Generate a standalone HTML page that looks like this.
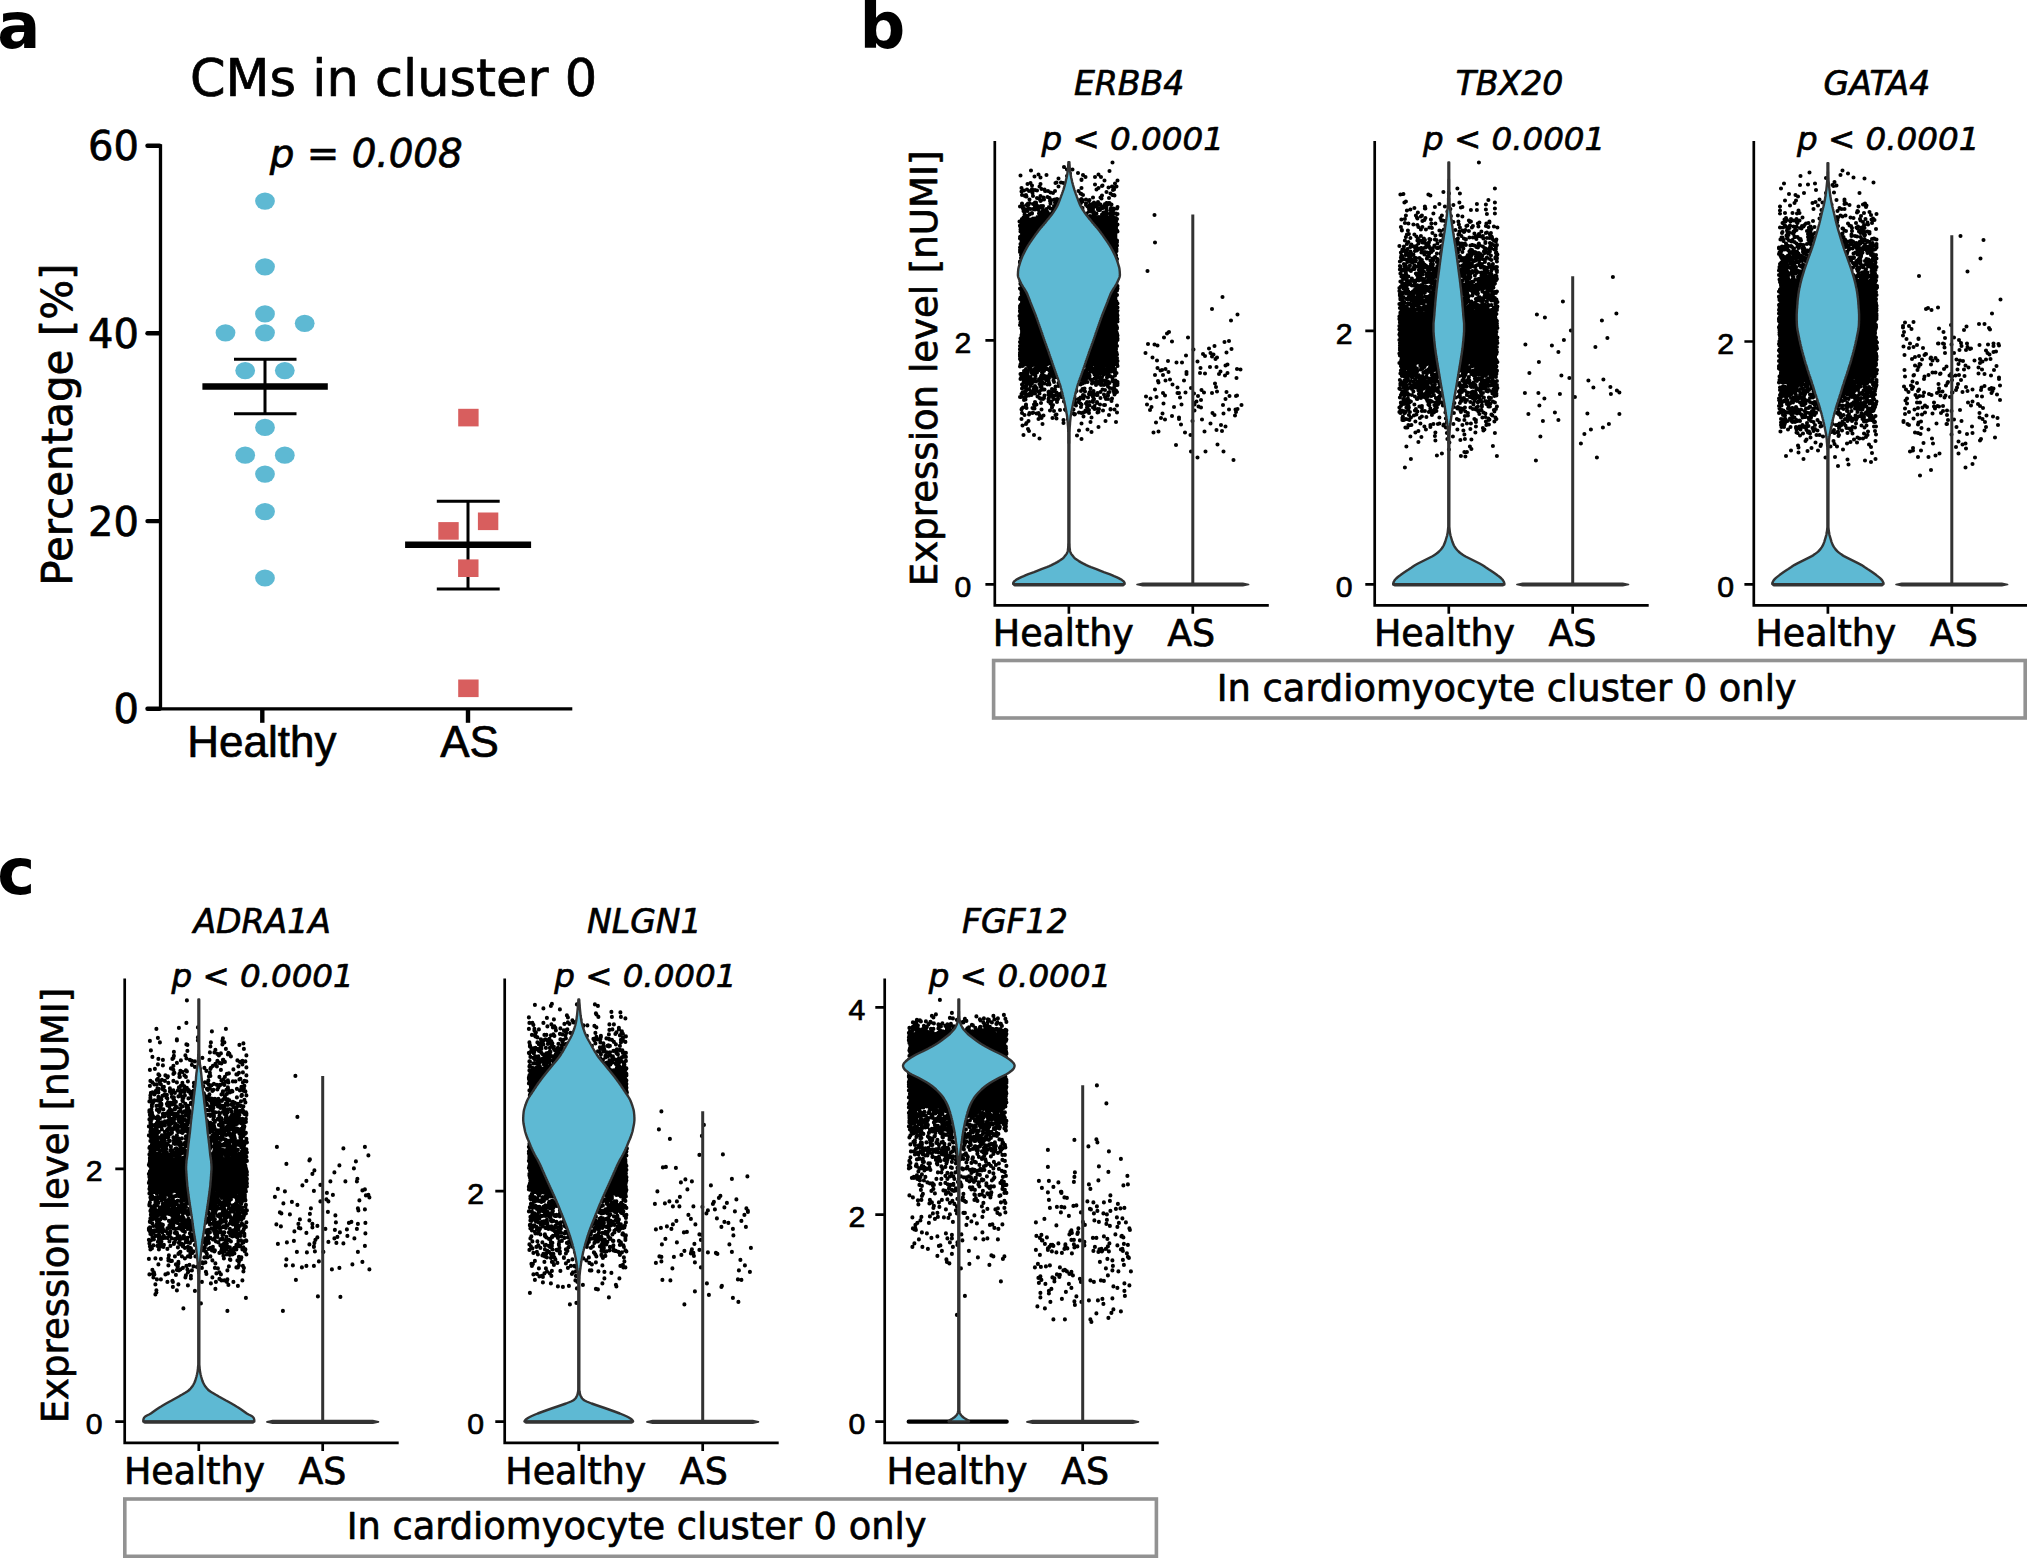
<!DOCTYPE html>
<html lang="en"><head><meta charset="utf-8"><title>Figure</title>
<style>html,body{margin:0;padding:0;background:#fff}svg{display:block}text{stroke:#000;stroke-width:.7px;stroke-linejoin:round}text.nb{stroke:none}</style></head>
<body><svg width="2027" height="1558" viewBox="0 0 2027 1558">
<rect width="2027" height="1558" fill="#fff"/>
<text x="-2.8" y="48.3" font-size="64" text-anchor="start" font-family="'DejaVu Sans', 'Liberation Sans', sans-serif" font-weight="bold" class="nb">a</text>
<text x="859.6" y="48" font-size="64" text-anchor="start" font-family="'DejaVu Sans', 'Liberation Sans', sans-serif" font-weight="bold" class="nb">b</text>
<text x="-2.8" y="894.1" font-size="64" text-anchor="start" font-family="'DejaVu Sans', 'Liberation Sans', sans-serif" font-weight="bold" class="nb">c</text>
<g stroke="#000" fill="none" stroke-linecap="butt">
<path d="M160.5 144.3 V708.8 H572.3" stroke-width="3.3" stroke-linejoin="miter"/>
</g>
<g stroke="#000" stroke-width="4.4" stroke-linecap="round">
<path d="M147.5 145.8 H159.5"/>
<path d="M147.5 333.2 H159.5"/>
<path d="M147.5 521.1 H159.5"/>
<path d="M147.5 708.8 H159.5"/>
</g>
<g stroke="#000" stroke-width="4.4" stroke-linecap="butt">
<path d="M262.3 708.8 V722.8"/>
<path d="M468 708.8 V722.8"/>
</g>
<text x="139" y="160.4" font-size="40" text-anchor="end" font-family="'DejaVu Sans', 'Liberation Sans', sans-serif">60</text>
<text x="139" y="347.8" font-size="40" text-anchor="end" font-family="'DejaVu Sans', 'Liberation Sans', sans-serif">40</text>
<text x="139" y="535.7" font-size="40" text-anchor="end" font-family="'DejaVu Sans', 'Liberation Sans', sans-serif">20</text>
<text x="139" y="723.4" font-size="40" text-anchor="end" font-family="'DejaVu Sans', 'Liberation Sans', sans-serif">0</text>
<text x="261.9" y="757.4" font-size="44" text-anchor="middle" font-family="'Liberation Sans', 'Liberation Sans', sans-serif">Healthy</text>
<text x="469.6" y="757.4" font-size="44" text-anchor="middle" font-family="'Liberation Sans', 'Liberation Sans', sans-serif">AS</text>
<text x="393.5" y="95.5" font-size="51" text-anchor="middle" font-family="'DejaVu Sans', 'Liberation Sans', sans-serif">CMs in cluster 0</text>
<text x="366.3" y="166.6" font-size="38.8" text-anchor="middle" font-family="'DejaVu Sans', 'Liberation Sans', sans-serif" font-style="oblique">p = 0.008</text>
<text transform="translate(72.2 424.7) rotate(-90)" font-size="42.0" text-anchor="middle" font-family="'DejaVu Sans', 'Liberation Sans', sans-serif">Percentage [%]</text>
<g fill="#5EB9D3">
<ellipse cx="265" cy="201.1" rx="9.9" ry="8.6"/>
<ellipse cx="265" cy="266.8" rx="9.9" ry="8.6"/>
<ellipse cx="265" cy="313.9" rx="9.9" ry="8.6"/>
<ellipse cx="304.7" cy="323.3" rx="9.9" ry="8.6"/>
<ellipse cx="225.5" cy="332.8" rx="9.9" ry="8.6"/>
<ellipse cx="265" cy="332.8" rx="9.9" ry="8.6"/>
<ellipse cx="245.2" cy="370.6" rx="9.9" ry="8.6"/>
<ellipse cx="284.8" cy="370.6" rx="9.9" ry="8.6"/>
<ellipse cx="265" cy="427.4" rx="9.9" ry="8.6"/>
<ellipse cx="245.2" cy="455.2" rx="9.9" ry="8.6"/>
<ellipse cx="284.8" cy="455.2" rx="9.9" ry="8.6"/>
<ellipse cx="265" cy="474.1" rx="9.9" ry="8.6"/>
<ellipse cx="265" cy="511.7" rx="9.9" ry="8.6"/>
<ellipse cx="265" cy="578" rx="9.9" ry="8.6"/>
</g>
<g stroke="#000" stroke-width="3" fill="none">
<path d="M265 359.3 V413.8 M234 359.3 H296.5 M234 413.8 H296.5"/>
<path d="M468 501.2 V589 M436.8 501.2 H499.7 M436.8 589 H499.7"/>
</g>
<g stroke="#000" stroke-width="6.4" fill="none">
<path d="M202.4 386.5 H327.8 M405.1 544.8 H531.1"/>
</g>
<g fill="#D85E5E">
<rect x="458.2" y="408.8" width="20.4" height="17.6"/>
<rect x="477.9" y="512.5" width="20.4" height="17.6"/>
<rect x="438.3" y="522.1" width="20.4" height="17.6"/>
<rect x="458.1" y="559.4" width="20.4" height="17.6"/>
<rect x="458.2" y="679.5" width="20.4" height="17.6"/>
</g>
<g transform="translate(0 0)">
<path d="M994.8 141 V605.4 H1268.8" stroke="#000" stroke-width="2.7" fill="none"/>
<path d="M985.4 340.3 H994.8M985.4 584.3 H994.8M1068.9 605.4 V613.7M1192.8 605.4 V613.7" stroke="#000" stroke-width="2.7" fill="none"/>
<text x="971.4" y="353" font-size="30.2" text-anchor="end" font-family="'Liberation Sans', 'Liberation Sans', sans-serif">2</text>
<text x="971.4" y="597" font-size="30.2" text-anchor="end" font-family="'Liberation Sans', 'Liberation Sans', sans-serif">0</text>
<text x="1063.3" y="646.2" font-size="36.4" text-anchor="middle" font-family="'DejaVu Sans', 'Liberation Sans', sans-serif">Healthy</text>
<text x="1191.2" y="646.2" font-size="36.4" text-anchor="middle" font-family="'DejaVu Sans', 'Liberation Sans', sans-serif">AS</text>
<text x="1129.1" y="95.3" font-size="33.1" text-anchor="middle" font-family="'DejaVu Sans', 'Liberation Sans', sans-serif" font-style="oblique">ERBB4</text>
<text x="1132.7" y="149.9" font-size="32.5" text-anchor="middle" font-family="'DejaVu Sans', 'Liberation Sans', sans-serif" font-style="oblique">p &lt; 0.0001</text>
<rect x="1020.1" y="218.6" width="97.2" height="144.5" fill="#000"/>
<path d="M1112.5 162.5h0m-48.5 4.5h0m3 2.5h0m5.5 0h0m-41.5 1h0m78.5 0.5h0m-31.5 2h0m-39.5 1.5h0m31.5 -1h0m28.5 1h0m-78 1h0m26 -0.5h0m36.5 0h0m-48.5 1.5h0m32.5 -0.5h0m-26.5 1.5h0m45 -0.5h0m9.5 0h0m6 0h0m-42.5 1.5h0m23 1.5h0m0 -0.5h0m23 1h0m13 0h0m-87 2.5h0m25 0h0m1 -0.5h0m4.5 0h0m2.5 0.5h0m-36 1h0m13 0h0m74.5 -0.5h0m-83 2h0m63 -1h0m7 1.5h0m0.5 -0.5h0m-63 1h0m19 0h0m53.5 0h0m3 0.5h0m1.5 -0.5h0m-95 1.5h0m60 0h0m17 0h0m10 -0.5h0m-76.5 1.5h0m9.5 0h0m31 0.5h0m41.5 0h0m-90 1h0m3 -1h0m8 0.5h0m9.5 -0.5h0m52 0h0m16.5 0.5h0m-91.5 1.5h0m7.5 -0.5h0m2.5 0h0m5.5 -0.5h0m8 0.5h0m0.5 0h0m2.5 0h0m7 0h0m23.5 0h0m-28 1.5h0m56 -0.5h0m-74 1h0m20.5 0h0m27.5 0.5h0m30 0h0m-29 0.5h0m-59.5 1h0m4 0h0m57 0h0m29.5 0h0m1.5 0h0m-89 1h0m0 -0.5h0m1 1h0m0.5 0h0m6.5 -0.5h0m7.5 0h0m61.5 -0.5h0m12.5 0h0m-67 1.5h0m45.5 0.5h0m7.5 0h0m-63.5 0.5h0m6.5 -0.5h0m6 0.5h0m52 0.5h0m7.5 -0.5h0m-79.5 1.5h0m10 -0.5h0m15 0.5h0m2.5 -0.5h0m24.5 0h0m4.5 0.5h0m-45 1h0m3 -1h0m7.5 0.5h0m6 -0.5h0m1.5 0.5h0m21 0h0m2.5 0h0m7 0h0m-49 1h0m9.5 0h0m10.5 0h0m22 0.5h0m6.5 -0.5h0m-54 1.5h0m59 0h0m4 -0.5h0m-68.5 1h0m6.5 -0.5h0m0 1h0m14.5 -1h0m4.5 0h0m1.5 0.5h0m24.5 0h0m16.5 0.5h0m1 -0.5h0m8 0h0m0.5 0h0m1.5 0h0m0 0h0m1 0h0m-87.5 0.5h0m6 0h0m5 0.5h0m17.5 -0.5h0m28 0.5h0m7.5 -0.5h0m4 1h0m3 -1h0m12 0.5h0m3 0.5h0m-81.5 0.5h0m0 0h0m0.5 0h0m1.5 0h0m8.5 0.5h0m49 -0.5h0m4 -0.5h0m10.5 0h0m11 0h0m-88.5 1.5h0m18 0h0m2 0h0m11 0h0m1 0h0m1 -0.5h0m1.5 0.5h0m30 0.5h0m3.5 -0.5h0m3 0.5h0m1 -0.5h0m2 -0.5h0m6.5 1h0m1 -0.5h0m-84.5 0.5h0m15 0h0m4.5 0h0m0 1h0m1 -0.5h0m2 0.5h0m6.5 -0.5h0m32.5 0.5h0m15.5 -0.5h0m20.5 0h0m-94.5 1.5h0m1 0h0m58.5 -0.5h0m7 -0.5h0m9.5 0.5h0m1 0h0m1.5 0h0m1.5 0h0m3.5 0h0m4.5 0h0m-88 0.5h0m5 0h0m2.5 0.5h0m2.5 0h0m2 0.5h0m3 -0.5h0m8.5 0h0m4 -0.5h0m2 0.5h0m0.5 0h0m0.5 -0.5h0m35.5 0.5h0m1 -0.5h0m3 0.5h0m5 0h0m0 0.5h0m0.5 0h0m2 -0.5h0m13 -0.5h0m3.5 0h0m-90.5 1.5h0m12 0h0m4.5 0h0m2.5 0h0m8 0.5h0m29 -0.5h0m16 0h0m1.5 0h0m6.5 0.5h0m4 -0.5h0m3 0h0m-90 1h0m4 0h0m25.5 0.5h0m38.5 -0.5h0m15 0.5h0m4.5 -1h0m2 0.5h0m-68.5 1.5h0m3 -0.5h0m41.5 -0.5h0m2 0h0m1.5 0.5h0m1.5 0h0m9.5 0.5h0m-79 0h0m6.5 1h0m1 -0.5h0m0 0.5h0m8.5 0h0m0.5 -1h0m1.5 1h0m1 -1h0m8.5 0.5h0m32 0.5h0m2.5 0h0m27 0h0m-74.5 0h0m11.5 0.5h0m46 -0.5h0m10 0.5h0m3.5 -0.5h0m3 1h0m3 -1h0m0.5 0.5h0m0 0h0m1 0h0m-93 1h0m1.5 0.5h0m3.5 -1h0m11 1h0m7 -1h0m3.5 0.5h0m0.5 0.5h0m42 -0.5h0m0.5 0.5h0m8 -1h0m9 1h0m2 -1h0m41.5 0.5h0m-129.5 1h0m0.5 -0.5h0m15 0h0m2 0.5h0m0 0.5h0m2 -1h0m0 0.5h0m2 0h0m1.5 -0.5h0m1.5 0.5h0m36.5 0h0m0.5 0h0m3.5 0h0m5 0h0m9.5 -0.5h0m7.5 1h0m-84.5 0h0m10 0.5h0m0.5 0.5h0m1 -0.5h0m1 -0.5h0m2 1h0m0 0h0m1 -0.5h0m0.5 -0.5h0m7 0h0m38 0.5h0m3 0h0m7 0h0m2 0h0m0.5 0h0m0 0h0m2 -0.5h0m0.5 0h0m3.5 0.5h0m2.5 0h0m3.5 0h0m0.5 0.5h0m-90 0h0m19 0.5h0m3 0h0m1.5 0h0m0 0.5h0m2.5 -0.5h0m37.5 -0.5h0m5 0.5h0m1 -0.5h0m2 0.5h0m2 0h0m2 0.5h0m0.5 -1h0m4 0h0m3 0h0m2 0.5h0m2 0.5h0m1 0h0m2 -0.5h0m2.5 0h0m-94 1h0m1.5 0.5h0m0 -0.5h0m2.5 -0.5h0m0 0.5h0m4 0.5h0m3 -1h0m1 0.5h0m0.5 -0.5h0m5.5 0h0m54 0h0m1 1h0m2.5 -0.5h0m0 -0.5h0m6 1h0m2 -0.5h0m1 -0.5h0m1 0.5h0m3 0.5h0m6 -0.5h0m0.5 0h0m-94.5 1h0m4.5 0h0m1 -0.5h0m0.5 1h0m0 -0.5h0m1.5 0.5h0m3 -1h0m1.5 0.5h0m3 -0.5h0m2 0.5h0m3.5 -0.5h0m49 0h0m1.5 0.5h0m3.5 0h0m0 -0.5h0m4 1h0m2.5 -0.5h0m1 0.5h0m6.5 -1h0m1 0.5h0m3.5 -0.5h0m-96 2h0m0.5 0h0m1.5 -1h0m1 0h0m11 0h0m2 0h0m10.5 0.5h0m3 0h0m0 -0.5h0m39.5 0h0m4.5 0h0m9 0h0m3.5 0h0m-85.5 1.5h0m96 -0.5h0m-94.5 2.5h0m96 0.5h0m-97.5 1h0m0 0.5h0m1 0h0m95.5 -0.5h0m-96 1.5h0m1.5 0h0m94 0h0m0 -0.5h0m-0.5 1.5h0m-94.5 1h0m94.5 0.5h0m0.5 -1h0m-95.5 1h0m95.5 0.5h0m1 0.5h0m0 1h0m-96.5 0h0m96.5 0h0m0.5 0h0m-97 5h0m-0.5 0.5h0m0 1.5h0m0.5 0h0m1 0h0m94 2h0m-94 0.5h0m95.5 0h0m0 -0.5h0m-95.5 2h0m95.5 -0.5h0m-1 1h0m39 -0.5h0m-134.5 1.5h0m1.5 0h0m94.5 0h0m0 1h0m0.5 0.5h0m-95.5 1.5h0m94.5 0h0m-96 0.5h0m96 0.5h0m0.5 1h0m-96.5 1h0m0.5 -0.5h0m95 1h0m1 0.5h0m-96.5 1h0m0.5 -0.5h0m0.5 1h0m1 1.5h0m-1 1h0m0.5 -0.5h0m94.5 1h0m-94.5 2h0m0.5 -0.5h0m93.5 0.5h0m0.5 0h0m-95 0.5h0m94.5 -0.5h0m-93.5 1h0m95 0.5h0m-0.5 2h0m-96.5 0.5h0m1 1h0m-1 0h0m0.5 0.5h0m0 0.5h0m96 -0.5h0m0.5 1.5h0m-96 0.5h0m96.5 2.5h0m-97.5 0.5h0m97.5 0h0m0 1h0m0 0h0m0 1h0m30 1h0m-30 1.5h0m-97.5 0.5h0m0 2h0m0.5 3.5h0m96.5 0h0m0.5 0h0m-96.5 0.5h0m96 0h0m-0.5 1h0m-1 1.5h0m1 -0.5h0m-96 0.5h0m95.5 0h0m-95.5 2h0m1.5 0h0m93.5 -0.5h0m-95 1h0m95 -0.5h0m0.5 0.5h0m0.5 0.5h0m1 1.5h0m-2 1h0m-95.5 1.5h0m97.5 0h0m-96.5 1h0m94.5 0h0m0.5 1h0m0.5 0h0m0.5 0h0m-95.5 1.5h0m0.5 0h0m-0.5 1.5h0m95.5 1.5h0m0 0h0m-96.5 2.5h0m1 0h0m201 -0.5h0m-201.5 1h0m-1 1h0m0 0h0m0.5 0h0m96 2.5h0m-0.5 2h0m1.5 0h0m-1.5 0.5h0m-95 0.5h0m1 1h0m-2 0.5h0m1.5 -0.5h0m0 0h0m94.5 1.5h0m0 0h0m0.5 -0.5h0m1 1h0m-97.5 0.5h0m1.5 -0.5h0m94.5 1h0m1 -0.5h0m-96 1.5h0m94.5 -1h0m96.5 0.5h0m-192 1.5h0m95.5 -0.5h0m0 0h0m2 0.5h0m-97.5 1h0m0.5 1h0m0 0.5h0m96 0h0m0.5 0h0m-96 1h0m216.5 0.5h0m-216 1h0m-2 0.5h0m2.5 0.5h0m94 -0.5h0m1.5 -0.5h0m-2 1.5h0m1.5 0h0m-96 1h0m1 -0.5h0m-2 1.5h0m0.5 0h0m95 0.5h0m2 -0.5h0m113.5 1.5h0m-115 0h0m-94 1.5h0m95.5 -0.5h0m-97 1h0m0.5 1h0m1 0h0m-2 1.5h0m95.5 1.5h0m0 0h0m1 -0.5h0m0.5 2.5h0m0 -1h0m-95.5 1h0m95 3.5h0m52.5 0h0m-52 1.5h0m50 0h0m-145.5 1.5h0m95 0h0m-95 1.5h0m96 -1h0m-96 1.5h0m94.5 0h0m0 0h0m1 0h0m47 0.5h0m24 0h0m-70.5 1h0m-97 0h0m97 0.5h0m-95.5 1.5h0m94 -0.5h0m1.5 0h0m-96 0.5h0m207.5 0.5h0m-209 1h0m152 -0.5h0m52.5 0.5h0m-204 0.5h0m1 0.5h0m0 0h0m94 0h0m0.5 -0.5h0m0 0.5h0m32 1h0m6.5 0.5h0m3 1h0m-137.5 0.5h0m0.5 0h0m96.5 0h0m97.5 0h0m-193.5 2h0m-1 1h0m1.5 -0.5h0m0.5 0.5h0m93.5 0h0m0.5 0h0m77.5 0.5h0m15.5 -1h0m22.5 0.5h0m-211.5 0.5h0m1 0.5h0m1 0.5h0m0 -1h0m-1 2h0m0.5 0.5h0m94.5 0h0m0 0h0m0.5 0.5h0m-96.5 0h0m1 1h0m95 -0.5h0m29.5 0h0m65 0h0m16 -0.5h0m-206.5 1.5h0m1 0h0m95 0h0m0.5 -0.5h0m86.5 0.5h0m10.5 0.5h0m-193.5 0h0m0 1h0m97 -1h0m69 1h0m-70.5 0.5h0m89.5 0h0m7 0.5h0m-192 0h0m0.5 0.5h0m0 0h0m0 1.5h0m1.5 -0.5h0m94.5 0h0m0 0h0m0.5 0h0m35.5 -0.5h0m64.5 0h0m-197 1.5h0m96 0h0m99.5 0h0m-194.5 1h0m1 0h0m94.5 0.5h0m40.5 0h0m-136 0.5h0m3.5 0h0m0.5 0h0m12 0h0m5.5 0h0m44 0.5h0m1 0h0m2 0h0m5 0h0m1 -0.5h0m3 0.5h0m5 0h0m1.5 -0.5h0m1.5 0h0m1.5 0.5h0m9 -0.5h0m0.5 0h0m50.5 0h0m-143.5 0.5h0m4.5 0.5h0m1.5 -0.5h0m1 1h0m2.5 -1h0m0.5 1h0m2.5 -0.5h0m8.5 -0.5h0m3 0.5h0m1 0h0m1.5 0h0m0 -0.5h0m1 0.5h0m1.5 0.5h0m32 -0.5h0m6 0.5h0m5 -0.5h0m1.5 0.5h0m0 -1h0m8 0.5h0m1.5 0h0m1 0.5h0m68 0h0m21 -1h0m-176.5 2h0m2.5 -0.5h0m3.5 -0.5h0m3.5 0.5h0m1 0h0m2.5 0h0m8 0h0m0.5 0h0m2.5 0h0m0.5 0h0m3 0.5h0m0 0h0m0.5 -0.5h0m1.5 0h0m1 0h0m0.5 -0.5h0m32.5 0.5h0m0.5 0h0m4.5 -0.5h0m2 0h0m0.5 0h0m0 1h0m4.5 -0.5h0m2.5 -0.5h0m0.5 0h0m3.5 1h0m0.5 -0.5h0m7 0.5h0m1.5 -0.5h0m3 0h0m67 -0.5h0m-161.5 2h0m2 0h0m6 -0.5h0m11 0.5h0m1.5 0h0m5.5 -1h0m0.5 1h0m44 -0.5h0m2 0.5h0m15 0h0m2.5 -1h0m1.5 0h0m3.5 0.5h0m1.5 0h0m-94 1h0m0.5 0h0m1.5 -0.5h0m2.5 0.5h0m5.5 0h0m3 0h0m2.5 -0.5h0m1 0.5h0m1 -0.5h0m1 1h0m3 0h0m2 -1h0m5.5 0h0m0.5 0h0m32 0.5h0m2 0.5h0m1 -0.5h0m0.5 0h0m1 -0.5h0m0.5 0h0m0.5 0.5h0m0 -0.5h0m1.5 0h0m2 0h0m2.5 0.5h0m1.5 -0.5h0m3 0.5h0m5.5 0h0m119.5 0.5h0m2 -1h0m-207 1.5h0m2 0h0m6 0h0m1 -0.5h0m9 0.5h0m4 -0.5h0m44.5 0.5h0m0.5 0.5h0m1 -0.5h0m2 0.5h0m6 -1h0m3.5 0.5h0m1 -0.5h0m1.5 0.5h0m0 0h0m4 0h0m0.5 0h0m2.5 0h0m1.5 0h0m2 0.5h0m4.5 -0.5h0m-97.5 0.5h0m10.5 1h0m7.5 -0.5h0m13 0h0m2.5 0h0m2 0h0m0.5 0.5h0m25 -0.5h0m1 0.5h0m5 -0.5h0m4 0h0m5 -0.5h0m1 0h0m6 0.5h0m8 0h0m0.5 -0.5h0m98.5 0.5h0m6.5 0h0m-186.5 1h0m9 -0.5h0m1.5 0h0m0 0h0m6 1h0m7 -0.5h0m28 0h0m13 0.5h0m0 0h0m2 -0.5h0m6 0.5h0m1 0h0m4 -0.5h0m6 0h0m44 0h0m43 0h0m-174.5 1h0m8.5 0h0m1 -0.5h0m4.5 0.5h0m4 -0.5h0m2.5 0.5h0m1.5 0h0m4.5 0h0m34.5 0h0m1 0h0m3.5 -0.5h0m3 0h0m3.5 0.5h0m0.5 0h0m3 0.5h0m11 -0.5h0m0.5 0.5h0m2 -0.5h0m50.5 0h0m71.5 0h0m3.5 0.5h0m-212 0.5h0m4.5 0h0m9 0h0m8 0h0m3.5 0h0m41 0.5h0m4 0h0m4 0h0m0 -1h0m4 0.5h0m0.5 -0.5h0m1 1h0m2.5 -1h0m1.5 0h0m50 0.5h0m-138 1h0m1 -0.5h0m6.5 0.5h0m0 0.5h0m1.5 0h0m0.5 0h0m0.5 -0.5h0m2 0.5h0m2.5 -1h0m5.5 0.5h0m5.5 0h0m7 0h0m23.5 -0.5h0m1.5 0.5h0m3 0h0m1.5 0h0m4.5 0.5h0m0.5 -0.5h0m3.5 -0.5h0m11 0h0m6 1h0m3.5 -0.5h0m45.5 -0.5h0m-133 2h0m14.5 0h0m10 -0.5h0m0.5 0h0m4.5 0h0m23 0h0m4 0h0m8.5 -0.5h0m0.5 0.5h0m3.5 -0.5h0m0.5 0.5h0m1.5 0h0m6.5 -0.5h0m5.5 0h0m4.5 0.5h0m0.5 0h0m53 0h0m18 0h0m34 -0.5h0m-197.5 2h0m2.5 -0.5h0m6 0h0m3 -0.5h0m2 0h0m0.5 0h0m5.5 0h0m10.5 0h0m1 0.5h0m29 0h0m6 0h0m5 0h0m1 0h0m1 0.5h0m4.5 -1h0m0.5 0.5h0m0.5 0h0m15 0h0m83.5 0h0m27.5 0h0m-207 1h0m0.5 0h0m3.5 -0.5h0m8.5 0.5h0m16.5 0.5h0m3 0h0m2 -0.5h0m24.5 0h0m8 0h0m2 0.5h0m5.5 0h0m1 -0.5h0m1.5 0h0m2.5 0h0m4.5 0.5h0m2.5 -0.5h0m2 0h0m6.5 -0.5h0m71.5 0.5h0m18.5 -0.5h0m14 0.5h0m-197.5 1.5h0m6 -0.5h0m7.5 0h0m6.5 0.5h0m8 -0.5h0m2.5 0.5h0m2.5 -0.5h0m3.5 0.5h0m22.5 -1h0m3 0.5h0m0.5 0h0m2 0h0m0 -0.5h0m1 0.5h0m0.5 0h0m1.5 0h0m8.5 0.5h0m17.5 0h0m40 -0.5h0m8 0h0m62 0.5h0m-201 0.5h0m1.5 0h0m0.5 0.5h0m9.5 -0.5h0m8.5 -0.5h0m0 0.5h0m14 0h0m22.5 0.5h0m6.5 -1h0m2.5 0h0m6.5 1h0m13 -0.5h0m1 0h0m0.5 0.5h0m0 0h0m-85.5 0.5h0m2.5 0h0m3 0h0m10.5 -0.5h0m2.5 1h0m3 -1h0m6.5 0.5h0m1.5 0.5h0m1 -0.5h0m0 0h0m1 0h0m26 -0.5h0m4 0h0m2 1h0m1 -1h0m6.5 1h0m3.5 0h0m2.5 -0.5h0m10 0h0m-91 1h0m10 0.5h0m4 0h0m8 0h0m3 -0.5h0m3 0h0m9.5 0h0m0 0h0m1.5 0.5h0m18 -1h0m5.5 0.5h0m4 0h0m8 -0.5h0m0 0.5h0m1 0h0m10.5 -0.5h0m5.5 0.5h0m124 0h0m-216 1h0m2 0h0m3 0.5h0m1 -1h0m4.5 0h0m8 0.5h0m1.5 -0.5h0m5 0.5h0m1 0h0m12.5 -0.5h0m18 1h0m3.5 -0.5h0m0 -0.5h0m1 0.5h0m4.5 0h0m5 0.5h0m3.5 -1h0m6 0.5h0m69.5 0.5h0m-145 0h0m1.5 0h0m3.5 0.5h0m0.5 -0.5h0m0 1h0m3.5 -0.5h0m12 0h0m7.5 0.5h0m29.5 0h0m9 -0.5h0m8.5 0h0m3 0.5h0m0.5 0h0m8.5 0h0m3 0h0m50 0h0m18.5 0h0m-148.5 0.5h0m0.5 0.5h0m3 -1h0m0.5 0h0m2.5 1h0m6.5 -0.5h0m30 0h0m7.5 0h0m6 0h0m5.5 0.5h0m8.5 -0.5h0m0.5 0.5h0m6 -0.5h0m45.5 0h0m-132.5 1.5h0m3 0h0m5.5 -1h0m14.5 0.5h0m5.5 0h0m31 0h0m2.5 0h0m5.5 0.5h0m3 -0.5h0m2.5 -0.5h0m9 0.5h0m0.5 -0.5h0m9.5 0.5h0m41 0.5h0m-135 0h0m4 0h0m3.5 1h0m1 -0.5h0m8 0.5h0m9 -0.5h0m9.5 0h0m23 0h0m3.5 -0.5h0m12 1h0m2 -1h0m2.5 0h0m4 1h0m2 -0.5h0m2 0h0m-80 0.5h0m2 0h0m8 0.5h0m1.5 -0.5h0m3.5 0h0m5 1h0m10 -0.5h0m23 -0.5h0m9.5 0h0m4.5 0h0m2 0h0m7 0.5h0m0 -0.5h0m1 0.5h0m8 0h0m3 -0.5h0m55 1h0m42.5 -1h0m-193 1h0m0.5 0.5h0m4 0h0m14 0.5h0m7 -1h0m33 0h0m15.5 0.5h0m5 0h0m3 0h0m11 0h0m0.5 -0.5h0m1 0h0m0.5 0h0m0 0.5h0m0.5 0h0m-94 1h0m2.5 0.5h0m4.5 -0.5h0m4.5 0h0m5.5 0.5h0m1 -0.5h0m17 0h0m49.5 0.5h0m6.5 -0.5h0m-80.5 1h0m21.5 -0.5h0m20.5 0.5h0m101.5 0.5h0m38.5 -0.5h0m-193.5 1h0m1.5 -0.5h0m1.5 0h0m9.5 0.5h0m1.5 0.5h0m0 -0.5h0m39.5 0.5h0m8.5 0h0m6 0h0m19 -0.5h0m81.5 0h0m-169 0.5h0m4 0.5h0m3 0h0m4.5 0.5h0m9 -0.5h0m0.5 0.5h0m9 -0.5h0m3 0.5h0m27.5 -0.5h0m29.5 -0.5h0m2.5 0.5h0m0 0.5h0m-87.5 0.5h0m14 0h0m3.5 -0.5h0m39.5 0h0m18.5 0h0m2.5 0.5h0m8.5 0.5h0m41.5 -1h0m46.5 0.5h0m-170.5 1.5h0m4 -0.5h0m3.5 0.5h0m10.5 0h0m27.5 -0.5h0m4.5 0h0m12.5 0h0m22.5 -0.5h0m101 1h0m-194.5 1h0m1.5 -0.5h0m24.5 0h0m4.5 -0.5h0m3.5 1h0m5.5 0h0m12.5 -1h0m0.5 1h0m10 -1h0m4.5 1h0m0.5 -0.5h0m10.5 0h0m8 0.5h0m1 -0.5h0m7.5 0h0m87 0.5h0m22.5 -0.5h0m-203.5 1h0m1 0h0m9 0.5h0m0.5 -0.5h0m1.5 0.5h0m15 -0.5h0m47.5 0h0m16.5 -0.5h0m49 0.5h0m14.5 0h0m1.5 0h0m6.5 -0.5h0m26.5 0.5h0m-190.5 1h0m4 -0.5h0m3.5 0.5h0m10.5 -0.5h0m9 1h0m11 -0.5h0m29.5 0h0m1.5 0.5h0m2.5 -0.5h0m1 0h0m14 0h0m7 -0.5h0m79 0h0m-168 1.5h0m5.5 0h0m13 0.5h0m7 -0.5h0m9 0h0m22.5 0h0m13.5 0h0m1 0h0m6.5 -0.5h0m4 1h0m6.5 -1h0m-88.5 2h0m3 -1h0m25.5 0h0m3.5 0.5h0m26.5 0h0m61.5 0.5h0m19 -1h0m33 0.5h0m31.5 0h0m6.5 0h0m1 -0.5h0m-217 1.5h0m1 0h0m0 0h0m2 0h0m14.5 -0.5h0m11.5 1h0m12.5 -0.5h0m11 -0.5h0m2 0.5h0m18.5 0h0m12 0h0m51.5 0h0m23.5 0.5h0m-140.5 0.5h0m4.5 0h0m9 -0.5h0m11 0h0m16.5 0h0m2 0.5h0m5.5 -0.5h0m12.5 0.5h0m0 0h0m50 0.5h0m-125 1h0m15.5 -0.5h0m1 -0.5h0m1 0.5h0m5.5 0h0m5.5 0h0m3.5 0h0m0.5 0h0m6.5 0h0m10.5 0.5h0m3.5 -0.5h0m5 -0.5h0m10.5 0.5h0m12 0h0m2 0h0m4 -0.5h0m113.5 0.5h0m-201.5 1h0m1 -0.5h0m54.5 0h0m121.5 0.5h0m-149.5 1.5h0m5.5 -1h0m36 0h0m18.5 0.5h0m-76.5 1h0m13.5 -0.5h0m8.5 0.5h0m7 -0.5h0m7 1h0m7.5 -0.5h0m8.5 0h0m2.5 0h0m3.5 0h0m4 0h0m99.5 -0.5h0m-155.5 1.5h0m9.5 0.5h0m21 -0.5h0m4 0h0m5 0.5h0m16.5 -0.5h0m66.5 0.5h0m30.5 -0.5h0m-121 1h0m1 0h0m7.5 0.5h0m4.5 -1h0m61 1h0m34.5 0h0m-155.5 1h0m0 -1h0m8 0h0m1.5 0.5h0m1 -0.5h0m16.5 0.5h0m14 0h0m9 0.5h0m11 -0.5h0m13 -0.5h0m4 0.5h0m1 0h0m12 0.5h0m77.5 -1h0m28.5 0.5h0m18.5 0h0m-189.5 1h0m37.5 -0.5h0m5 0.5h0m-13.5 1h0m6 0.5h0m6 0h0m58.5 -0.5h0m22.5 0h0m24.5 -0.5h0m2.5 1h0m-179 1h0m1 -1h0m3.5 0.5h0m6 0h0m19.5 -0.5h0m18 0.5h0m-35.5 0.5h0m7 1h0m23.5 0h0m8.5 0h0m21 -0.5h0m3 0h0m1.5 0h0m11.5 0.5h0m0 -0.5h0m4 0.5h0m123 -0.5h0m-216 0.5h0m38.5 0.5h0m6 0.5h0m19.5 0h0m3.5 -0.5h0m61 0h0m44.5 0.5h0m34.5 -1h0m6.5 0h0m-185.5 1h0m4 0.5h0m34.5 0.5h0m14.5 -1h0m-70 2h0m46 0h0m4 0h0m0.5 0h0m1 -0.5h0m1.5 -0.5h0m11.5 1h0m1 -0.5h0m18.5 0.5h0m119 -0.5h0m-214 1h0m7.5 0h0m3 0h0m4 0.5h0m2 -0.5h0m35 0.5h0m8 -0.5h0m7.5 0h0m123.5 0h0m-137.5 1h0m87.5 -0.5h0m61 0h0m-199 1.5h0m4.5 -0.5h0m10.5 0.5h0m16 0h0m1 -0.5h0m18 0h0m34.5 0.5h0m105.5 0h0m20.5 0.5h0m-191.5 0h0m128.5 0.5h0m-132 0.5h0m29 0.5h0m14.5 -0.5h0m-42 1.5h0m11 0h0m4 0.5h0m35 -1h0m69.5 0.5h0m18 -0.5h0m-157.5 1.5h0m17 0h0m29.5 0h0m97 0.5h0m14 -0.5h0m23 0.5h0m-138.5 0.5h0m-35 1h0m77 0h0m87 0h0m-102 1h0m25.5 0h0m-89.5 1h0m37 0h0m18 0.5h0m74.5 -1h0m-130 1.5h0m16.5 0h0m26.5 0.5h0m141.5 -1h0m-188 2h0m46.5 -0.5h0m112 -0.5h0m40 0.5h0m4.5 1.5h0m-127 0.5h0m-70.5 2h0m59.5 0.5h0m129 0.5h0m-187.5 1h0m50 -0.5h0m125.5 1h0m17.5 -0.5h0m-130.5 1h0m62 0.5h0m5 -1h0m26.5 1h0m-161.5 2.5h0m10.5 0h0m156.5 0h0m-113.5 0.5h0m-37.5 3h0m42 0.5h0m136 5.5h0m-41.5 0.5h0m29.5 6.5h0m-14.5 0h0m32.5 0h0m-26 6h0m36 2.5h0" stroke="#000" stroke-width="4.1" stroke-linecap="round" fill="none"/>
<path d="M1068.4 162.1 1068.4 163.1 1068.3 164.1 1068.2 165.1 1068.2 166.1 1068.1 167.1 1068 168.1 1067.9 169.1 1067.8 170.1 1067.7 171.1 1067.6 172.1 1067.4 173.1 1067.3 174.1 1067.1 175.1 1066.9 176.1 1066.7 177.1 1066.5 178.1 1066.2 179.1 1066 180.1 1065.8 181.1 1065.6 182.1 1065.3 183.1 1065 184.1 1064.8 185.1 1064.5 186.1 1064.2 187.1 1063.9 188.1 1063.6 189.1 1063.3 190.1 1062.9 191.1 1062.6 192.1 1062.2 193.1 1061.9 194.1 1061.5 195.1 1061.1 196.1 1060.8 197.1 1060.4 198.1 1060 199.1 1059.7 200.1 1059.3 201.1 1058.9 202.1 1058.5 203.1 1058.1 204.1 1057.6 205.1 1057.1 206.1 1056.6 207.1 1056 208.1 1055.4 209.1 1054.8 210.1 1054.1 211.1 1053.5 212.1 1052.8 213.1 1052.1 214.1 1051.4 215.1 1050.6 216.1 1049.8 217.1 1049 218.1 1048.1 219.1 1047.3 220.1 1046.5 221.1 1045.7 222.1 1044.8 223.1 1044 224.1 1043.1 225.1 1042.3 226.1 1041.4 227.1 1040.6 228.1 1039.8 229.1 1039 230.1 1038.2 231.1 1037.5 232.1 1036.7 233.1 1036 234.1 1035.2 235.1 1034.5 236.1 1033.8 237.1 1033.1 238.1 1032.4 239.1 1031.7 240.1 1031 241.1 1030.3 242.1 1029.6 243.1 1029 244.1 1028.3 245.1 1027.7 246.1 1027.1 247.1 1026.5 248.1 1026 249.1 1025.4 250.1 1024.9 251.1 1024.4 252.1 1023.9 253.1 1023.4 254.1 1022.9 255.1 1022.5 256.1 1022.1 257.1 1021.7 258.1 1021.3 259.1 1020.9 260.1 1020.6 261.1 1020.2 262.1 1019.9 263.1 1019.6 264.1 1019.3 265.1 1019 266.1 1018.7 267.1 1018.5 268.1 1018.3 269.1 1018.2 270.1 1018.1 271.1 1018 272.1 1018 273.1 1017.9 274.1 1017.9 275.1 1018 276.1 1018.2 277.1 1018.6 278.1 1019 279.1 1019.5 280.1 1019.9 281.1 1020.4 282.1 1020.9 283.1 1021.4 284.1 1022 285.1 1022.6 286.1 1023.2 287.1 1023.9 288.1 1024.5 289.1 1025.1 290.1 1025.7 291.1 1026.3 292.1 1026.8 293.1 1027.3 294.1 1027.7 295.1 1028.1 296.1 1028.5 297.1 1028.9 298.1 1029.3 299.1 1029.7 300.1 1030.1 301.1 1030.4 302.1 1030.8 303.1 1031.2 304.1 1031.6 305.1 1032 306.1 1032.4 307.1 1032.8 308.1 1033.2 309.1 1033.6 310.1 1034 311.1 1034.4 312.1 1034.8 313.1 1035.2 314.1 1035.6 315.1 1036 316.1 1036.3 317.1 1036.7 318.1 1037.1 319.1 1037.4 320.1 1037.8 321.1 1038.1 322.1 1038.5 323.1 1038.8 324.1 1039.2 325.1 1039.5 326.1 1039.9 327.1 1040.2 328.1 1040.6 329.1 1040.9 330.1 1041.3 331.1 1041.6 332.1 1042 333.1 1042.3 334.1 1042.6 335.1 1043 336.1 1043.3 337.1 1043.7 338.1 1044 339.1 1044.4 340.1 1044.7 341.1 1045.1 342.1 1045.4 343.1 1045.8 344.1 1046.2 345.1 1046.5 346.1 1046.9 347.1 1047.2 348.1 1047.6 349.1 1048 350.1 1048.3 351.1 1048.7 352.1 1049 353.1 1049.3 354.1 1049.7 355.1 1050 356.1 1050.4 357.1 1050.7 358.1 1051.1 359.1 1051.4 360.1 1051.8 361.1 1052.1 362.1 1052.4 363.1 1052.8 364.1 1053.1 365.1 1053.5 366.1 1053.8 367.1 1054.2 368.1 1054.5 369.1 1054.9 370.1 1055.2 371.1 1055.6 372.1 1055.9 373.1 1056.3 374.1 1056.6 375.1 1057 376.1 1057.3 377.1 1057.7 378.1 1058.1 379.1 1058.4 380.1 1058.8 381.1 1059.1 382.1 1059.4 383.1 1059.8 384.1 1060.1 385.1 1060.4 386.1 1060.7 387.1 1060.9 388.1 1061.2 389.1 1061.5 390.1 1061.7 391.1 1062 392.1 1062.3 393.1 1062.5 394.1 1062.7 395.1 1063 396.1 1063.2 397.1 1063.5 398.1 1063.7 399.1 1063.9 400.1 1064.2 401.1 1064.4 402.1 1064.6 403.1 1064.8 404.1 1065 405.1 1065.2 406.1 1065.4 407.1 1065.6 408.1 1065.8 409.1 1066 410.1 1066.2 411.1 1066.3 412.1 1066.5 413.1 1066.7 414.1 1066.9 415.1 1067 416.1 1067.2 417.1 1067.3 418.1 1067.4 419.1 1067.5 420.1 1067.6 421.1 1067.7 422.1 1067.8 423.1 1067.8 424.1 1067.9 425.1 1068 426.1 1068.1 427.1 1068.1 428.1 1068.2 429.1 1068.2 430.1 1068.2 431.1 1068.3 432.1 1068.3 433.1 1068.3 434.1 1068.3 435.1 1068.3 436.1 1068.3 437.1 1068.3 438.1 1068.3 439.1 1068.3 440.1 1068.3 441.1 1068.3 442.1 1068.3 443.1 1068.4 444.1 1068.4 445.1 1068.4 446.1 1068.4 447.1 1068.4 448.1 1068.4 449.1 1068.4 450.1 1068.4 451.1 1068.4 452.1 1068.4 453.1 1068.4 454.1 1068.4 455.1 1068.4 456.1 1068.4 457.1 1068.4 458.1 1068.4 459.1 1068.4 460.1 1068.4 461.1 1068.4 462.1 1068.4 463.1 1068.4 464.1 1068.4 465.1 1068.4 466.1 1068.4 467.1 1068.4 468.1 1068.4 469.1 1068.4 470.1 1068.4 471.1 1068.4 472.1 1068.4 473.1 1068.4 474.1 1068.4 475.1 1068.4 476.1 1068.4 477.1 1068.4 478.1 1068.4 479.1 1068.4 480.1 1068.4 481.1 1068.4 482.1 1068.4 483.1 1068.4 484.1 1068.4 485.1 1068.4 486.1 1068.4 487.1 1068.4 488.1 1068.4 489.1 1068.4 490.1 1068.4 491.1 1068.4 492.1 1068.4 493.1 1068.4 494.1 1068.4 495.1 1068.4 496.1 1068.4 497.1 1068.4 498.1 1068.4 499.1 1068.4 500.1 1068.4 501.1 1068.4 502.1 1068.4 503.1 1068.4 504.1 1068.4 505.1 1068.4 506.1 1068.4 507.1 1068.4 508.1 1068.4 509.1 1068.4 510.1 1068.4 511.1 1068.4 512.1 1068.4 513.1 1068.4 514.1 1068.4 515.1 1068.4 516.1 1068.4 517.1 1068.4 518.1 1068.4 519.1 1068.4 520.1 1068.4 521.1 1068.4 522.1 1068.4 523.1 1068.4 524.1 1068.4 525.1 1068.4 526.1 1068.4 527.1 1068.4 528.1 1068.4 529.1 1068.4 530.1 1068.4 531.1 1068.4 532.1 1068.4 533.1 1068.4 534.1 1068.4 535.1 1068.4 536.1 1068.4 537.1 1068.4 538.1 1068.4 539.1 1068.4 540.1 1068.4 541.1 1068.4 542.1 1068.4 543.1 1068.3 544.1 1068.3 545.1 1068.3 546.1 1068.2 547.1 1068.2 548.1 1068 549.1 1067.9 550.1 1067.7 551.1 1067.4 552.1 1067 553.1 1066.4 554.1 1065.7 555.1 1064.9 556.1 1064.1 557.1 1063.1 558.1 1062 559.1 1060.5 560.1 1058.9 561.1 1057.2 562.1 1055.4 563.1 1053.4 564.1 1051.5 565.1 1049.3 566.1 1046.8 567.1 1044.1 568.1 1041.4 569.1 1039 570.1 1036.5 571.1 1034 572.1 1031.2 573.1 1028.3 574.1 1025.9 575.1 1023.7 576.1 1021.3 577.1 1019.2 578.1 1017.4 579.1 1015.8 580.1 1014.5 581.1 1013.7 582.1 1013.2 583.1 1013.2 584.1 L1124.6 584.1 1124.6 583.1 1124.1 582.1 1123.3 581.1 1122 580.1 1120.4 579.1 1118.6 578.1 1116.5 577.1 1114.1 576.1 1111.9 575.1 1109.5 574.1 1106.6 573.1 1103.8 572.1 1101.3 571.1 1098.8 570.1 1096.4 569.1 1093.7 568.1 1091 567.1 1088.5 566.1 1086.3 565.1 1084.4 564.1 1082.4 563.1 1080.6 562.1 1078.9 561.1 1077.3 560.1 1075.8 559.1 1074.7 558.1 1073.7 557.1 1072.9 556.1 1072.1 555.1 1071.4 554.1 1070.8 553.1 1070.4 552.1 1070.1 551.1 1069.9 550.1 1069.8 549.1 1069.6 548.1 1069.6 547.1 1069.5 546.1 1069.5 545.1 1069.5 544.1 1069.4 543.1 1069.4 542.1 1069.4 541.1 1069.4 540.1 1069.4 539.1 1069.4 538.1 1069.4 537.1 1069.4 536.1 1069.4 535.1 1069.4 534.1 1069.4 533.1 1069.4 532.1 1069.4 531.1 1069.4 530.1 1069.4 529.1 1069.4 528.1 1069.4 527.1 1069.4 526.1 1069.4 525.1 1069.4 524.1 1069.4 523.1 1069.4 522.1 1069.4 521.1 1069.4 520.1 1069.4 519.1 1069.4 518.1 1069.4 517.1 1069.4 516.1 1069.4 515.1 1069.4 514.1 1069.4 513.1 1069.4 512.1 1069.4 511.1 1069.4 510.1 1069.4 509.1 1069.4 508.1 1069.4 507.1 1069.4 506.1 1069.4 505.1 1069.4 504.1 1069.4 503.1 1069.4 502.1 1069.4 501.1 1069.4 500.1 1069.4 499.1 1069.4 498.1 1069.4 497.1 1069.4 496.1 1069.4 495.1 1069.4 494.1 1069.4 493.1 1069.4 492.1 1069.4 491.1 1069.4 490.1 1069.4 489.1 1069.4 488.1 1069.4 487.1 1069.4 486.1 1069.4 485.1 1069.4 484.1 1069.4 483.1 1069.4 482.1 1069.4 481.1 1069.4 480.1 1069.4 479.1 1069.4 478.1 1069.4 477.1 1069.4 476.1 1069.4 475.1 1069.4 474.1 1069.4 473.1 1069.4 472.1 1069.4 471.1 1069.4 470.1 1069.4 469.1 1069.4 468.1 1069.4 467.1 1069.4 466.1 1069.4 465.1 1069.4 464.1 1069.4 463.1 1069.4 462.1 1069.4 461.1 1069.4 460.1 1069.4 459.1 1069.4 458.1 1069.4 457.1 1069.4 456.1 1069.4 455.1 1069.4 454.1 1069.4 453.1 1069.4 452.1 1069.4 451.1 1069.4 450.1 1069.4 449.1 1069.4 448.1 1069.4 447.1 1069.4 446.1 1069.4 445.1 1069.4 444.1 1069.5 443.1 1069.5 442.1 1069.5 441.1 1069.5 440.1 1069.5 439.1 1069.5 438.1 1069.5 437.1 1069.5 436.1 1069.5 435.1 1069.5 434.1 1069.5 433.1 1069.5 432.1 1069.6 431.1 1069.6 430.1 1069.6 429.1 1069.7 428.1 1069.7 427.1 1069.8 426.1 1069.9 425.1 1070 424.1 1070 423.1 1070.1 422.1 1070.2 421.1 1070.3 420.1 1070.4 419.1 1070.5 418.1 1070.6 417.1 1070.8 416.1 1070.9 415.1 1071.1 414.1 1071.3 413.1 1071.5 412.1 1071.6 411.1 1071.8 410.1 1072 409.1 1072.2 408.1 1072.4 407.1 1072.6 406.1 1072.8 405.1 1073 404.1 1073.2 403.1 1073.4 402.1 1073.6 401.1 1073.9 400.1 1074.1 399.1 1074.3 398.1 1074.6 397.1 1074.8 396.1 1075.1 395.1 1075.3 394.1 1075.5 393.1 1075.8 392.1 1076.1 391.1 1076.3 390.1 1076.6 389.1 1076.9 388.1 1077.1 387.1 1077.4 386.1 1077.7 385.1 1078 384.1 1078.4 383.1 1078.7 382.1 1079 381.1 1079.4 380.1 1079.7 379.1 1080.1 378.1 1080.5 377.1 1080.8 376.1 1081.2 375.1 1081.5 374.1 1081.9 373.1 1082.2 372.1 1082.6 371.1 1082.9 370.1 1083.3 369.1 1083.6 368.1 1084 367.1 1084.3 366.1 1084.7 365.1 1085 364.1 1085.4 363.1 1085.7 362.1 1086 361.1 1086.4 360.1 1086.7 359.1 1087.1 358.1 1087.4 357.1 1087.8 356.1 1088.1 355.1 1088.5 354.1 1088.8 353.1 1089.1 352.1 1089.5 351.1 1089.8 350.1 1090.2 349.1 1090.6 348.1 1090.9 347.1 1091.3 346.1 1091.6 345.1 1092 344.1 1092.4 343.1 1092.7 342.1 1093.1 341.1 1093.4 340.1 1093.8 339.1 1094.1 338.1 1094.5 337.1 1094.8 336.1 1095.2 335.1 1095.5 334.1 1095.8 333.1 1096.2 332.1 1096.5 331.1 1096.9 330.1 1097.2 329.1 1097.6 328.1 1097.9 327.1 1098.3 326.1 1098.6 325.1 1099 324.1 1099.3 323.1 1099.7 322.1 1100 321.1 1100.4 320.1 1100.7 319.1 1101.1 318.1 1101.5 317.1 1101.8 316.1 1102.2 315.1 1102.6 314.1 1103 313.1 1103.4 312.1 1103.8 311.1 1104.2 310.1 1104.6 309.1 1105 308.1 1105.4 307.1 1105.8 306.1 1106.2 305.1 1106.6 304.1 1107 303.1 1107.4 302.1 1107.7 301.1 1108.1 300.1 1108.5 299.1 1108.9 298.1 1109.3 297.1 1109.7 296.1 1110.1 295.1 1110.5 294.1 1111 293.1 1111.5 292.1 1112.1 291.1 1112.7 290.1 1113.3 289.1 1113.9 288.1 1114.6 287.1 1115.2 286.1 1115.8 285.1 1116.4 284.1 1116.9 283.1 1117.4 282.1 1117.9 281.1 1118.3 280.1 1118.8 279.1 1119.2 278.1 1119.6 277.1 1119.8 276.1 1119.9 275.1 1119.9 274.1 1119.8 273.1 1119.8 272.1 1119.7 271.1 1119.6 270.1 1119.5 269.1 1119.3 268.1 1119.1 267.1 1118.8 266.1 1118.5 265.1 1118.2 264.1 1117.9 263.1 1117.6 262.1 1117.2 261.1 1116.9 260.1 1116.5 259.1 1116.1 258.1 1115.7 257.1 1115.3 256.1 1114.9 255.1 1114.4 254.1 1113.9 253.1 1113.4 252.1 1112.9 251.1 1112.4 250.1 1111.8 249.1 1111.3 248.1 1110.7 247.1 1110.1 246.1 1109.5 245.1 1108.8 244.1 1108.2 243.1 1107.5 242.1 1106.8 241.1 1106.1 240.1 1105.4 239.1 1104.7 238.1 1104 237.1 1103.3 236.1 1102.6 235.1 1101.8 234.1 1101.1 233.1 1100.3 232.1 1099.6 231.1 1098.8 230.1 1098 229.1 1097.2 228.1 1096.4 227.1 1095.5 226.1 1094.7 225.1 1093.8 224.1 1093 223.1 1092.1 222.1 1091.3 221.1 1090.5 220.1 1089.7 219.1 1088.8 218.1 1088 217.1 1087.2 216.1 1086.4 215.1 1085.7 214.1 1085 213.1 1084.3 212.1 1083.7 211.1 1083 210.1 1082.4 209.1 1081.8 208.1 1081.2 207.1 1080.7 206.1 1080.2 205.1 1079.7 204.1 1079.3 203.1 1078.9 202.1 1078.5 201.1 1078.1 200.1 1077.8 199.1 1077.4 198.1 1077 197.1 1076.7 196.1 1076.3 195.1 1075.9 194.1 1075.6 193.1 1075.2 192.1 1074.9 191.1 1074.5 190.1 1074.2 189.1 1073.9 188.1 1073.6 187.1 1073.3 186.1 1073 185.1 1072.8 184.1 1072.5 183.1 1072.2 182.1 1072 181.1 1071.8 180.1 1071.6 179.1 1071.3 178.1 1071.1 177.1 1070.9 176.1 1070.7 175.1 1070.5 174.1 1070.4 173.1 1070.2 172.1 1070.1 171.1 1070 170.1 1069.9 169.1 1069.8 168.1 1069.7 167.1 1069.6 166.1 1069.6 165.1 1069.5 164.1 1069.4 163.1 1069.4 162.1 Z" fill="#5EB9D3" stroke="#333333" stroke-width="2.4" stroke-linejoin="round"/>
<path d="M1014.7 584.7 H1123.1" stroke="#333333" stroke-width="3.4" stroke-linecap="round" fill="none"/>
<path d="M1192.8 214.5 V584.3" stroke="#333333" stroke-width="3.0" fill="none"/>
<path d="M1137 584.5 L1142.8 583.2 L1242.8 583.2 L1248.6 584.5 L1242.8 585.8 L1142.8 585.8 Z" fill="#333333" stroke="#333333" stroke-width="1.6" stroke-linejoin="round"/>
</g>
<g transform="translate(379.9 0)">
<path d="M994.8 141 V605.4 H1268.8" stroke="#000" stroke-width="2.7" fill="none"/>
<path d="M985.4 330.8 H994.8M985.4 584.3 H994.8M1068.9 605.4 V613.7M1192.8 605.4 V613.7" stroke="#000" stroke-width="2.7" fill="none"/>
<text x="972.7" y="343.5" font-size="30.2" text-anchor="end" font-family="'Liberation Sans', 'Liberation Sans', sans-serif">2</text>
<text x="972.7" y="597" font-size="30.2" text-anchor="end" font-family="'Liberation Sans', 'Liberation Sans', sans-serif">0</text>
<text x="1064.6" y="646.2" font-size="36.4" text-anchor="middle" font-family="'DejaVu Sans', 'Liberation Sans', sans-serif">Healthy</text>
<text x="1192.5" y="646.2" font-size="36.4" text-anchor="middle" font-family="'DejaVu Sans', 'Liberation Sans', sans-serif">AS</text>
<text x="1129.6" y="95.3" font-size="33.1" text-anchor="middle" font-family="'DejaVu Sans', 'Liberation Sans', sans-serif" font-style="oblique">TBX20</text>
<text x="1134.2" y="149.9" font-size="32.5" text-anchor="middle" font-family="'DejaVu Sans', 'Liberation Sans', sans-serif" font-style="oblique">p &lt; 0.0001</text>
<rect x="1019.9" y="311.5" width="97.2" height="53" fill="#000"/>
<path d="M1099 162.5h0m-21.5 26h0m37.5 0h0m-51.5 3.5h0m5.5 1.5h0m-48.5 1h0m3 -0.5h0m56.5 -0.5h0m-31.5 1h0m2 1h0m58 4.5h0m-82.5 1.5h0m-1.5 1h0m90.5 0h0m-35.5 0h0m-20 1.5h0m37.5 0h0m-23.5 1h0m32.5 -0.5h0m-41 2h0m-20 0h0m10 0.5h0m27.5 0h0m-48 1h0m11 0.5h0m35.5 -1h0m34 1h0m-84.5 1h0m14.5 -1h0m25.5 0.5h0m35.5 0.5h0m-15 0.5h0m6 0h0m-70 0.5h0m11 2h0m29.5 -1h0m-14 2h0m53.5 0.5h0m8 -0.5h0m-89 2h0m16 0h0m20 0h0m16 0h0m-42 0h0m35 0.5h0m-34 1.5h0m4 -1h0m41.5 0h0m-37 1.5h0m15 0h0m-35.5 1h0m12.5 -0.5h0m-16 1h0m23 0.5h0m6.5 -0.5h0m10.5 1h0m1.5 0h0m7.5 -0.5h0m18.5 0.5h0m-46.5 0.5h0m22.5 0h0m13.5 0.5h0m-5 0.5h0m16.5 0h0m1 -0.5h0m18.5 0h0m0 1h0m-84.5 0.5h0m26.5 0.5h0m4 0h0m44 -1h0m-71 1h0m5 1h0m45.5 0h0m19 -1h0m8.5 0h0m-69 1.5h0m50 0.5h0m-22 0h0m21 0.5h0m6.5 0h0m13 0h0m-85 1h0m17.5 0h0m4 0h0m56 -0.5h0m10 0.5h0m5.5 -0.5h0m3.5 1h0m-68 0h0m2 0h0m0.5 0.5h0m28 -0.5h0m12 0h0m-46 2h0m18 0h0m-42 0.5h0m0 0.5h0m19 -1h0m18.5 1h0m6.5 -1h0m9.5 0.5h0m7 0.5h0m3 -0.5h0m-57.5 0.5h0m33 0.5h0m18.5 0.5h0m5 0h0m4.5 -0.5h0m-5 1h0m17.5 -0.5h0m-49 1.5h0m27 0h0m15 0.5h0m11.5 -0.5h0m1 -0.5h0m4 0.5h0m-82 1h0m5.5 0.5h0m38 -0.5h0m6 0.5h0m20.5 -0.5h0m11 0.5h0m-83 0h0m33.5 0.5h0m1 0h0m-25 1.5h0m4.5 -0.5h0m14.5 -0.5h0m9 0h0m17 0.5h0m14.5 0h0m2 0h0m1 0h0m2 0.5h0m2 -0.5h0m-77 1h0m63.5 0.5h0m22 -1h0m0.5 0.5h0m-81.5 1h0m0 0h0m47.5 0.5h0m15 -1h0m14 0.5h0m2.5 0h0m2 -0.5h0m-73.5 1h0m6 0h0m5.5 0.5h0m1 0.5h0m4.5 0h0m8.5 -1h0m20.5 0h0m1.5 0.5h0m0.5 0.5h0m10.5 -0.5h0m7 -0.5h0m9 0.5h0m-75 1.5h0m0.5 -1h0m7 0.5h0m5 0h0m6.5 0h0m16 -0.5h0m3 0.5h0m2 -0.5h0m36.5 1h0m2.5 -1h0m-91.5 1h0m15.5 0h0m2.5 0h0m17.5 0.5h0m11.5 0h0m1 0h0m2 0.5h0m2.5 -0.5h0m38.5 0.5h0m-87.5 0.5h0m14 0.5h0m1.5 0h0m61.5 -0.5h0m-67 1.5h0m6.5 -0.5h0m1.5 0.5h0m2.5 -1h0m8.5 1h0m20.5 -1h0m4 1h0m3 0h0m14 0h0m6.5 -0.5h0m4.5 0h0m-83 1h0m4.5 0.5h0m32.5 0h0m9.5 -0.5h0m4 0h0m2.5 -0.5h0m18.5 1h0m13.5 -0.5h0m0 0h0m-81 1.5h0m23.5 0h0m18.5 0h0m9 0h0m4 -0.5h0m4.5 0.5h0m1.5 -0.5h0m0.5 0h0m21 0h0m3.5 0h0m-97.5 1h0m4.5 0.5h0m8.5 -0.5h0m4 0h0m10 -0.5h0m2.5 0.5h0m12.5 0h0m0.5 0.5h0m32.5 -1h0m5.5 0h0m3 1h0m7.5 -0.5h0m-80 1h0m4 -0.5h0m0 0.5h0m11.5 0h0m14 0h0m3 0h0m11 -0.5h0m0.5 1h0m0.5 -0.5h0m5.5 -0.5h0m2 0h0m14 0.5h0m13.5 0.5h0m6 -0.5h0m-80.5 1h0m1.5 0h0m4 0h0m0.5 0h0m2.5 0h0m1.5 -0.5h0m0.5 0h0m4 0.5h0m3 0h0m4 0h0m0.5 0h0m1 0h0m1.5 -0.5h0m4 0.5h0m9.5 -0.5h0m2.5 0h0m22 0h0m6.5 0.5h0m7 0.5h0m-89 1h0m5 -0.5h0m11.5 0h0m11.5 -0.5h0m12 1h0m15.5 -0.5h0m1.5 0.5h0m4 -1h0m22.5 0h0m3.5 1h0m6.5 -0.5h0m-92 1h0m13 0.5h0m16 0h0m11 0h0m11.5 -0.5h0m1.5 0.5h0m13.5 -0.5h0m1 0.5h0m0 -0.5h0m0.5 0h0m13.5 0h0m0 0h0m9 -0.5h0m-90 1.5h0m1.5 0h0m0.5 0h0m8.5 0h0m1.5 -0.5h0m5.5 0.5h0m9 0.5h0m10.5 0h0m28 0h0m1.5 -0.5h0m1.5 0h0m11.5 0.5h0m5.5 -1h0m0.5 1h0m-88 0h0m8.5 0h0m13 0.5h0m1.5 0h0m6.5 0h0m23.5 0h0m3 0.5h0m4.5 -0.5h0m9.5 0.5h0m3 -0.5h0m1 0.5h0m8.5 -0.5h0m5 0h0m0 0h0m7 0.5h0m-95.5 0h0m8 1h0m2 -1h0m10.5 0h0m6 0h0m9.5 1h0m4 -0.5h0m30 0h0m8 0h0m6 0h0m2.5 -0.5h0m1 1h0m7.5 -0.5h0m-90 1h0m1.5 0h0m2.5 0.5h0m1 -1h0m2.5 1h0m11 0h0m5 -1h0m0 0h0m11.5 0.5h0m2 0h0m28 0.5h0m1.5 -0.5h0m3.5 0h0m0.5 0.5h0m4 -0.5h0m-79 1.5h0m4 -0.5h0m0.5 0h0m5.5 0h0m30.5 0h0m14 0h0m12 0h0m3.5 0h0m5.5 0h0m5.5 0.5h0m15 -1h0m-87 1.5h0m17 0.5h0m14 -0.5h0m18.5 0h0m7.5 0h0m1.5 0h0m7 0.5h0m1 -1h0m14 0h0m5.5 0.5h0m-95.5 1.5h0m1.5 -0.5h0m6.5 -0.5h0m2 0h0m4 1h0m14 -1h0m6 0.5h0m23.5 0.5h0m12.5 -1h0m9.5 0.5h0m1 0.5h0m0 -1h0m14 1h0m0.5 -0.5h0m-86 1h0m6 0h0m3.5 0h0m13 0.5h0m3 -1h0m24.5 0h0m2 0.5h0m1 0h0m3 -0.5h0m11.5 1h0m9.5 -1h0m10 0.5h0m-92.5 1h0m7 0.5h0m9 -0.5h0m0.5 0.5h0m6 -1h0m10.5 0.5h0m26 0h0m3.5 0h0m0 0h0m1.5 0h0m2.5 0h0m5 0h0m2.5 0h0m1 -0.5h0m3 0.5h0m3.5 0h0m4 0h0m5.5 -0.5h0m1.5 0h0m-94.5 1h0m3.5 0h0m1.5 0.5h0m1 -0.5h0m6 0.5h0m6 0.5h0m1.5 -0.5h0m8.5 0.5h0m2.5 0h0m0.5 -0.5h0m8 0h0m23.5 0.5h0m9 0h0m1.5 0h0m4 -0.5h0m5 -0.5h0m7 0.5h0m-91.5 1.5h0m1 -1h0m9.5 1h0m1 -0.5h0m4.5 -0.5h0m4.5 0.5h0m19.5 0h0m16.5 0h0m5 -0.5h0m7.5 1h0m4 -1h0m1.5 0.5h0m1.5 -0.5h0m21 1h0m-89.5 0.5h0m8 -0.5h0m4.5 1h0m3 0h0m14 -0.5h0m4 0h0m17 0h0m10 -0.5h0m0.5 1h0m16.5 -0.5h0m-72.5 0.5h0m26.5 1h0m25.5 -0.5h0m3 0h0m0.5 0h0m4 0.5h0m7.5 -0.5h0m-75.5 1h0m15 -0.5h0m2 0.5h0m3.5 0.5h0m6.5 -0.5h0m2 0h0m22.5 0h0m16.5 0h0m10 0h0m7 0h0m4 0h0m-87.5 1.5h0m0 -0.5h0m17 0h0m9 -0.5h0m1.5 0h0m34 1h0m1.5 0h0m9 -0.5h0m2.5 0.5h0m0 -1h0m-80 1.5h0m0.5 0.5h0m4 -1h0m1.5 0.5h0m4 -0.5h0m4.5 0h0m2.5 1h0m9 -1h0m11.5 0.5h0m21.5 0h0m3.5 -0.5h0m0.5 0.5h0m3.5 0h0m9 0h0m0 0.5h0m5.5 -1h0m11.5 0.5h0m-78.5 1.5h0m5.5 -0.5h0m2.5 0h0m2 0h0m5 0h0m3.5 0.5h0m32.5 -0.5h0m3 0h0m2.5 -0.5h0m1 0h0m3.5 0.5h0m9.5 0h0m3.5 0.5h0m2.5 -0.5h0m5.5 0h0m1 0h0m-92.5 1.5h0m0.5 -0.5h0m4 0h0m4.5 0h0m8.5 0.5h0m2 -1h0m2 0h0m1.5 0.5h0m1.5 0.5h0m2 -1h0m0.5 0.5h0m2.5 0.5h0m1 0h0m34 -0.5h0m1 -0.5h0m11 0h0m4.5 0h0m-85.5 2h0m3 0h0m6 -0.5h0m4 0h0m1.5 0h0m5.5 0.5h0m11.5 -0.5h0m5.5 0h0m19 0.5h0m6 -0.5h0m5 -0.5h0m17.5 1h0m9 -1h0m2.5 0.5h0m-94.5 1.5h0m5.5 -0.5h0m12 0h0m9 0h0m6 0.5h0m4.5 -0.5h0m17.5 0h0m3 0h0m3 0.5h0m1.5 -0.5h0m3.5 0h0m1 -0.5h0m8 0.5h0m10 -0.5h0m5.5 1h0m5 0h0m-95 0.5h0m3.5 0h0m0 0h0m0 -0.5h0m5.5 0h0m0.5 0.5h0m9 0.5h0m0.5 0h0m3.5 0h0m43 -0.5h0m5.5 0h0m12.5 0h0m2.5 0h0m9.5 -0.5h0m-75.5 1h0m7.5 0h0m6 0.5h0m0 0h0m2.5 0.5h0m2 -0.5h0m19 -0.5h0m2 0h0m0.5 1h0m6.5 -0.5h0m1.5 -0.5h0m3.5 0h0m1 0h0m3 1h0m1.5 -0.5h0m9 -0.5h0m0.5 0.5h0m9.5 0h0m-91 1h0m10 0.5h0m6 -1h0m0.5 1h0m4.5 0h0m2.5 -0.5h0m3 0h0m28 0.5h0m2 -1h0m3.5 0.5h0m6.5 -0.5h0m4 0.5h0m5 0.5h0m0 -1h0m3 0.5h0m2 0h0m-86 0.5h0m5.5 0h0m12 0h0m2 0.5h0m0 0h0m1.5 -0.5h0m1 0h0m0 0.5h0m0 0h0m0.5 0.5h0m7 0h0m4.5 -1h0m1 0h0m34 0.5h0m1 0h0m13.5 0h0m6 -0.5h0m1.5 0.5h0m-85 1h0m10.5 0h0m2 -0.5h0m3.5 0h0m4.5 0.5h0m11 0.5h0m0.5 -0.5h0m0.5 0h0m0 0.5h0m18.5 0h0m0.5 0h0m6.5 -0.5h0m4.5 0h0m6 0.5h0m9 -0.5h0m1.5 0h0m5.5 0h0m-89.5 1.5h0m1.5 -1h0m2 1h0m3.5 0h0m9.5 -0.5h0m10.5 0.5h0m4 0h0m3.5 0h0m25 -0.5h0m8 0.5h0m12.5 -0.5h0m1 0.5h0m7.5 0h0m2 -0.5h0m0 0.5h0m0.5 0h0m3 -1h0m1 0.5h0m-89.5 1.5h0m1 -1h0m12.5 0.5h0m6.5 0h0m0.5 0h0m0.5 0h0m2 0h0m2.5 -0.5h0m3.5 0.5h0m28 0h0m2 0h0m3.5 0h0m1 0h0m14.5 0h0m1 -0.5h0m1.5 0h0m5 0.5h0m4 0.5h0m116.5 -0.5h0m-210 1h0m15 0h0m14.5 0h0m1 -0.5h0m5.5 0h0m18 0.5h0m2 0h0m6 0h0m4 0.5h0m11.5 0h0m7.5 -0.5h0m2.5 -0.5h0m3 0.5h0m-90 1h0m0.5 -0.5h0m8 0h0m11 0.5h0m1 0h0m6.5 0h0m2.5 -0.5h0m36.5 0h0m6 1h0m3 -0.5h0m0.5 0.5h0m4.5 -0.5h0m7 0h0m6.5 0h0m-90.5 1h0m5.5 0.5h0m0.5 0h0m5 -0.5h0m1.5 0.5h0m3 -0.5h0m6 0h0m3.5 0.5h0m36 0h0m9 -1h0m4 0.5h0m4 0h0m1.5 0.5h0m3 0h0m5 0h0m-93.5 1h0m1.5 -0.5h0m7 0h0m6.5 0.5h0m0 -1h0m11.5 0.5h0m6 0.5h0m2.5 -0.5h0m23 0.5h0m3.5 -1h0m0.5 0h0m4 0.5h0m0 0.5h0m7 0h0m5.5 -0.5h0m0 0.5h0m5 -1h0m3.5 1h0m8.5 -1h0m-94 2h0m12 -1h0m9.5 0.5h0m1.5 0.5h0m1.5 -1h0m1 0.5h0m2.5 0h0m0.5 0h0m2 0h0m3.5 -0.5h0m2.5 1h0m19 -0.5h0m10 -0.5h0m0.5 0.5h0m2 0.5h0m1.5 -0.5h0m7.5 0h0m3 0.5h0m1.5 0h0m6 -1h0m0.5 0.5h0m-84 1.5h0m4 -0.5h0m13.5 0h0m2 -0.5h0m6.5 0.5h0m0.5 0h0m3.5 0.5h0m22.5 -0.5h0m3 0h0m0 0.5h0m10.5 -1h0m10 1h0m1 0h0m2.5 0h0m5 0h0m2 -1h0m2.5 1h0m-89.5 0h0m2.5 0h0m6.5 1h0m17.5 -1h0m2 0.5h0m1.5 0h0m28 0.5h0m3.5 -0.5h0m1 0h0m1.5 0h0m17.5 0h0m7 0h0m0.5 0h0m-87.5 1.5h0m3.5 -1h0m1.5 1h0m5 -0.5h0m1.5 0.5h0m3 -0.5h0m1 0h0m36.5 0.5h0m1.5 -0.5h0m10 0h0m2.5 0.5h0m3.5 -1h0m6 0.5h0m1 0h0m0.5 0h0m2 0h0m2.5 0h0m4 -0.5h0m-90.5 1h0m1 0.5h0m0.5 -0.5h0m3 1h0m8.5 -0.5h0m15.5 0.5h0m6.5 0h0m21 -0.5h0m3.5 0h0m1.5 -0.5h0m1 1h0m3 -0.5h0m8.5 0h0m3 0h0m1 0h0m0 0h0m1 -0.5h0m6 0.5h0m2 0h0m4 0h0m-91.5 0.5h0m19 0h0m4 1h0m0.5 -0.5h0m1.5 -0.5h0m1 0.5h0m7 0h0m27 0h0m4 0.5h0m1 0h0m1 -0.5h0m1 0.5h0m0 -0.5h0m0.5 -0.5h0m0 0.5h0m3 0.5h0m5 0h0m1 -0.5h0m1 0.5h0m0.5 -0.5h0m0.5 0h0m4.5 0h0m1.5 0.5h0m0.5 -0.5h0m3 0h0m4 0h0m0.5 0.5h0m-94 0.5h0m4 0.5h0m2.5 -0.5h0m12 0h0m3 0h0m7 0h0m1.5 0h0m34.5 0h0m6 -0.5h0m5 0h0m6 0.5h0m2 0.5h0m0.5 -0.5h0m1 0h0m0 0h0m0 0h0m3.5 0h0m1 0.5h0m1 -0.5h0m1 0h0m2 0h0m-85.5 1h0m9 0h0m2 0.5h0m1 -0.5h0m2 0.5h0m1.5 -0.5h0m3 0h0m3 0.5h0m4 -0.5h0m1.5 0h0m1 -0.5h0m1 1h0m24.5 -0.5h0m0.5 0.5h0m1 -0.5h0m11 -0.5h0m1 0.5h0m4.5 -0.5h0m0.5 0.5h0m3 -0.5h0m-68 1.5h0m5 0.5h0m7 0h0m0.5 -1h0m1 0.5h0m31 0h0m6.5 0h0m1 0.5h0m1.5 -0.5h0m8.5 0h0m11.5 0.5h0m0.5 -0.5h0m-89 1h0m6 -0.5h0m3 1h0m0 0h0m4.5 0h0m1 0h0m1.5 0h0m2 -0.5h0m1 0.5h0m3 -0.5h0m7.5 0h0m4 0.5h0m4 -1h0m2 0h0m22 1h0m10 -1h0m6 1h0m0.5 0h0m5 0h0m5 -1h0m0 1h0m4 -0.5h0m5.5 0.5h0m-95.5 1h0m4 -1h0m2 1h0m7.5 -1h0m3 0.5h0m0 0h0m0.5 0h0m2 0h0m2 0h0m10.5 0.5h0m4.5 -0.5h0m25.5 -0.5h0m1 0.5h0m2 -0.5h0m1 0h0m7.5 0h0m13.5 0.5h0m6 0h0m1 0h0m-93.5 1.5h0m2.5 -1h0m1.5 0h0m0.5 1h0m0.5 0h0m5.5 -1h0m2.5 0h0m5.5 0h0m1.5 1h0m0 -1h0m2.5 0.5h0m1 -0.5h0m6 0h0m2 1h0m2 -0.5h0m24.5 -0.5h0m1 0.5h0m1.5 0.5h0m11 -0.5h0m2.5 0h0m9 -0.5h0m2 0h0m6 0.5h0m3.5 0h0m-96 1h0m2.5 -0.5h0m6.5 0.5h0m1 -0.5h0m0.5 0.5h0m0.5 0h0m2 0h0m0.5 0h0m5.5 0.5h0m1 0h0m11 0h0m2.5 -1h0m28 0h0m0.5 0.5h0m5.5 -0.5h0m9.5 0.5h0m1 -0.5h0m9 0h0m5.5 1h0m0 0h0m-92.5 1h0m17.5 -1h0m1.5 0.5h0m1.5 0.5h0m16.5 -0.5h0m28 0.5h0m2 -1h0m0.5 0.5h0m5 0.5h0m12.5 -0.5h0m2 0.5h0m0.5 0h0m2 0h0m1 -0.5h0m1.5 0.5h0m1 -0.5h0m-93 0.5h0m9 1h0m4.5 -1h0m16 0.5h0m3 0h0m34 0.5h0m2.5 -0.5h0m16.5 -0.5h0m1.5 0h0m1.5 1h0m4 -0.5h0m0 0.5h0m-89 0.5h0m6 0h0m2 0h0m6.5 -0.5h0m2 0.5h0m0 0h0m2 -0.5h0m0 0.5h0m0.5 0h0m3 -0.5h0m2 0.5h0m4 0h0m3.5 0h0m31 0.5h0m2.5 -0.5h0m10.5 0.5h0m0.5 -0.5h0m5 -0.5h0m3.5 0.5h0m4 -0.5h0m1 1h0m-92.5 1h0m0 -0.5h0m2.5 0h0m4.5 0.5h0m5.5 -0.5h0m1.5 -0.5h0m0.5 1h0m3 0h0m3.5 -0.5h0m5 0h0m2.5 0h0m6.5 0h0m1 -0.5h0m24.5 0.5h0m6 -0.5h0m14 0.5h0m4 -0.5h0m10 0.5h0m-94.5 1.5h0m6 -0.5h0m0.5 -0.5h0m1 1h0m1 -1h0m0.5 0h0m3.5 0.5h0m1 0h0m7 0.5h0m8.5 -0.5h0m2.5 0.5h0m1 -0.5h0m28 -0.5h0m2.5 0h0m1 0.5h0m1 0h0m10.5 0h0m1 -0.5h0m11 0h0m2 0.5h0m6.5 0.5h0m-85.5 0h0m1 0.5h0m7 0h0m1.5 0.5h0m2 -0.5h0m1 0.5h0m4.5 -0.5h0m8.5 0.5h0m25.5 -1h0m6.5 1h0m9.5 -0.5h0m0.5 0h0m1 0.5h0m0.5 -1h0m3.5 0.5h0m7.5 0h0m1 0h0m3.5 0h0m1 0h0m-94 1.5h0m0.5 -0.5h0m8.5 -0.5h0m1.5 0.5h0m2 0h0m12 -0.5h0m1 1h0m0 -1h0m3.5 0.5h0m3 0h0m0.5 0.5h0m0.5 -0.5h0m1.5 0.5h0m0.5 -0.5h0m0 0.5h0m23.5 0h0m10.5 0h0m10.5 0h0m9.5 -1h0m3 0h0m1 0h0m-91 2h0m10.5 0h0m3.5 -1h0m3 1h0m6 -0.5h0m1 -0.5h0m5.5 0.5h0m1 0h0m0.5 0.5h0m24 -0.5h0m3.5 -0.5h0m6.5 0h0m2.5 1h0m3.5 0h0m7 -0.5h0m4.5 -0.5h0m10.5 0.5h0m65.5 -0.5h0m-161.5 2h0m1.5 -1h0m1 0h0m4 1h0m2 0h0m10.5 0h0m0 -0.5h0m0.5 0h0m3 -0.5h0m6 0.5h0m2.5 -0.5h0m3.5 1h0m25 -0.5h0m0 0h0m3 0h0m2 0.5h0m0.5 -1h0m9.5 1h0m7 0h0m12.5 0h0m-96 0.5h0m9.5 0.5h0m5 -1h0m4.5 0h0m4 0h0m8 1h0m4.5 -0.5h0m2.5 0h0m22.5 0.5h0m1.5 0h0m13.5 -1h0m1 0.5h0m-75 1.5h0m3 -1h0m8 0.5h0m1.5 0h0m0.5 0.5h0m2.5 -0.5h0m14 -0.5h0m1 0.5h0m5 0h0m0.5 -0.5h0m24.5 0.5h0m0.5 -0.5h0m8 0.5h0m8 0h0m3.5 0h0m0.5 0h0m2.5 -0.5h0m0.5 0.5h0m3 -0.5h0m3.5 0.5h0m4.5 0.5h0m-94.5 0.5h0m0.5 0.5h0m12 -0.5h0m4.5 -0.5h0m6 0.5h0m4 -0.5h0m1 1h0m0.5 -0.5h0m2.5 0h0m2 0h0m0.5 -0.5h0m27 0.5h0m0.5 0.5h0m2.5 -0.5h0m4 0h0m3.5 0h0m1.5 -0.5h0m3.5 1h0m2 -0.5h0m1.5 0h0m0 0h0m1.5 -0.5h0m0.5 0.5h0m6 -0.5h0m7 0.5h0m0 0h0m0.5 0h0m1 0.5h0m-94.5 1h0m3.5 -1h0m5.5 0.5h0m14.5 -0.5h0m5 1h0m2.5 -1h0m27 0.5h0m0 0h0m0.5 0.5h0m1 0h0m2.5 -1h0m3.5 1h0m5.5 -0.5h0m12 0.5h0m1.5 0h0m6.5 0h0m-94 0.5h0m1 -0.5h0m4 1h0m0.5 -1h0m0 0h0m0 1h0m1.5 -0.5h0m5.5 0h0m5.5 0.5h0m2.5 -0.5h0m1.5 0h0m3 0.5h0m3.5 -0.5h0m3 0h0m1 0h0m2 0.5h0m0 -0.5h0m25.5 -0.5h0m1 1h0m6 0h0m3 0h0m6.5 -0.5h0m1 0.5h0m4 -0.5h0m12.5 -0.5h0m3 1h0m-94.5 0h0m0.5 0.5h0m5.5 0h0m4 0h0m8.5 0h0m6 -0.5h0m35 0h0m1.5 0.5h0m7 0h0m2 0.5h0m7 -1h0m2 0.5h0m1 0.5h0m0 -1h0m1.5 0.5h0m1.5 0.5h0m2.5 0h0m5.5 -0.5h0m2.5 0.5h0m-94.5 0.5h0m2.5 0.5h0m0.5 -1h0m6 0.5h0m1.5 0.5h0m3 -1h0m1 0h0m6 0.5h0m3 0h0m1 0.5h0m5.5 -1h0m29.5 1h0m3.5 -0.5h0m1.5 0.5h0m4.5 -0.5h0m0.5 0h0m8 -0.5h0m0.5 1h0m1 0h0m0 -1h0m4 1h0m0.5 0h0m6.5 -0.5h0m1.5 0h0m1 0.5h0m2 -0.5h0m1 0h0m-94 1h0m5 0h0m1 0.5h0m2 -1h0m0.5 0.5h0m0 0.5h0m3 -0.5h0m5 -0.5h0m0.5 0h0m0.5 1h0m1 -1h0m9.5 0.5h0m0.5 0h0m1.5 0h0m2.5 0h0m25 0h0m0.5 0.5h0m3 -0.5h0m0 -0.5h0m2.5 0.5h0m8.5 0h0m3.5 -0.5h0m2.5 1h0m2.5 -0.5h0m1 0h0m11 -0.5h0m-89.5 1h0m0.5 0.5h0m3 0.5h0m3 -0.5h0m15 0h0m1 0.5h0m1.5 -1h0m4.5 1h0m0.5 -0.5h0m1.5 0h0m25.5 0.5h0m5.5 0h0m2.5 -1h0m3.5 0h0m4.5 0.5h0m1.5 0h0m4 -0.5h0m0 1h0m1.5 0h0m0.5 -0.5h0m0.5 0.5h0m1.5 -0.5h0m3.5 0h0m0 -0.5h0m4.5 1h0m-95 0h0m0.5 0h0m2 0.5h0m2.5 0h0m2 -0.5h0m1 1h0m0.5 -0.5h0m0.5 0h0m2 0.5h0m1 -0.5h0m3 0.5h0m0.5 0h0m2 0h0m0.5 -0.5h0m1.5 0h0m0 0h0m0 -0.5h0m7.5 1h0m5.5 -0.5h0m2.5 0h0m0 0h0m27 0h0m2 0.5h0m1 -0.5h0m1 -0.5h0m2 0h0m0.5 1h0m3.5 -1h0m5 0h0m2 0.5h0m6.5 0h0m1.5 0h0m0 0h0m7 0h0m-94 1h0m6.5 -0.5h0m0.5 0h0m0 0h0m0.5 0h0m3.5 0h0m53 0h0m13 0h0m1.5 0h0m16 0h0m1.5 0.5h0m0 0h0m120 -0.5h0m-79.5 1h0m-137.5 2h0m0.5 0h0m1 -1h0m-0.5 1.5h0m94.5 0.5h0m0.5 0.5h0m0 0h0m49.5 -0.5h0m-145.5 1.5h0m2 0h0m94.5 1h0m106 0.5h0m-202 0h0m95.5 1h0m1 -1h0m0.5 0.5h0m-97 1.5h0m96.5 -0.5h0m0.5 1.5h0m-95.5 1.5h0m94 0.5h0m1 -1h0m-97 1.5h0m1 0h0m1.5 0.5h0m95 -1h0m-96.5 1h0m96 0.5h0m0 1.5h0m1 -0.5h0m-98 1.5h0m0 0h0m0.5 -1h0m0.5 0h0m96.5 0.5h0m-0.5 0.5h0m74.5 1h0m-74.5 1.5h0m-96.5 1h0m96 1.5h0m0 0h0m-96.5 0h0m96.5 1h0m-96 0h0m1 1h0m0.5 -1h0m94 0h0m-94 1.5h0m94.5 -0.5h0m0 0h0m1.5 1h0m-97 0.5h0m1 0h0m94 -0.5h0m1 0h0m111 0.5h0m-208 2h0m1.5 0h0m94.5 0h0m1.5 0.5h0m67 -0.5h0m-163 1h0m0.5 1.5h0m0.5 -0.5h0m-2 1h0m2 0h0m95 0h0m0.5 0h0m-96.5 1h0m1 0.5h0m123.5 0h0m-125.5 1h0m2 0.5h0m150 -0.5h0m-151 1.5h0m95 0h0m1 0h0m98.5 0h0m-195.5 1h0m1.5 0h0m94 0h0m-94.5 1h0m95 0.5h0m0.5 0h0m-96.5 0.5h0m1 1.5h0m0.5 -0.5h0m95 0h0m-96 0.5h0m0.5 0h0m95 0.5h0m0.5 0.5h0m0.5 -0.5h0m61.5 0h0m-157.5 1h0m95 0.5h0m0 0h0m0.5 -0.5h0m-97 0.5h0m96 0.5h0m1 0h0m-96.5 0.5h0m1 0.5h0m-1 0.5h0m1.5 4.5h0m94.5 0h0m0.5 0h0m-0.5 0.5h0m-95.5 1.5h0m0 0.5h0m6 0h0m2.5 0h0m2.5 0h0m2 0h0m1 0h0m19.5 0h0m30.5 0h0m16 0h0m2.5 0h0m7 0h0m3.5 0h0m0.5 0h0m3.5 -0.5h0m41.5 0h0m-139.5 1h0m1 0.5h0m1 -0.5h0m3 0h0m3 0h0m1 -0.5h0m4.5 0.5h0m1 0h0m1 0.5h0m5.5 -0.5h0m2.5 -0.5h0m0.5 0.5h0m4 0h0m1.5 0h0m2.5 0h0m1 0h0m6.5 0h0m20.5 -0.5h0m0.5 0.5h0m0.5 0.5h0m13 -0.5h0m3 0h0m4.5 0h0m7 -0.5h0m1 0.5h0m4.5 -0.5h0m3.5 0h0m-93.5 1h0m1.5 0h0m0.5 0.5h0m1 0h0m2 0h0m1 0h0m0 0h0m14.5 -0.5h0m2 0h0m1.5 0.5h0m3.5 0h0m0.5 0h0m0.5 0h0m4 -0.5h0m1.5 1h0m23 -1h0m2.5 1h0m1.5 -0.5h0m2.5 0h0m5 0h0m14 0h0m5 0.5h0m0.5 -0.5h0m1 0.5h0m-90 0.5h0m1.5 -0.5h0m5 0.5h0m0.5 -0.5h0m3.5 0.5h0m1.5 0h0m0.5 -0.5h0m7.5 1h0m3 -0.5h0m5 -0.5h0m2.5 0h0m1 0.5h0m1 0h0m0 -0.5h0m1.5 0.5h0m0 0h0m3 0h0m23 0h0m9.5 0h0m2.5 0h0m4.5 -0.5h0m0.5 0.5h0m1.5 -0.5h0m0.5 0.5h0m0.5 -0.5h0m7 1h0m1 -1h0m1 0.5h0m4.5 -0.5h0m-94.5 1.5h0m1.5 0h0m2.5 0.5h0m1 -0.5h0m1.5 0h0m0.5 0.5h0m0.5 -1h0m4 0.5h0m8 -0.5h0m0 0.5h0m0 0h0m2.5 0h0m0.5 0h0m42 0h0m6 0.5h0m1.5 -0.5h0m1.5 -0.5h0m1 0.5h0m3.5 0.5h0m6 -1h0m5.5 1h0m2.5 -1h0m-91.5 1h0m6.5 1h0m6.5 -0.5h0m0.5 0h0m8 -0.5h0m1.5 0.5h0m5.5 0.5h0m1 0h0m3 0h0m0 -0.5h0m1 0.5h0m24.5 -1h0m4 0.5h0m5 0.5h0m1.5 -0.5h0m6.5 0h0m0.5 -0.5h0m6 0h0m5.5 0.5h0m2.5 0.5h0m4 -1h0m1.5 0h0m-93 2h0m0.5 -0.5h0m1 0.5h0m0.5 -0.5h0m5.5 -0.5h0m3.5 0h0m1 0.5h0m0.5 0.5h0m1 0h0m13 0h0m4 -0.5h0m1 0h0m1.5 -0.5h0m1.5 1h0m0 -1h0m0.5 0.5h0m0 0.5h0m22.5 -1h0m1.5 0h0m1.5 0h0m3.5 0.5h0m11 -0.5h0m8.5 0.5h0m4.5 0.5h0m2 0h0m2 -0.5h0m-93.5 0.5h0m6.5 1h0m4 -0.5h0m0.5 -0.5h0m2.5 0h0m1 0.5h0m0.5 0.5h0m0 -1h0m5.5 0h0m8 0.5h0m4.5 0.5h0m2 -1h0m3 0.5h0m18.5 0.5h0m0.5 -1h0m4.5 1h0m3.5 -1h0m9 0.5h0m2.5 -0.5h0m0 0h0m2.5 0.5h0m1 0.5h0m2 -0.5h0m-83 1.5h0m1.5 -1h0m8 0.5h0m6.5 0h0m4 -0.5h0m6 1h0m1.5 -1h0m6 0.5h0m22.5 0h0m0.5 0.5h0m1.5 -1h0m3 1h0m1 -0.5h0m4.5 -0.5h0m1 0h0m5 1h0m13 -1h0m0 1h0m3.5 -0.5h0m1.5 0.5h0m0 -0.5h0m1.5 0.5h0m2.5 0h0m1.5 0h0m-95 0.5h0m7 0h0m6 0.5h0m2.5 -0.5h0m8 0.5h0m0.5 -0.5h0m0.5 0.5h0m4.5 -0.5h0m7 0h0m21 0h0m1 -0.5h0m0.5 0h0m5.5 0.5h0m2.5 0h0m0 0h0m1.5 -0.5h0m0.5 1h0m8 -0.5h0m2 0.5h0m5.5 -1h0m2.5 0h0m3 0h0m0.5 0.5h0m3.5 0h0m1 -0.5h0m0.5 0.5h0m-92.5 0.5h0m3 0.5h0m1 -0.5h0m5.5 1h0m0 -1h0m3 0h0m6.5 1h0m3 -0.5h0m3.5 0h0m10.5 0h0m16.5 0.5h0m15.5 -0.5h0m5 -0.5h0m1.5 0h0m4.5 1h0m2.5 -0.5h0m0 0h0m2.5 -0.5h0m8 0h0m-96 2h0m0.5 -0.5h0m2.5 -0.5h0m1.5 0h0m0.5 1h0m0.5 -0.5h0m4.5 0h0m5.5 0h0m10 0h0m1 0.5h0m5 -1h0m0 0.5h0m5.5 0h0m19 -0.5h0m6.5 1h0m3 -0.5h0m6.5 0h0m3 -0.5h0m1 0.5h0m0.5 0h0m7.5 0h0m4 0.5h0m0.5 -1h0m0 1h0m0.5 -0.5h0m3.5 0h0m1 0.5h0m35.5 -0.5h0m-123.5 1h0m0 0h0m7.5 0h0m19.5 0h0m1.5 0.5h0m3.5 -0.5h0m0 0h0m1.5 0h0m26 -0.5h0m6 0.5h0m6.5 0h0m1.5 0h0m13 -0.5h0m1.5 0.5h0m2.5 0h0m-88 1h0m0.5 0.5h0m3.5 -0.5h0m0.5 0h0m1.5 0h0m1.5 0h0m2 0h0m0.5 0h0m0 0h0m0.5 0.5h0m13 -0.5h0m2.5 0h0m6 0h0m18 0.5h0m5.5 -0.5h0m1.5 0h0m9 0h0m0.5 0.5h0m0.5 -1h0m1 0h0m5.5 0.5h0m3 0h0m7.5 0h0m1 -0.5h0m68 1h0m-159.5 0.5h0m0.5 -0.5h0m2 1h0m3 -1h0m0.5 0h0m2.5 0h0m7.5 1h0m1 0h0m3.5 -0.5h0m4 0.5h0m6 0h0m2.5 0h0m1 -0.5h0m1 -0.5h0m0.5 0h0m0.5 0.5h0m18.5 0h0m1.5 -0.5h0m1.5 0.5h0m3 -0.5h0m2 0.5h0m9.5 -0.5h0m12 0.5h0m4.5 0.5h0m1 -0.5h0m1.5 0h0m0.5 0h0m-87.5 1.5h0m1.5 -0.5h0m5 0h0m4.5 -0.5h0m3 0.5h0m1.5 0h0m5 0h0m7 -0.5h0m6 0h0m24.5 1h0m5 -0.5h0m13.5 0h0m8 0.5h0m1.5 -0.5h0m4 0h0m-88 1.5h0m4 -1h0m12 0.5h0m5 0.5h0m1.5 0h0m3 -0.5h0m0 -0.5h0m3.5 0.5h0m20 0h0m0 0.5h0m11.5 0h0m7 -1h0m3.5 0.5h0m1 0.5h0m89.5 -0.5h0m-162 0.5h0m8 0.5h0m4 0h0m3.5 0h0m1.5 0h0m0.5 0.5h0m8.5 -1h0m2.5 0.5h0m27.5 0h0m11.5 -0.5h0m0 0h0m2.5 1h0m1.5 -0.5h0m1.5 0h0m8 0h0m4 0h0m111 0.5h0m-203.5 0.5h0m4.5 0.5h0m2 -0.5h0m1 0h0m0.5 0h0m21.5 0.5h0m0 0h0m13 0h0m26 -0.5h0m0.5 0h0m0 0h0m13.5 0.5h0m1.5 0h0m2.5 -0.5h0m-80 1h0m0 0.5h0m1.5 -1h0m2.5 0.5h0m9.5 0h0m1 0h0m1.5 0.5h0m6 -0.5h0m2.5 0.5h0m3.5 -1h0m0 1h0m28 -1h0m1.5 1h0m2.5 -0.5h0m0 0h0m3 -0.5h0m6 0h0m1.5 0.5h0m8 0h0m0.5 0h0m7 -0.5h0m1 0.5h0m3.5 0h0m91.5 -0.5h0m-187 2h0m0.5 0h0m0.5 0h0m11 -1h0m4 0.5h0m2.5 0.5h0m1.5 -1h0m3 0.5h0m1.5 0h0m0.5 0.5h0m0 -0.5h0m2 0h0m0.5 0.5h0m5.5 -0.5h0m3.5 -0.5h0m4 0.5h0m23.5 0h0m8 0.5h0m13.5 0h0m2.5 -1h0m2 0.5h0m-88 1h0m2 0h0m0.5 0h0m8 -0.5h0m0.5 1h0m8 -0.5h0m3.5 -0.5h0m1 1h0m4 -0.5h0m10.5 0h0m18 0h0m5.5 0h0m0.5 0.5h0m2.5 -1h0m2 1h0m11.5 -1h0m0.5 0.5h0m2.5 0h0m0 0h0m9.5 0.5h0m1 0h0m-94.5 0h0m9.5 0.5h0m5 0h0m3.5 -0.5h0m0 0.5h0m1 0h0m8 0h0m7.5 0.5h0m4.5 -0.5h0m48 -0.5h0m-87 1.5h0m3 0h0m2 0.5h0m6 0h0m2.5 -0.5h0m2 0.5h0m2.5 -1h0m3 0h0m4 0.5h0m1 0h0m6 0.5h0m23.5 -0.5h0m3 0h0m5.5 0h0m0.5 0h0m6.5 0h0m1 0h0m3 0h0m5 -0.5h0m0.5 1h0m1 0h0m11 0h0m0.5 -0.5h0m3.5 0h0m-90.5 0.5h0m14.5 1h0m2.5 -1h0m9.5 0.5h0m1 -0.5h0m28 0h0m8.5 0.5h0m10 0h0m6 -0.5h0m2 0.5h0m2 -0.5h0m5.5 0h0m0.5 0.5h0m-90 0.5h0m4 1h0m1 0h0m0.5 0h0m4 0h0m2.5 0h0m2.5 0h0m3 -0.5h0m0 -0.5h0m1.5 1h0m3 -0.5h0m11.5 -0.5h0m13.5 0.5h0m7 -0.5h0m6 0h0m5 0.5h0m2 0h0m1.5 -0.5h0m1 0.5h0m8.5 -0.5h0m11 0.5h0m1.5 0h0m96.5 0.5h0m17 -0.5h0m-207 0.5h0m4.5 0.5h0m3 0h0m2 -0.5h0m1 0h0m12.5 0.5h0m1.5 0h0m3 0h0m4.5 0h0m2.5 0h0m25 -0.5h0m18 1h0m1 -0.5h0m15.5 0h0m-98 0.5h0m0.5 0.5h0m0 0h0m6 0h0m1.5 0h0m4.5 0h0m6.5 -0.5h0m0 0.5h0m2 0h0m2 0h0m1 -0.5h0m0.5 0h0m9 0.5h0m4.5 0h0m16 0h0m0.5 -0.5h0m8.5 0.5h0m14.5 -0.5h0m2 0.5h0m4.5 -0.5h0m2.5 0.5h0m7.5 0.5h0m-88 0.5h0m32.5 0h0m23 -0.5h0m4 1h0m11.5 -1h0m4.5 0h0m8 0.5h0m7.5 0.5h0m120.5 0h0m-214 1h0m10.5 0h0m5 -1h0m3 0h0m8.5 0h0m2 0.5h0m1 0.5h0m1 -1h0m3 0.5h0m22.5 0h0m2.5 -0.5h0m11 1h0m7 -1h0m6.5 0.5h0m5.5 0.5h0m-89.5 0h0m2.5 1h0m22 -1h0m6 1h0m5.5 -0.5h0m20.5 -0.5h0m0.5 0.5h0m1 0h0m1.5 0h0m5 0.5h0m0.5 0h0m5.5 -0.5h0m2.5 0h0m5.5 0.5h0m7 -1h0m-86 1.5h0m5.5 0h0m14 -0.5h0m4.5 0.5h0m2 0h0m0.5 -0.5h0m0 1h0m11.5 -0.5h0m2 -0.5h0m12.5 0.5h0m16.5 -0.5h0m5 1h0m7 -0.5h0m11 -0.5h0m2 0.5h0m0.5 0.5h0m28.5 -0.5h0m13.5 0h0m81 -0.5h0m-217.5 1h0m1 0.5h0m4 0h0m12 0h0m1.5 0h0m0.5 -0.5h0m4 0.5h0m4.5 -0.5h0m12 0h0m2 0h0m31 0h0m18 0h0m67.5 0.5h0m51 0h0m-210 1h0m5 -0.5h0m2.5 0.5h0m0.5 -0.5h0m3 0.5h0m11.5 0h0m5 0.5h0m5 -0.5h0m0.5 0h0m10.5 0h0m15.5 0h0m7 0h0m4 0.5h0m10.5 0h0m15 -0.5h0m-92 1h0m10.5 0.5h0m7.5 -0.5h0m5 0.5h0m3.5 -0.5h0m0.5 0h0m9 0h0m18.5 0.5h0m10.5 -0.5h0m2 -0.5h0m7 0.5h0m16 0h0m2 -0.5h0m-96.5 2h0m19 -0.5h0m5 0h0m2 -0.5h0m1.5 0.5h0m12 -0.5h0m12.5 0.5h0m2.5 -0.5h0m15.5 0.5h0m5 -0.5h0m2 0.5h0m7 0.5h0m5 0h0m86 -0.5h0m-171 1.5h0m17 -0.5h0m5 0h0m10 0h0m1.5 0h0m1.5 0h0m5.5 -0.5h0m11.5 0h0m5 0.5h0m2 0.5h0m1 -0.5h0m8.5 0h0m3 0.5h0m2.5 -1h0m1.5 0.5h0m11.5 0h0m-87.5 1.5h0m4.5 -1h0m9 0.5h0m0.5 0h0m19.5 0h0m2 -0.5h0m0.5 0.5h0m0 -0.5h0m13.5 1h0m0 -0.5h0m36.5 0.5h0m55 -1h0m-139 2h0m21.5 -1h0m3 1h0m8 0h0m7 -1h0m19.5 0h0m2.5 0.5h0m14 0h0m-76.5 1h0m4.5 -0.5h0m18.5 0.5h0m3.5 0h0m1 0.5h0m7 -0.5h0m22 0h0m0.5 0h0m13 0h0m4 0.5h0m1.5 -0.5h0m5.5 0h0m3 0.5h0m-87.5 1h0m5.5 -0.5h0m3 0.5h0m1.5 -1h0m24.5 1h0m6 0h0m24 -0.5h0m5 0h0m11.5 0h0m4 -0.5h0m7 0h0m0 0h0m2 1h0m-94 0.5h0m1.5 0.5h0m27 -0.5h0m12.5 -0.5h0m4 1h0m5 -0.5h0m3.5 0h0m5.5 0h0m13.5 0.5h0m4.5 -1h0m10 0.5h0m-84 1h0m2 0h0m22.5 0.5h0m0.5 -0.5h0m9.5 0h0m48 0h0m4 -0.5h0m-82 2h0m6 -1h0m20 0.5h0m11.5 0h0m27.5 -0.5h0m8.5 0.5h0m-81 1h0m21 0h0m7.5 -0.5h0m5.5 0h0m0.5 0.5h0m7.5 -0.5h0m35 1h0m19 0h0m42.5 -1h0m-133 2h0m2 -0.5h0m0.5 0.5h0m10.5 -1h0m17.5 1h0m13.5 -1h0m3.5 0.5h0m4 0h0m7 0.5h0m5.5 0h0m11.5 -1h0m6.5 0h0m1.5 0h0m-90.5 1h0m22.5 0.5h0m37.5 0h0m2 0.5h0m15 -1h0m-68 1.5h0m7.5 0h0m14.5 -0.5h0m4.5 0.5h0m22.5 -0.5h0m3 1h0m2.5 0h0m10 -0.5h0m23 0h0m-95.5 1.5h0m1.5 0h0m13 0h0m45.5 0h0m15.5 -1h0m1.5 0.5h0m3 0h0m1 0h0m12.5 0h0m-90.5 1h0m18.5 0h0m3 0h0m4.5 0.5h0m1 0h0m2 -0.5h0m4 0h0m9.5 0h0m19.5 0.5h0m29 0h0m-95 0.5h0m2 -0.5h0m4.5 0h0m4 0.5h0m7.5 -0.5h0m11.5 0.5h0m4.5 0h0m0.5 0.5h0m27 -0.5h0m17.5 -0.5h0m5 1h0m-83 0.5h0m4 0h0m0.5 0h0m27.5 0h0m13 -0.5h0m8.5 0.5h0m14 0h0m87 -0.5h0m32.5 1h0m-171 1h0m63 -0.5h0m6 -0.5h0m43 0.5h0m91 0h0m-210.5 1h0m5 0.5h0m18 -0.5h0m59.5 -0.5h0m1 1h0m-70.5 1h0m25 -1h0m3 0h0m15 0.5h0m3 -0.5h0m-65 1h0m23.5 0.5h0m13 0.5h0m46 -0.5h0m10 0.5h0m-93 0.5h0m8.5 -0.5h0m9 0.5h0m26.5 0h0m36 -0.5h0m-79 1.5h0m2.5 0h0m40 -0.5h0m11 0.5h0m17.5 0h0m14 -0.5h0m8 0.5h0m-94 1h0m1.5 0h0m4.5 -0.5h0m1 0.5h0m49.5 0h0m5.5 0h0m11.5 0h0m13 0h0m0.5 -0.5h0m69 0.5h0m-143 1.5h0m70.5 0h0m57 -0.5h0m-96 1h0m0.5 -0.5h0m28.5 0.5h0m18.5 -0.5h0m-27.5 2h0m4 0h0m-50.5 0h0m13 0.5h0m4.5 0h0m1.5 -0.5h0m4.5 1h0m9.5 -0.5h0m33.5 0h0m2 0.5h0m120 -0.5h0m-200.5 1h0m3 0h0m19 0h0m32 0h0m24 0h0m-62 1.5h0m19 -1h0m-38 2h0m25 -0.5h0m45.5 -0.5h0m-68.5 1h0m38.5 0h0m37 0.5h0m120 -0.5h0m-132.5 1.5h0m-44.5 0.5h0m31.5 0h0m27 0h0m106.5 0h0m-172.5 1.5h0m45 -0.5h0m20 0h0m-68 2h0m60 0h0m-40 0h0m11.5 0.5h0m48 0h0m-30.5 1.5h0m120 -0.5h0m-174 2.5h0m24.5 -0.5h0m105.5 0.5h0m-119 0.5h0m31.5 -0.5h0m-5.5 2.5h0m17.5 0h0m6.5 0.5h0m-36 1h0m25 -0.5h0m-42 2h0m31 0.5h0m131.5 1h0m-174.5 3h0m63.5 0h0m23 -0.5h0m-21.5 3h0m-22.5 0.5h0m15.5 2.5h0m2.5 0h0m-25 1.5h0m-5 2h0m24 0.5h0m4.5 0.5h0m31.5 -0.5h0m100 1.5h0m-186 1.5h0m125 1.5h0m-131 7h0" stroke="#000" stroke-width="4.1" stroke-linecap="round" fill="none"/>
<path d="M1068.5 162.5 1068.5 163.5 1068.5 164.5 1068.5 165.5 1068.5 166.5 1068.5 167.5 1068.5 168.5 1068.5 169.5 1068.5 170.5 1068.5 171.5 1068.5 172.5 1068.5 173.5 1068.5 174.5 1068.5 175.5 1068.5 176.5 1068.5 177.5 1068.5 178.5 1068.4 179.5 1068.4 180.5 1068.4 181.5 1068.4 182.5 1068.4 183.5 1068.4 184.5 1068.4 185.5 1068.4 186.5 1068.4 187.5 1068.4 188.5 1068.4 189.5 1068.4 190.5 1068.3 191.5 1068.3 192.5 1068.3 193.5 1068.3 194.5 1068.3 195.5 1068.3 196.5 1068.3 197.5 1068.2 198.5 1068.2 199.5 1068.2 200.5 1068.2 201.5 1068.2 202.5 1068.1 203.5 1068 204.5 1068 205.5 1067.9 206.5 1067.8 207.5 1067.7 208.5 1067.6 209.5 1067.4 210.5 1067.3 211.5 1067.2 212.5 1067.1 213.5 1067 214.5 1066.9 215.5 1066.8 216.5 1066.6 217.5 1066.5 218.5 1066.4 219.5 1066.2 220.5 1066.1 221.5 1065.9 222.5 1065.8 223.5 1065.7 224.5 1065.5 225.5 1065.4 226.5 1065.2 227.5 1065.1 228.5 1065 229.5 1064.8 230.5 1064.7 231.5 1064.5 232.5 1064.3 233.5 1064.2 234.5 1064 235.5 1063.9 236.5 1063.7 237.5 1063.6 238.5 1063.4 239.5 1063.3 240.5 1063.1 241.5 1063 242.5 1062.8 243.5 1062.6 244.5 1062.5 245.5 1062.3 246.5 1062.2 247.5 1062 248.5 1061.9 249.5 1061.8 250.5 1061.6 251.5 1061.5 252.5 1061.3 253.5 1061.2 254.5 1061.1 255.5 1060.9 256.5 1060.8 257.5 1060.7 258.5 1060.5 259.5 1060.4 260.5 1060.3 261.5 1060.1 262.5 1060 263.5 1059.9 264.5 1059.7 265.5 1059.6 266.5 1059.5 267.5 1059.4 268.5 1059.2 269.5 1059.1 270.5 1059 271.5 1058.8 272.5 1058.7 273.5 1058.6 274.5 1058.4 275.5 1058.3 276.5 1058.2 277.5 1058 278.5 1057.9 279.5 1057.8 280.5 1057.7 281.5 1057.5 282.5 1057.4 283.5 1057.3 284.5 1057.2 285.5 1057.1 286.5 1057 287.5 1056.8 288.5 1056.7 289.5 1056.6 290.5 1056.5 291.5 1056.4 292.5 1056.3 293.5 1056.2 294.5 1056.1 295.5 1056 296.5 1055.9 297.5 1055.8 298.5 1055.7 299.5 1055.6 300.5 1055.5 301.5 1055.4 302.5 1055.3 303.5 1055.3 304.5 1055.2 305.5 1055.1 306.5 1055 307.5 1054.9 308.5 1054.8 309.5 1054.8 310.5 1054.7 311.5 1054.6 312.5 1054.5 313.5 1054.5 314.5 1054.4 315.5 1054.3 316.5 1054.2 317.5 1054.1 318.5 1054 319.5 1053.9 320.5 1053.8 321.5 1053.7 322.5 1053.6 323.5 1053.6 324.5 1053.6 325.5 1053.6 326.5 1053.6 327.5 1053.6 328.5 1053.6 329.5 1053.6 330.5 1053.6 331.5 1053.7 332.5 1053.8 333.5 1053.8 334.5 1053.9 335.5 1054 336.5 1054.1 337.5 1054.2 338.5 1054.3 339.5 1054.3 340.5 1054.4 341.5 1054.6 342.5 1054.7 343.5 1054.8 344.5 1054.9 345.5 1055 346.5 1055.1 347.5 1055.2 348.5 1055.4 349.5 1055.5 350.5 1055.7 351.5 1055.8 352.5 1055.9 353.5 1056.1 354.5 1056.3 355.5 1056.4 356.5 1056.6 357.5 1056.7 358.5 1056.9 359.5 1057 360.5 1057.2 361.5 1057.4 362.5 1057.5 363.5 1057.7 364.5 1057.9 365.5 1058 366.5 1058.2 367.5 1058.4 368.5 1058.5 369.5 1058.7 370.5 1058.8 371.5 1059 372.5 1059.2 373.5 1059.3 374.5 1059.5 375.5 1059.7 376.5 1059.8 377.5 1060 378.5 1060.2 379.5 1060.3 380.5 1060.5 381.5 1060.7 382.5 1060.8 383.5 1061 384.5 1061.2 385.5 1061.4 386.5 1061.5 387.5 1061.7 388.5 1061.9 389.5 1062.1 390.5 1062.3 391.5 1062.4 392.5 1062.6 393.5 1062.8 394.5 1063 395.5 1063.1 396.5 1063.3 397.5 1063.5 398.5 1063.6 399.5 1063.8 400.5 1064 401.5 1064.2 402.5 1064.3 403.5 1064.5 404.5 1064.7 405.5 1064.8 406.5 1065 407.5 1065.1 408.5 1065.3 409.5 1065.4 410.5 1065.6 411.5 1065.7 412.5 1065.9 413.5 1066 414.5 1066.2 415.5 1066.3 416.5 1066.5 417.5 1066.6 418.5 1066.7 419.5 1066.9 420.5 1067 421.5 1067.2 422.5 1067.3 423.5 1067.5 424.5 1067.6 425.5 1067.7 426.5 1067.8 427.5 1067.9 428.5 1067.9 429.5 1068 430.5 1068.1 431.5 1068.1 432.5 1068.2 433.5 1068.2 434.5 1068.3 435.5 1068.3 436.5 1068.4 437.5 1068.4 438.5 1068.4 439.5 1068.4 440.5 1068.4 441.5 1068.4 442.5 1068.4 443.5 1068.4 444.5 1068.4 445.5 1068.4 446.5 1068.4 447.5 1068.4 448.5 1068.4 449.5 1068.4 450.5 1068.4 451.5 1068.4 452.5 1068.4 453.5 1068.4 454.5 1068.4 455.5 1068.4 456.5 1068.4 457.5 1068.4 458.5 1068.4 459.5 1068.4 460.5 1068.4 461.5 1068.4 462.5 1068.4 463.5 1068.4 464.5 1068.4 465.5 1068.4 466.5 1068.4 467.5 1068.4 468.5 1068.4 469.5 1068.4 470.5 1068.4 471.5 1068.4 472.5 1068.4 473.5 1068.4 474.5 1068.4 475.5 1068.4 476.5 1068.4 477.5 1068.4 478.5 1068.4 479.5 1068.4 480.5 1068.4 481.5 1068.4 482.5 1068.4 483.5 1068.4 484.5 1068.4 485.5 1068.4 486.5 1068.4 487.5 1068.4 488.5 1068.4 489.5 1068.4 490.5 1068.4 491.5 1068.4 492.5 1068.4 493.5 1068.4 494.5 1068.4 495.5 1068.4 496.5 1068.4 497.5 1068.4 498.5 1068.4 499.5 1068.4 500.5 1068.4 501.5 1068.4 502.5 1068.4 503.5 1068.4 504.5 1068.4 505.5 1068.4 506.5 1068.4 507.5 1068.4 508.5 1068.4 509.5 1068.4 510.5 1068.4 511.5 1068.4 512.5 1068.4 513.5 1068.4 514.5 1068.4 515.5 1068.4 516.5 1068.4 517.5 1068.4 518.5 1068.4 519.5 1068.4 520.5 1068.4 521.5 1068.4 522.5 1068.4 523.5 1068.4 524.5 1068.4 525.5 1068.4 526.5 1068.3 527.5 1068.2 528.5 1068.1 529.5 1068 530.5 1067.9 531.5 1067.8 532.5 1067.6 533.5 1067.4 534.5 1067.2 535.5 1066.9 536.5 1066.6 537.5 1066.3 538.5 1066 539.5 1065.7 540.5 1065.4 541.5 1065 542.5 1064.6 543.5 1064.2 544.5 1063.8 545.5 1063.2 546.5 1062.5 547.5 1061.8 548.5 1061 549.5 1060.1 550.5 1059.1 551.5 1058 552.5 1056.7 553.5 1055.3 554.5 1053.8 555.5 1052.1 556.5 1050.1 557.5 1048.1 558.5 1046.1 559.5 1044.1 560.5 1042.1 561.5 1040.1 562.5 1038.1 563.5 1036.3 564.5 1034.6 565.5 1033.1 566.5 1031.7 567.5 1030.2 568.5 1028.7 569.5 1027.1 570.5 1025.6 571.5 1024.1 572.5 1022.7 573.5 1021.3 574.5 1020 575.5 1018.6 576.5 1017.4 577.5 1016.3 578.5 1015.3 579.5 1014.6 580.5 1014 581.5 1013.6 582.5 1013.3 583.5 1013.3 584.5 L1124.5 584.5 1124.5 583.5 1124.2 582.5 1123.8 581.5 1123.2 580.5 1122.5 579.5 1121.5 578.5 1120.4 577.5 1119.2 576.5 1117.8 575.5 1116.5 574.5 1115.1 573.5 1113.7 572.5 1112.2 571.5 1110.7 570.5 1109.1 569.5 1107.6 568.5 1106.1 567.5 1104.7 566.5 1103.2 565.5 1101.5 564.5 1099.7 563.5 1097.7 562.5 1095.7 561.5 1093.7 560.5 1091.7 559.5 1089.7 558.5 1087.7 557.5 1085.7 556.5 1084 555.5 1082.5 554.5 1081.1 553.5 1079.8 552.5 1078.7 551.5 1077.7 550.5 1076.8 549.5 1076 548.5 1075.3 547.5 1074.6 546.5 1074 545.5 1073.6 544.5 1073.2 543.5 1072.8 542.5 1072.4 541.5 1072.1 540.5 1071.8 539.5 1071.5 538.5 1071.2 537.5 1070.9 536.5 1070.6 535.5 1070.4 534.5 1070.2 533.5 1070 532.5 1069.9 531.5 1069.8 530.5 1069.7 529.5 1069.6 528.5 1069.5 527.5 1069.4 526.5 1069.4 525.5 1069.4 524.5 1069.4 523.5 1069.4 522.5 1069.4 521.5 1069.4 520.5 1069.4 519.5 1069.4 518.5 1069.4 517.5 1069.4 516.5 1069.4 515.5 1069.4 514.5 1069.4 513.5 1069.4 512.5 1069.4 511.5 1069.4 510.5 1069.4 509.5 1069.4 508.5 1069.4 507.5 1069.4 506.5 1069.4 505.5 1069.4 504.5 1069.4 503.5 1069.4 502.5 1069.4 501.5 1069.4 500.5 1069.4 499.5 1069.4 498.5 1069.4 497.5 1069.4 496.5 1069.4 495.5 1069.4 494.5 1069.4 493.5 1069.4 492.5 1069.4 491.5 1069.4 490.5 1069.4 489.5 1069.4 488.5 1069.4 487.5 1069.4 486.5 1069.4 485.5 1069.4 484.5 1069.4 483.5 1069.4 482.5 1069.4 481.5 1069.4 480.5 1069.4 479.5 1069.4 478.5 1069.4 477.5 1069.4 476.5 1069.4 475.5 1069.4 474.5 1069.4 473.5 1069.4 472.5 1069.4 471.5 1069.4 470.5 1069.4 469.5 1069.4 468.5 1069.4 467.5 1069.4 466.5 1069.4 465.5 1069.4 464.5 1069.4 463.5 1069.4 462.5 1069.4 461.5 1069.4 460.5 1069.4 459.5 1069.4 458.5 1069.4 457.5 1069.4 456.5 1069.4 455.5 1069.4 454.5 1069.4 453.5 1069.4 452.5 1069.4 451.5 1069.4 450.5 1069.4 449.5 1069.4 448.5 1069.4 447.5 1069.4 446.5 1069.4 445.5 1069.4 444.5 1069.4 443.5 1069.4 442.5 1069.4 441.5 1069.4 440.5 1069.4 439.5 1069.4 438.5 1069.4 437.5 1069.5 436.5 1069.5 435.5 1069.6 434.5 1069.6 433.5 1069.7 432.5 1069.7 431.5 1069.8 430.5 1069.9 429.5 1069.9 428.5 1070 427.5 1070.1 426.5 1070.2 425.5 1070.3 424.5 1070.5 423.5 1070.6 422.5 1070.8 421.5 1070.9 420.5 1071.1 419.5 1071.2 418.5 1071.3 417.5 1071.5 416.5 1071.6 415.5 1071.8 414.5 1071.9 413.5 1072.1 412.5 1072.2 411.5 1072.4 410.5 1072.5 409.5 1072.7 408.5 1072.8 407.5 1073 406.5 1073.1 405.5 1073.3 404.5 1073.5 403.5 1073.6 402.5 1073.8 401.5 1074 400.5 1074.2 399.5 1074.3 398.5 1074.5 397.5 1074.7 396.5 1074.8 395.5 1075 394.5 1075.2 393.5 1075.4 392.5 1075.5 391.5 1075.7 390.5 1075.9 389.5 1076.1 388.5 1076.3 387.5 1076.4 386.5 1076.6 385.5 1076.8 384.5 1077 383.5 1077.1 382.5 1077.3 381.5 1077.5 380.5 1077.6 379.5 1077.8 378.5 1078 377.5 1078.1 376.5 1078.3 375.5 1078.5 374.5 1078.6 373.5 1078.8 372.5 1079 371.5 1079.1 370.5 1079.3 369.5 1079.4 368.5 1079.6 367.5 1079.8 366.5 1079.9 365.5 1080.1 364.5 1080.3 363.5 1080.4 362.5 1080.6 361.5 1080.8 360.5 1080.9 359.5 1081.1 358.5 1081.2 357.5 1081.4 356.5 1081.5 355.5 1081.7 354.5 1081.9 353.5 1082 352.5 1082.1 351.5 1082.3 350.5 1082.4 349.5 1082.6 348.5 1082.7 347.5 1082.8 346.5 1082.9 345.5 1083 344.5 1083.1 343.5 1083.2 342.5 1083.4 341.5 1083.5 340.5 1083.5 339.5 1083.6 338.5 1083.7 337.5 1083.8 336.5 1083.9 335.5 1084 334.5 1084 333.5 1084.1 332.5 1084.2 331.5 1084.2 330.5 1084.2 329.5 1084.2 328.5 1084.2 327.5 1084.2 326.5 1084.2 325.5 1084.2 324.5 1084.2 323.5 1084.1 322.5 1084 321.5 1083.9 320.5 1083.8 319.5 1083.7 318.5 1083.6 317.5 1083.5 316.5 1083.4 315.5 1083.3 314.5 1083.3 313.5 1083.2 312.5 1083.1 311.5 1083 310.5 1083 309.5 1082.9 308.5 1082.8 307.5 1082.7 306.5 1082.6 305.5 1082.5 304.5 1082.5 303.5 1082.4 302.5 1082.3 301.5 1082.2 300.5 1082.1 299.5 1082 298.5 1081.9 297.5 1081.8 296.5 1081.7 295.5 1081.6 294.5 1081.5 293.5 1081.4 292.5 1081.3 291.5 1081.2 290.5 1081.1 289.5 1081 288.5 1080.8 287.5 1080.7 286.5 1080.6 285.5 1080.5 284.5 1080.4 283.5 1080.3 282.5 1080.1 281.5 1080 280.5 1079.9 279.5 1079.8 278.5 1079.6 277.5 1079.5 276.5 1079.4 275.5 1079.2 274.5 1079.1 273.5 1079 272.5 1078.8 271.5 1078.7 270.5 1078.6 269.5 1078.4 268.5 1078.3 267.5 1078.2 266.5 1078.1 265.5 1077.9 264.5 1077.8 263.5 1077.7 262.5 1077.5 261.5 1077.4 260.5 1077.3 259.5 1077.1 258.5 1077 257.5 1076.9 256.5 1076.7 255.5 1076.6 254.5 1076.5 253.5 1076.3 252.5 1076.2 251.5 1076 250.5 1075.9 249.5 1075.8 248.5 1075.6 247.5 1075.5 246.5 1075.3 245.5 1075.2 244.5 1075 243.5 1074.8 242.5 1074.7 241.5 1074.5 240.5 1074.4 239.5 1074.2 238.5 1074.1 237.5 1073.9 236.5 1073.8 235.5 1073.6 234.5 1073.5 233.5 1073.3 232.5 1073.1 231.5 1073 230.5 1072.8 229.5 1072.7 228.5 1072.6 227.5 1072.4 226.5 1072.3 225.5 1072.1 224.5 1072 223.5 1071.9 222.5 1071.7 221.5 1071.6 220.5 1071.4 219.5 1071.3 218.5 1071.2 217.5 1071 216.5 1070.9 215.5 1070.8 214.5 1070.7 213.5 1070.6 212.5 1070.5 211.5 1070.4 210.5 1070.2 209.5 1070.1 208.5 1070 207.5 1069.9 206.5 1069.8 205.5 1069.8 204.5 1069.7 203.5 1069.6 202.5 1069.6 201.5 1069.6 200.5 1069.6 199.5 1069.6 198.5 1069.5 197.5 1069.5 196.5 1069.5 195.5 1069.5 194.5 1069.5 193.5 1069.5 192.5 1069.5 191.5 1069.4 190.5 1069.4 189.5 1069.4 188.5 1069.4 187.5 1069.4 186.5 1069.4 185.5 1069.4 184.5 1069.4 183.5 1069.4 182.5 1069.4 181.5 1069.4 180.5 1069.4 179.5 1069.3 178.5 1069.3 177.5 1069.3 176.5 1069.3 175.5 1069.3 174.5 1069.3 173.5 1069.3 172.5 1069.3 171.5 1069.3 170.5 1069.3 169.5 1069.3 168.5 1069.3 167.5 1069.3 166.5 1069.3 165.5 1069.3 164.5 1069.3 163.5 1069.3 162.5 Z" fill="#5EB9D3" stroke="#333333" stroke-width="2.4" stroke-linejoin="round"/>
<path d="M1014.8 584.7 H1123" stroke="#333333" stroke-width="3.4" stroke-linecap="round" fill="none"/>
<path d="M1192.8 276.3 V584.3" stroke="#333333" stroke-width="3.0" fill="none"/>
<path d="M1137 584.5 L1142.8 583.2 L1242.8 583.2 L1248.6 584.5 L1242.8 585.8 L1142.8 585.8 Z" fill="#333333" stroke="#333333" stroke-width="1.6" stroke-linejoin="round"/>
</g>
<g transform="translate(759 0)">
<path d="M994.8 141 V605.4 H1268.8" stroke="#000" stroke-width="2.7" fill="none"/>
<path d="M985.4 341.5 H994.8M985.4 584.3 H994.8M1068.9 605.4 V613.7M1192.8 605.4 V613.7" stroke="#000" stroke-width="2.7" fill="none"/>
<text x="975" y="354.2" font-size="30.2" text-anchor="end" font-family="'Liberation Sans', 'Liberation Sans', sans-serif">2</text>
<text x="975" y="597" font-size="30.2" text-anchor="end" font-family="'Liberation Sans', 'Liberation Sans', sans-serif">0</text>
<text x="1066.9" y="646.2" font-size="36.4" text-anchor="middle" font-family="'DejaVu Sans', 'Liberation Sans', sans-serif">Healthy</text>
<text x="1194.8" y="646.2" font-size="36.4" text-anchor="middle" font-family="'DejaVu Sans', 'Liberation Sans', sans-serif">AS</text>
<text x="1117.9" y="95.3" font-size="33.1" text-anchor="middle" font-family="'DejaVu Sans', 'Liberation Sans', sans-serif" font-style="oblique">GATA4</text>
<text x="1129.2" y="149.9" font-size="32.5" text-anchor="middle" font-family="'DejaVu Sans', 'Liberation Sans', sans-serif" font-style="oblique">p &lt; 0.0001</text>
<rect x="1020.3" y="279.6" width="97.2" height="98" fill="#000"/>
<path d="M1083.5 170.5h0m-33 2h0m38.5 1h0m-7.5 1.5h0m-40 1h0m53 1.5h0m-27.5 0.5h0m38.5 0.5h0m-30 3.5h0m-50.5 1.5h0m31 0h0m58.5 -1h0m-73.5 2.5h0m8 -0.5h0m24.5 0.5h0m1 1h0m3 -0.5h0m-55.5 3h0m35 1.5h0m-12 3h0m22 0h0m8 -0.5h0m25.5 0.5h0m-70.5 1h0m6.5 1h0m2.5 1.5h0m21.5 3h0m25 0h0m-48.5 1h0m40.5 -0.5h0m-51.5 0.5h0m59.5 0.5h0m-29 1h0m-21 1h0m18 0h0m10 -0.5h0m22 1.5h0m1.5 -0.5h0m19 0h0m-75 2h0m41.5 -1h0m18 0.5h0m13.5 -0.5h0m-45 1h0m48.5 0h0m-86.5 1h0m78.5 0h0m7.5 0.5h0m-26.5 1h0m0.5 0.5h0m-26.5 0.5h0m28 0h0m3 0h0m-64.5 1.5h0m41.5 -0.5h0m-23 0.5h0m39 0.5h0m20 0h0m0.5 0.5h0m11.5 0.5h0m-89.5 1.5h0m5 -0.5h0m7.5 0h0m7 0h0m57.5 -0.5h0m7 0.5h0m-67 0.5h0m24 1h0m55.5 -0.5h0m-31 1.5h0m25.5 -0.5h0m-48.5 1h0m18 -0.5h0m2 1h0m18.5 -0.5h0m-24 1h0m1 0.5h0m12.5 0h0m-64.5 0.5h0m16.5 -0.5h0m17 1h0m34 -0.5h0m-62.5 1h0m5.5 0h0m63.5 0h0m5.5 0h0m7.5 -0.5h0m-88.5 1h0m1.5 0.5h0m1 0h0m50.5 0h0m34 -0.5h0m3 0.5h0m-81 0.5h0m6 0h0m13.5 0.5h0m22 0h0m25.5 -0.5h0m-76 1h0m1 0h0m5 0h0m6 0.5h0m38.5 0.5h0m0.5 0h0m27.5 -0.5h0m-80.5 1h0m15 0h0m11 0h0m28.5 -0.5h0m11 1h0m8 -0.5h0m11.5 -0.5h0m4.5 0.5h0m-66 0.5h0m-1.5 1.5h0m59.5 0h0m0.5 0h0m3.5 -0.5h0m-83.5 2h0m0.5 -1h0m5 0h0m3.5 1h0m8.5 -0.5h0m1.5 0.5h0m7 0h0m27.5 -0.5h0m11.5 -0.5h0m1.5 0.5h0m7 0.5h0m-75 1h0m3.5 -0.5h0m10 -0.5h0m18 0.5h0m42 0.5h0m-76.5 0h0m7.5 1h0m2 -0.5h0m10.5 0h0m1.5 0.5h0m7.5 -1h0m0 0.5h0m33.5 0.5h0m0.5 0h0m9 -0.5h0m5.5 0.5h0m4 -1h0m3 0.5h0m-53 1h0m64.5 0h0m-81 1h0m1.5 0h0m12 0.5h0m36 0h0m15.5 -0.5h0m2.5 0h0m-75.5 0.5h0m7.5 1h0m12.5 -0.5h0m12 -0.5h0m27 0.5h0m6 0h0m7 0.5h0m1 0h0m7.5 0h0m-85 0.5h0m6.5 0h0m4.5 -0.5h0m17 0.5h0m54.5 0h0m4.5 0h0m-87.5 1h0m5.5 0h0m1.5 0h0m3.5 0h0m16.5 -0.5h0m6 0.5h0m22.5 0.5h0m0.5 -0.5h0m4.5 0.5h0m18 -0.5h0m3.5 -0.5h0m5.5 1h0m-76 0.5h0m14.5 0h0m31 0h0m12.5 0.5h0m12.5 0h0m-75.5 0.5h0m22 0h0m0.5 -0.5h0m0.5 0.5h0m1 -0.5h0m52 1h0m0.5 -0.5h0m-78.5 0.5h0m54 0.5h0m11 0h0m3.5 0h0m2 0.5h0m103.5 -0.5h0m-166 1h0m1 0h0m2 0h0m10.5 0h0m4.5 0.5h0m3.5 -0.5h0m24 -0.5h0m2.5 0h0m1 0.5h0m17 0h0m-79 0.5h0m1 0h0m4.5 1h0m0.5 -0.5h0m11.5 0.5h0m12 -1h0m5 0.5h0m22 -0.5h0m5 0h0m-60 1.5h0m17.5 0h0m8.5 -0.5h0m3 1h0m33 0h0m17 -0.5h0m0 0h0m2.5 0h0m7.5 0h0m2 -0.5h0m1 0.5h0m-94.5 0.5h0m12 0.5h0m7.5 0h0m8.5 0h0m1.5 0.5h0m41 0h0m11.5 0h0m1.5 -0.5h0m1 0h0m11.5 -0.5h0m107 0.5h0m-200 1h0m5.5 -0.5h0m2 0.5h0m0.5 0.5h0m9.5 -1h0m11 0.5h0m3.5 0h0m24.5 0.5h0m3.5 -0.5h0m2.5 0h0m7 0.5h0m14.5 -0.5h0m-73 1h0m15 -0.5h0m1 0.5h0m30 0h0m4.5 0h0m1.5 0h0m2.5 -0.5h0m2 1h0m9 -0.5h0m0 -0.5h0m1.5 1h0m1.5 -0.5h0m4 0h0m2.5 0h0m-83.5 1.5h0m23.5 -0.5h0m32.5 0h0m13 0h0m1.5 0h0m1.5 0.5h0m2.5 0h0m10.5 -0.5h0m1.5 0h0m-76 0.5h0m3.5 1h0m7 -0.5h0m39 0h0m24.5 0.5h0m0 0h0m6 -0.5h0m-89 1.5h0m15 -0.5h0m1 0h0m7.5 -0.5h0m4.5 0.5h0m25.5 -0.5h0m1 0.5h0m4 0h0m0.5 -0.5h0m3.5 0h0m3.5 1h0m2 -0.5h0m3.5 0h0m6 0h0m6 -0.5h0m0.5 1h0m3.5 0h0m-93 1h0m3 0h0m1 0h0m2.5 -0.5h0m2.5 0h0m0.5 0.5h0m65 -1h0m12 1h0m1.5 -0.5h0m1 -0.5h0m5.5 0.5h0m-89 1h0m4.5 0h0m5.5 -0.5h0m1.5 0h0m45.5 0.5h0m1.5 0h0m3 0.5h0m4.5 -1h0m0.5 0h0m9.5 0.5h0m13 0.5h0m-97.5 0h0m2 0.5h0m0.5 -0.5h0m0.5 0.5h0m16.5 0h0m4 0.5h0m0.5 -0.5h0m1 0h0m7.5 0h0m31 0h0m10 0.5h0m4 -0.5h0m2 0h0m7.5 0.5h0m0.5 -0.5h0m2.5 0.5h0m3 -0.5h0m-93 0.5h0m5.5 1h0m2 0h0m7 -1h0m0.5 0h0m10.5 0.5h0m6.5 0h0m30.5 0h0m7.5 0.5h0m12 -1h0m3 0.5h0m0.5 0h0m5 0.5h0m3.5 0h0m1.5 0h0m1 -0.5h0m-87.5 1h0m0.5 0.5h0m0 0h0m5.5 0h0m9.5 0h0m4 0h0m61.5 -0.5h0m4 0h0m-91.5 1h0m7.5 0h0m4 0h0m4 0.5h0m6 -0.5h0m0.5 -0.5h0m3 1h0m1 -0.5h0m0.5 -0.5h0m0.5 0.5h0m49 -0.5h0m1.5 1h0m8 -0.5h0m4.5 0h0m-91 1.5h0m22.5 -0.5h0m8 0.5h0m0.5 0h0m35.5 -0.5h0m0.5 -0.5h0m8 1h0m0.5 0h0m2.5 -0.5h0m2.5 0h0m1 0h0m8.5 0h0m-91 0.5h0m10.5 0.5h0m4 0h0m2 0h0m2.5 0.5h0m5.5 0h0m8.5 -0.5h0m34.5 0.5h0m12.5 -0.5h0m3 -0.5h0m5 0.5h0m3 0h0m-91.5 1h0m2 0.5h0m12 -0.5h0m12.5 0h0m1 0.5h0m4 -0.5h0m43 -0.5h0m8 0.5h0m11.5 0h0m-92.5 1.5h0m7.5 0h0m1 0h0m6.5 -1h0m3.5 0.5h0m1.5 0.5h0m44 -0.5h0m13 -0.5h0m3.5 1h0m10 -0.5h0m1 -0.5h0m2 1h0m0 -0.5h0m2 0h0m-93.5 0.5h0m6.5 0.5h0m5 0h0m4.5 -0.5h0m3.5 1h0m59 0h0m-80 0.5h0m1 0.5h0m3 -0.5h0m2.5 0h0m5 0h0m5 0.5h0m11 -1h0m38.5 0.5h0m0.5 0.5h0m13 0h0m0 -0.5h0m12.5 0h0m1.5 0h0m-92.5 1.5h0m1 -0.5h0m1 -0.5h0m7.5 0h0m0.5 0.5h0m3 0h0m5 0h0m2 0h0m1 0h0m0 -0.5h0m0.5 0h0m1 0.5h0m2 0.5h0m43.5 -1h0m2 0h0m1.5 0.5h0m0.5 -0.5h0m5.5 0.5h0m15.5 -0.5h0m0 0.5h0m0.5 -0.5h0m0 0.5h0m1 0.5h0m104 0h0m-198 1h0m1 0h0m2.5 -0.5h0m4 0.5h0m0 -0.5h0m0.5 0h0m18 0h0m41.5 0.5h0m16.5 -0.5h0m2 0.5h0m4.5 -1h0m0.5 1h0m1.5 0h0m-88 0.5h0m0 -0.5h0m5.5 1h0m7.5 0h0m2.5 -0.5h0m0.5 0h0m47.5 0.5h0m0.5 -0.5h0m7.5 -0.5h0m2 1h0m-71.5 0h0m1.5 0h0m6 0h0m0 0h0m3.5 0.5h0m2 0h0m4 0.5h0m45 -1h0m5.5 0.5h0m3 -0.5h0m1 0.5h0m4.5 0h0m2 0h0m0.5 0h0m1 0.5h0m1.5 -1h0m5 0h0m-90.5 1.5h0m0 0h0m6 0.5h0m6.5 -0.5h0m1 0h0m1 0h0m10.5 0h0m38 0.5h0m8.5 0h0m0.5 -0.5h0m2.5 0h0m12.5 0h0m-90.5 1h0m0.5 -0.5h0m1 1h0m4 -1h0m4.5 0.5h0m0 -0.5h0m2 1h0m1.5 -0.5h0m53.5 0.5h0m5 -0.5h0m0.5 0.5h0m1 -0.5h0m2.5 -0.5h0m3 0.5h0m0.5 0.5h0m15 -1h0m-95.5 1.5h0m3 -0.5h0m2 0.5h0m1 0h0m4.5 -0.5h0m1 0.5h0m16.5 0h0m0 0h0m39.5 0h0m1 0h0m17.5 0h0m5.5 0.5h0m3 0h0m0.5 0h0m-90.5 1h0m1 0h0m0.5 -0.5h0m2 0h0m11.5 0.5h0m3.5 -1h0m53 0.5h0m0.5 0h0m5 0.5h0m6 -0.5h0m1.5 0.5h0m0.5 -0.5h0m2 0.5h0m-90 1h0m4 -0.5h0m6.5 0h0m0.5 0h0m2 0h0m0.5 0h0m5.5 0h0m0.5 0.5h0m2.5 -0.5h0m0.5 0h0m0.5 0h0m3 0.5h0m41.5 -0.5h0m6 -0.5h0m6.5 0.5h0m2 -0.5h0m4.5 1h0m6.5 -0.5h0m-95 1h0m3 -0.5h0m0.5 0.5h0m4 0.5h0m19 -0.5h0m42 0.5h0m2 -0.5h0m13.5 0h0m9.5 -0.5h0m3.5 0.5h0m-96 1h0m1 0h0m1 0h0m1 0h0m3.5 0h0m0.5 -0.5h0m3 0.5h0m2.5 0h0m3 -0.5h0m7 0.5h0m45.5 0.5h0m3.5 -0.5h0m1 -0.5h0m5 0h0m0.5 0.5h0m1.5 -0.5h0m3.5 0h0m8 0.5h0m1 0.5h0m1.5 -0.5h0m0.5 0h0m-95 1h0m4.5 0.5h0m2.5 -0.5h0m17.5 0.5h0m1 -1h0m1 1h0m51 -0.5h0m2 0h0m15 -0.5h0m0 1h0m1.5 -1h0m-96.5 2h0m2 -0.5h0m0 0h0m11.5 0h0m1.5 0h0m3.5 0.5h0m54 0h0m6 0h0m8.5 -1h0m9.5 0.5h0m-91 1h0m7.5 -0.5h0m0 1h0m7 -0.5h0m6.5 0.5h0m0.5 0h0m45.5 0h0m6.5 -1h0m13.5 0.5h0m1 0.5h0m0.5 -1h0m94.5 1h0m-186.5 1h0m4 -0.5h0m0.5 0h0m0.5 0h0m0.5 0h0m1 0h0m6 0h0m2.5 0h0m1.5 0.5h0m1.5 0h0m2 -1h0m2 0.5h0m2.5 0h0m0.5 0.5h0m44 -0.5h0m0.5 -0.5h0m11.5 1h0m2 -0.5h0m1.5 0h0m0 0.5h0m-79.5 0h0m0.5 0h0m4.5 0.5h0m0.5 0h0m1.5 0h0m2.5 0.5h0m6 -0.5h0m0.5 0h0m1 0.5h0m55.5 -0.5h0m9 -0.5h0m4.5 0.5h0m3 0.5h0m-92.5 1h0m6 0h0m2.5 -0.5h0m8.5 -0.5h0m6 0.5h0m47 0.5h0m0 0h0m12 0h0m-85.5 0.5h0m1 0h0m2.5 -0.5h0m0.5 0.5h0m16.5 0h0m3.5 0.5h0m50 -0.5h0m0 -0.5h0m16 1h0m3 -1h0m0 0h0m-91.5 1.5h0m4.5 0h0m3 0h0m4.5 0h0m6 0.5h0m5 -0.5h0m53 0h0m0 0h0m0.5 0.5h0m2 -1h0m2.5 0h0m1 0.5h0m1.5 0h0m3 0h0m2 0h0m2 0.5h0m0.5 -0.5h0m3.5 0h0m1.5 0h0m42.5 0h0m-134.5 1h0m8.5 0h0m0.5 0h0m4.5 0h0m3 -0.5h0m50 0.5h0m2 0.5h0m0.5 0h0m4.5 -1h0m4.5 0h0m8.5 0h0m4.5 1h0m1 -0.5h0m-95.5 0.5h0m1 0.5h0m2 -0.5h0m0.5 1h0m0 -1h0m3.5 0.5h0m11.5 0h0m2 0h0m0.5 0.5h0m52 -0.5h0m7 0.5h0m2 -0.5h0m2 0h0m1 0h0m1 0h0m4.5 0h0m2 0h0m1 0h0m-91 1h0m2.5 0h0m2 0h0m64.5 0h0m2.5 0.5h0m7.5 0h0m8.5 0h0m-91.5 0h0m1.5 0.5h0m1 -0.5h0m1.5 0.5h0m2 0.5h0m0 0h0m3 0h0m1.5 0h0m2.5 -1h0m2.5 0.5h0m0 0.5h0m1.5 0h0m3 -1h0m1 0h0m2 0.5h0m50 0.5h0m1 -0.5h0m1 0h0m1.5 0h0m1 0.5h0m4 -0.5h0m4 0h0m10.5 0h0m-94 1h0m1.5 0h0m1 -0.5h0m0.5 0.5h0m0.5 0h0m3 -0.5h0m11.5 1h0m1 -1h0m54.5 0.5h0m4 0.5h0m0.5 -0.5h0m1 0h0m0.5 0.5h0m1.5 -0.5h0m4.5 0h0m5.5 0h0m3.5 -0.5h0m-96 1.5h0m0.5 0h0m0.5 0.5h0m5 -1h0m13.5 0h0m59.5 0h0m3.5 0h0m5 0h0m7.5 0.5h0m0.5 -0.5h0m-95 1h0m0.5 0.5h0m0 1.5h0m95 1h0m1 0.5h0m-1.5 1.5h0m1 0h0m0.5 0h0m-97 2h0m95 0h0m0 0h0m0 -1h0m1 0.5h0m-0.5 1h0m-96.5 1.5h0m1 0.5h0m95.5 0h0m0.5 0h0m-1 2.5h0m-0.5 1h0m1 -0.5h0m1 0h0m-97.5 2h0m0 -0.5h0m2 0.5h0m93.5 0h0m-95 0.5h0m0.5 0.5h0m1 0.5h0m-1.5 0h0m1.5 0h0m95 0.5h0m-96.5 1h0m0.5 -0.5h0m220.5 0h0m-219.5 1h0m94 1h0m0.5 0h0m0 -1h0m-0.5 2.5h0m1 0h0m-96.5 1.5h0m1.5 -1h0m0.5 0h0m93.5 0.5h0m0 0.5h0m0.5 0h0m0.5 -0.5h0m-97 1h0m97.5 0.5h0m-97 0.5h0m97 0h0m-96 0.5h0m157.5 1h0m-10 0.5h0m-148.5 0.5h0m0.5 1h0m96.5 -1h0m49.5 0.5h0m-147 1h0m1 0h0m0.5 0.5h0m151 -0.5h0m-151.5 0.5h0m95.5 1h0m1 -1h0m-96.5 1h0m-1 2h0m1.5 0h0m95.5 0h0m0 0.5h0m0.5 0h0m115.5 -0.5h0m-115.5 2h0m-1.5 1h0m-95.5 1h0m0.5 -0.5h0m1 0.5h0m95.5 -0.5h0m-97.5 1.5h0m96.5 -0.5h0m-94.5 1.5h0m94 -1h0m1.5 0.5h0m-97.5 0.5h0m2.5 0.5h0m93 0h0m1 0h0m-96.5 1h0m0.5 0.5h0m134 0.5h0m-133 1.5h0m124.5 -1h0m-124.5 2h0m94.5 0h0m104 -0.5h0m5.5 0h0m-204.5 1h0m96 0h0m75 0h0m-48 1h0m6 0h0m-130 1.5h0m0 -0.5h0m1 0.5h0m95.5 -0.5h0m0.5 -0.5h0m0 1h0m90.5 -1h0m-187 1h0m1.5 0.5h0m93.5 0h0m28.5 -0.5h0m36 1h0m50 -0.5h0m-209.5 1h0m0.5 0h0m95 -0.5h0m0.5 0.5h0m36 0h0m78.5 0.5h0m-210.5 0.5h0m0.5 0h0m95 0h0m0 -0.5h0m89 0.5h0m-184 1.5h0m0.5 0h0m94 0h0m-95 1h0m0.5 -0.5h0m124 0h0m39.5 0h0m-68.5 1h0m-95 1h0m-0.5 0.5h0m1.5 0.5h0m-1 1.5h0m123 -1h0m-121.5 1.5h0m-1.5 1h0m0.5 0.5h0m95.5 -1h0m69 0.5h0m9 -0.5h0m-47.5 1.5h0m12 0h0m0 -0.5h0m-138 1.5h0m95 0h0m83.5 0h0m-179.5 1.5h0m0 -0.5h0m0 0h0m96.5 0h0m0 0h0m-96 1h0m0 0.5h0m95 -0.5h0m0.5 -0.5h0m1 0.5h0m0.5 0.5h0m33 1h0m28 0h0m0.5 0h0m22.5 -0.5h0m6 0.5h0m26.5 0h0m-214.5 0.5h0m1 -0.5h0m94.5 0.5h0m0.5 0.5h0m68 -1h0m1 0.5h0m7.5 0.5h0m36.5 0h0m10.5 -0.5h0m-219 1.5h0m0.5 -1h0m0 0.5h0m0.5 0h0m94.5 0h0m0.5 -0.5h0m41.5 0.5h0m62.5 0h0m-103.5 0.5h0m85.5 0.5h0m32 0h0m5.5 -0.5h0m-122.5 1h0m27 0h0m10 0.5h0m31 0.5h0m23 -0.5h0m-186.5 1.5h0m95 -0.5h0m0 0.5h0m0 -0.5h0m0.5 0h0m0.5 0.5h0m32 -0.5h0m14 0h0m48 0.5h0m-191 1h0m190 -0.5h0m-190.5 0.5h0m1.5 1h0m93.5 0h0m1.5 -1h0m83.5 0.5h0m6.5 0h0m20 0.5h0m-207 0h0m1 0h0m216 1h0m-216 0.5h0m213.5 0h0m-118.5 1.5h0m0 -0.5h0m0.5 0h0m0.5 0.5h0m69 -0.5h0m9 0h0m33.5 0h0m-206.5 1h0m95 0h0m49.5 0h0m0.5 0h0m-145.5 1.5h0m124 -0.5h0m20 0h0m65 -0.5h0m-210.5 1.5h0m1.5 0h0m95 -0.5h0m0 0h0m1 0.5h0m42.5 0h0m-44 0.5h0m0.5 0.5h0m1 0h0m38.5 0h0m15.5 1.5h0m0.5 -1h0m4.5 0.5h0m-155 1h0m131.5 0h0m10 0.5h0m34.5 0h0m23.5 -0.5h0m6 0.5h0m4.5 -0.5h0m-114 0.5h0m61 1h0m22.5 0h0m14.5 0h0m-195.5 0.5h0m96.5 0.5h0m57 -1h0m30.5 0.5h0m19.5 0.5h0m-202 1.5h0m0.5 0h0m94 -0.5h0m1 1h0m104 -0.5h0m-199.5 1.5h0m0.5 0h0m138.5 -0.5h0m39 0h0m-178.5 1h0m0.5 0.5h0m94.5 0h0m0.5 -0.5h0m0.5 0h0m44.5 -0.5h0m10.5 0h0m34.5 1h0m-186.5 0.5h0m2 0.5h0m93.5 -0.5h0m40.5 -0.5h0m31.5 1h0m50 -0.5h0m-217.5 1h0m2 0h0m137.5 0h0m50 0.5h0m-189.5 1h0m199.5 -1h0m-199 1.5h0m1.5 -0.5h0m163 0.5h0m13.5 0.5h0m24.5 0h0m-107 0.5h0m1.5 0.5h0m0.5 -0.5h0m27.5 0h0m13 0h0m46.5 -0.5h0m30 0.5h0m-118 1.5h0m59.5 1h0m-154.5 0.5h0m95 0h0m56.5 -0.5h0m46 1h0m-102 0h0m63.5 0.5h0m0.5 -0.5h0m10.5 0.5h0m33.5 0h0m-136 1.5h0m19 0h0m46 0h0m0.5 -0.5h0m14.5 0h0m30.5 0h0m32 0.5h0m-211.5 1h0m0.5 -0.5h0m1 0h0m3.5 0h0m0 0.5h0m9.5 -0.5h0m5.5 -0.5h0m3 0.5h0m0 0h0m5 -0.5h0m0 0.5h0m1 0.5h0m3 -1h0m0.5 0.5h0m33 0.5h0m1 -0.5h0m2.5 0h0m3 0h0m2.5 0h0m4 0.5h0m0.5 -0.5h0m0.5 0.5h0m13 -1h0m0.5 0.5h0m1.5 -0.5h0m75.5 0h0m6 0h0m9 0.5h0m-182.5 1h0m0.5 0h0m0 0h0m11 0h0m0.5 0h0m1 0h0m2 -0.5h0m1 0.5h0m1 0.5h0m3.5 -0.5h0m3.5 0.5h0m2 -1h0m0.5 1h0m46.5 0h0m5.5 -0.5h0m0.5 -0.5h0m3 0h0m2.5 0.5h0m2 0.5h0m0.5 -0.5h0m5.5 -0.5h0m30.5 0h0m19.5 0h0m27.5 0h0m-171.5 2h0m2 0h0m5 0h0m1 -1h0m3 0h0m4.5 0.5h0m0.5 0h0m1 0.5h0m3.5 0h0m1 0h0m6 -0.5h0m37 -0.5h0m1 0.5h0m5 0h0m0 0h0m1 -0.5h0m3 0.5h0m0.5 -0.5h0m0.5 0h0m2 0h0m2.5 0.5h0m2 0.5h0m0.5 0h0m3 -1h0m1.5 0.5h0m131.5 -0.5h0m-217 1h0m0 1h0m6.5 -0.5h0m0.5 0h0m0 -0.5h0m1 0.5h0m3 -0.5h0m1.5 0.5h0m4 0h0m3.5 0h0m10 0h0m0.5 0.5h0m30 0h0m2.5 -1h0m2 0h0m2 0.5h0m2 -0.5h0m0.5 0h0m0.5 0.5h0m4 -0.5h0m7.5 0.5h0m9 0h0m51.5 0h0m75 0h0m-219.5 1h0m1 0.5h0m4.5 -1h0m3.5 0.5h0m0.5 -0.5h0m6 0.5h0m4.5 0h0m1.5 -0.5h0m2.5 0.5h0m2.5 0h0m1.5 0h0m0.5 0h0m36 -0.5h0m3 0h0m11.5 1h0m0.5 -1h0m1 0.5h0m1 0h0m4 -0.5h0m3 0.5h0m1.5 0h0m2 0h0m5 0h0m75.5 0h0m9 0h0m-181 0.5h0m3 1h0m4 -0.5h0m0.5 0h0m4.5 -0.5h0m5 0h0m2 1h0m1 -0.5h0m1.5 -0.5h0m1.5 0.5h0m3.5 0.5h0m2 0h0m37 -1h0m0 1h0m0.5 -0.5h0m1 -0.5h0m4 1h0m1.5 0h0m0.5 0h0m6.5 -0.5h0m8.5 0.5h0m2 0h0m0.5 -0.5h0m-91.5 1.5h0m2.5 -0.5h0m0.5 0h0m0.5 0.5h0m0 -0.5h0m0.5 0.5h0m5.5 -0.5h0m0.5 0h0m3 -0.5h0m1.5 0.5h0m0.5 0.5h0m0.5 -0.5h0m0 0.5h0m2 0h0m4.5 -0.5h0m11 0.5h0m36 -0.5h0m4 0h0m3 0h0m5.5 -0.5h0m2.5 1h0m1 -1h0m2 1h0m1.5 -1h0m4.5 0.5h0m1.5 0.5h0m3 -0.5h0m36 -0.5h0m35.5 0.5h0m-163.5 0.5h0m3 0h0m3 1h0m20 0h0m3 -0.5h0m0.5 0h0m30 0h0m6 0.5h0m2.5 -0.5h0m0.5 -0.5h0m2 0h0m3 0.5h0m2.5 0h0m1.5 0h0m0.5 0h0m2.5 0h0m1 0h0m1 0.5h0m50 -0.5h0m30.5 0h0m-159 1h0m6 0.5h0m4.5 -0.5h0m1 0h0m6.5 0h0m0.5 0h0m36 -0.5h0m3.5 0h0m0.5 1h0m11.5 -0.5h0m3 -0.5h0m4 0.5h0m7.5 0.5h0m65.5 -0.5h0m19.5 0h0m-167.5 1h0m1.5 0h0m3 -0.5h0m2.5 0.5h0m2.5 0h0m1.5 0.5h0m2 -1h0m11.5 1h0m26 -0.5h0m5 0h0m1 -0.5h0m2.5 1h0m2.5 -1h0m2.5 0.5h0m10 0.5h0m9 -0.5h0m2 0h0m1 0h0m69.5 0.5h0m-163 1h0m6 -0.5h0m2.5 0.5h0m4.5 0h0m11.5 -0.5h0m4 0h0m2.5 0h0m30 -0.5h0m9.5 0h0m6 0.5h0m0 0h0m16.5 0.5h0m35 -1h0m73.5 0.5h0m15.5 -0.5h0m-215 1.5h0m0.5 0h0m6.5 -0.5h0m1 1h0m3.5 -0.5h0m0.5 -0.5h0m9 0.5h0m7 0.5h0m34.5 -0.5h0m8.5 0h0m0.5 0.5h0m0.5 -1h0m3.5 0h0m4 0.5h0m0.5 -0.5h0m4 0.5h0m35 -0.5h0m9 0.5h0m44 0.5h0m9 -0.5h0m-186 0.5h0m1 0h0m2 0.5h0m2.5 0.5h0m3 -1h0m1 0h0m4.5 0h0m1.5 0.5h0m1 0.5h0m15 -0.5h0m33.5 0h0m1.5 0h0m3 0h0m2 -0.5h0m2 0h0m5 0.5h0m6.5 0h0m0.5 -0.5h0m1.5 1h0m5 0h0m109.5 -1h0m10 0.5h0m-207 1h0m2.5 0.5h0m2 -0.5h0m1.5 0h0m1.5 0h0m2 0h0m6.5 0h0m0 0h0m2 -0.5h0m0.5 1h0m5 0h0m1 -0.5h0m4.5 0h0m1.5 0h0m1.5 0h0m24 0h0m4 0h0m2 0.5h0m3 -0.5h0m0.5 -0.5h0m3.5 1h0m22 -1h0m30.5 1h0m6 -0.5h0m7 0.5h0m20 -1h0m50.5 0.5h0m4 -0.5h0m-213.5 1.5h0m3 0h0m0.5 0h0m1 0h0m4.5 0h0m3 -0.5h0m3.5 1h0m3.5 -0.5h0m10 0h0m0 0h0m4.5 0h0m26.5 0.5h0m5.5 -0.5h0m9.5 0h0m3 0h0m5.5 0.5h0m2 0h0m5 0h0m85.5 -0.5h0m16.5 -0.5h0m8.5 0.5h0m-199.5 0.5h0m1 0.5h0m2 0h0m6.5 0h0m2 0.5h0m5 -1h0m8.5 0h0m1 1h0m6 -0.5h0m1.5 -0.5h0m25.5 0.5h0m2 -0.5h0m6.5 0h0m1 0h0m3.5 0.5h0m1 0h0m9 -0.5h0m4.5 0h0m2.5 0h0m4.5 0.5h0m0 0h0m43 0h0m24.5 0.5h0m25 -0.5h0m25 0h0m-200.5 1h0m0 0h0m0.5 0h0m0.5 0.5h0m2 -0.5h0m8 0.5h0m1.5 -0.5h0m37 0.5h0m6 -0.5h0m6 0.5h0m14.5 0h0m0.5 -0.5h0m1.5 -0.5h0m1.5 0.5h0m2.5 0h0m34.5 0h0m15.5 0.5h0m15 -1h0m13 1h0m10.5 -0.5h0m-181.5 1.5h0m0 -0.5h0m0.5 0h0m2 0h0m3 -0.5h0m14 0.5h0m0.5 0h0m0.5 0h0m2.5 0h0m13.5 -0.5h0m23.5 0h0m4.5 0h0m3.5 1h0m3 -0.5h0m7.5 0h0m3 -0.5h0m5 0.5h0m69.5 0h0m15.5 -0.5h0m39 0.5h0m-206.5 1h0m0.5 0h0m1.5 -0.5h0m3 0h0m0 0.5h0m5.5 0h0m8 -0.5h0m1.5 0.5h0m5 0.5h0m2 0h0m0.5 0h0m4.5 0h0m0.5 -1h0m24.5 1h0m2 -0.5h0m2 -0.5h0m1.5 1h0m2 -0.5h0m0 0.5h0m2 -1h0m8.5 0.5h0m2 0h0m1.5 0h0m0.5 0.5h0m1.5 -0.5h0m6 -0.5h0m3.5 1h0m54 -0.5h0m68 0.5h0m-217 0.5h0m5 0h0m0 0h0m0.5 0h0m5.5 -0.5h0m5 0.5h0m4 0h0m13 -0.5h0m2.5 1h0m0.5 0h0m1.5 0h0m22.5 -0.5h0m0 0.5h0m0.5 0h0m1.5 -0.5h0m6 -0.5h0m6.5 1h0m18.5 -0.5h0m42.5 0h0m16 0h0m9 0.5h0m-159.5 0.5h0m1.5 0h0m2.5 0h0m4.5 -0.5h0m14.5 0.5h0m35 -0.5h0m3 0.5h0m12.5 -0.5h0m1.5 0.5h0m1.5 0h0m8.5 0h0m1 -0.5h0m0.5 1h0m2.5 -0.5h0m49.5 0h0m3.5 0h0m22.5 -0.5h0m31.5 0.5h0m5 0.5h0m-201 0.5h0m0 0h0m5 0h0m0.5 0h0m25 0h0m1.5 0h0m5.5 -0.5h0m26 1h0m6 -1h0m1.5 0.5h0m5.5 0h0m9 0h0m6.5 0h0m44 0.5h0m27.5 0h0m5.5 -0.5h0m-163.5 0.5h0m4.5 0.5h0m2.5 -0.5h0m2.5 0h0m2.5 0h0m0.5 1h0m2.5 -1h0m0.5 0.5h0m8 0h0m3 -0.5h0m27.5 0.5h0m14.5 0.5h0m1.5 -0.5h0m0 -0.5h0m1.5 0h0m0.5 1h0m2.5 -0.5h0m3 0h0m0.5 -0.5h0m8.5 0.5h0m34 0.5h0m-128 0h0m1.5 0h0m5.5 1h0m10 0h0m8 -0.5h0m0.5 0h0m0 0.5h0m42 -1h0m2 0.5h0m18.5 0.5h0m0 -0.5h0m7 0h0m-95 1h0m5.5 0.5h0m19 -0.5h0m0.5 0h0m4.5 0.5h0m28.5 -1h0m2 1h0m0 0h0m6 -0.5h0m12.5 0.5h0m2.5 -0.5h0m7 -0.5h0m38.5 1h0m94.5 -0.5h0m-219.5 0.5h0m3 1h0m2.5 0h0m1 -0.5h0m0.5 -0.5h0m4.5 0.5h0m2.5 -0.5h0m2.5 0.5h0m5.5 0h0m0.5 0h0m4 -0.5h0m10.5 0.5h0m18.5 0h0m2.5 0h0m1.5 0h0m0.5 0h0m2 0h0m14 0h0m12 0h0m2 0h0m1.5 0h0m100.5 0.5h0m-192.5 0.5h0m1 0h0m1.5 -0.5h0m4 0h0m6.5 1h0m7 0h0m4 -0.5h0m6 0h0m4.5 0h0m5.5 0h0m17 0.5h0m0.5 -0.5h0m16.5 0h0m10.5 0h0m4.5 0h0m3 -0.5h0m4.5 0h0m43.5 1h0m-140 0.5h0m1.5 0h0m6.5 -0.5h0m2 1h0m14.5 -0.5h0m8 0h0m1.5 0.5h0m1 -0.5h0m1 -0.5h0m31.5 0.5h0m9 0.5h0m5 -0.5h0m4 0h0m51.5 -0.5h0m17 0h0m34 0h0m-188 1h0m7 0.5h0m15.5 -0.5h0m3 0h0m9 1h0m5.5 -1h0m32 0h0m5 0h0m2.5 0.5h0m2.5 0h0m2 0h0m5.5 -0.5h0m3 0.5h0m1.5 0h0m2 0h0m31 -0.5h0m71 0.5h0m-189.5 1.5h0m13 -0.5h0m1 0h0m1.5 0h0m11 -0.5h0m3.5 0.5h0m19.5 0h0m0.5 0h0m1 0h0m9 0h0m1 0.5h0m0.5 -0.5h0m3 0h0m3 0.5h0m4.5 -0.5h0m2.5 -0.5h0m11.5 0h0m1 0h0m0 0.5h0m49.5 0.5h0m46 0h0m-192 0.5h0m0.5 0.5h0m2 -1h0m28.5 1h0m0 0h0m9 -0.5h0m23.5 -0.5h0m3.5 0h0m12 1h0m0.5 -0.5h0m0 0.5h0m1 -1h0m3 0h0m4 1h0m67.5 0h0m3.5 -0.5h0m1.5 0.5h0m4 -0.5h0m37 0h0m-184 1h0m14 0h0m9.5 0.5h0m2.5 0h0m0 -0.5h0m12.5 -0.5h0m1 1h0m15.5 -0.5h0m9.5 0.5h0m3 -0.5h0m9.5 -0.5h0m2 0.5h0m47.5 0.5h0m4.5 -0.5h0m-147.5 1.5h0m8.5 0h0m3 0h0m1 -0.5h0m0.5 0h0m4 0h0m9.5 0.5h0m2.5 -0.5h0m5 0.5h0m2.5 -0.5h0m26 0h0m5 0h0m23 0.5h0m35 0h0m13 -0.5h0m17 0.5h0m48 -0.5h0m-164 1.5h0m2.5 -0.5h0m17 0h0m5 0h0m11.5 -0.5h0m2 0.5h0m11 -0.5h0m5 0h0m1 0.5h0m-92 1h0m13.5 0h0m2 -0.5h0m3.5 0h0m33 0h0m26.5 0h0m1 0h0m1 0h0m11 1h0m41 -1h0m32.5 1h0m13 -0.5h0m-179.5 1h0m2 0h0m1 -0.5h0m6.5 1h0m2 -0.5h0m3.5 0.5h0m9 -0.5h0m0 0h0m7.5 0h0m1.5 0h0m33.5 0h0m0.5 0h0m4 0h0m16 0h0m2.5 0h0m3 0h0m70 0h0m8.5 0h0m-170.5 0.5h0m4.5 0.5h0m12.5 -0.5h0m14.5 0.5h0m1 -0.5h0m19 1h0m3 0h0m3 -0.5h0m19 0h0m13 0h0m38.5 0h0m16 0.5h0m-146 0.5h0m3 -0.5h0m5.5 0h0m2.5 0.5h0m2.5 0h0m1 0h0m3.5 0.5h0m2.5 -0.5h0m6 0.5h0m1 -1h0m2.5 0.5h0m7 -0.5h0m0 0.5h0m22 0.5h0m28 -1h0m75 0.5h0m38.5 0h0m-139.5 0.5h0m9 0.5h0m12.5 -0.5h0m1 0.5h0m1 0.5h0m1.5 -0.5h0m4 0h0m0.5 0.5h0m35.5 -0.5h0m12.5 0.5h0m15 -1h0m-149.5 1.5h0m8.5 -0.5h0m10 0h0m0 0.5h0m3.5 0h0m6 0.5h0m1 -0.5h0m2.5 0h0m10 0.5h0m14.5 -1h0m4.5 0.5h0m12 0.5h0m7 -0.5h0m5.5 0h0m3 0.5h0m51 -1h0m25 0.5h0m-162 0.5h0m55.5 0.5h0m7 0h0m10.5 0.5h0m2 -0.5h0m0.5 0h0m11 -0.5h0m4 0.5h0m111 -0.5h0m-194 1h0m2 1h0m8 0h0m1.5 -0.5h0m1.5 0h0m3 0.5h0m41 0h0m1 -0.5h0m13.5 0h0m6 0.5h0m109.5 0h0m13.5 -1h0m-203 2h0m21 -1h0m20.5 0.5h0m9.5 -0.5h0m13 1h0m3 -0.5h0m13 -0.5h0m3.5 0.5h0m124 0h0m-216.5 1h0m2.5 0h0m2 0h0m6.5 -0.5h0m17 1h0m36 -0.5h0m1 0h0m1.5 0h0m3.5 0.5h0m5 0h0m6.5 -0.5h0m10.5 0h0m40.5 -0.5h0m40.5 1h0m28.5 -0.5h0m-190.5 1.5h0m4.5 -0.5h0m3 0.5h0m18 -0.5h0m13 -0.5h0m1.5 0.5h0m24 0h0m8.5 0h0m4.5 0h0m2 0h0m77 0h0m-160.5 1h0m4 0h0m6 0h0m2.5 0h0m11 0h0m31.5 0.5h0m5 -0.5h0m4.5 0h0m12 0.5h0m3.5 -1h0m6 0.5h0m30 0h0m17.5 0.5h0m40.5 -0.5h0m-180.5 1.5h0m1 -0.5h0m3.5 0h0m7 0h0m2.5 -0.5h0m0 0.5h0m18.5 0h0m16.5 0.5h0m36 -1h0m8 0.5h0m0.5 -0.5h0m0.5 0.5h0m28.5 0h0m81.5 0h0m-200 1h0m22 0h0m12.5 -0.5h0m1 0.5h0m23.5 0.5h0m12 0h0m62.5 -1h0m18 1h0m-152 1h0m48 -0.5h0m7 -0.5h0m68 0.5h0m10.5 0.5h0m28.5 -0.5h0m0.5 0h0m-166 1h0m21.5 0h0m12.5 0h0m10 0h0m11 0h0m1.5 0h0m2 -0.5h0m2 0.5h0m4 0.5h0m16 0h0m5 0h0m42.5 -0.5h0m89 0h0m-194.5 1h0m3 0h0m2 0h0m13 0h0m18.5 0h0m36 0.5h0m-94.5 0.5h0m2.5 0h0m6.5 0h0m5.5 0h0m3.5 -0.5h0m2.5 0.5h0m4.5 0h0m14 -0.5h0m10 0h0m8.5 0h0m13.5 0.5h0m2.5 0.5h0m19 -1h0m82.5 0.5h0m15.5 -0.5h0m14 0.5h0m-190 1h0m1.5 0.5h0m2 -0.5h0m5.5 -0.5h0m7.5 0.5h0m26.5 0h0m7.5 0h0m2.5 0.5h0m15.5 -1h0m57 0.5h0m-121 1.5h0m14.5 -0.5h0m113.5 0.5h0m-140.5 0h0m8.5 0h0m10 0.5h0m7 0h0m4 0.5h0m16.5 -0.5h0m17 0.5h0m0.5 -0.5h0m133 0.5h0m-204 1h0m33 -0.5h0m28.5 -0.5h0m33 0.5h0m-78.5 1.5h0m12.5 -1h0m21.5 0h0m1 0.5h0m6.5 -0.5h0m0 1h0m30 -1h0m91.5 0.5h0m-162 1h0m5.5 0.5h0m5 -1h0m2 1h0m24.5 -0.5h0m13 0h0m67.5 -0.5h0m3 0.5h0m54.5 0h0m-143.5 1h0m23.5 -0.5h0m11.5 0h0m56.5 0.5h0m31 0.5h0m15.5 -0.5h0m-150.5 1h0m3 0h0m19.5 0h0m28.5 0h0m8.5 -0.5h0m-76 1h0m23 1h0m15.5 -0.5h0m27.5 1h0m129 0.5h0m-184.5 0h0m47 0h0m2 1h0m3.5 0h0m69 0h0m49 0.5h0m-174.5 0.5h0m47.5 0h0m-48.5 1.5h0m28 0h0m42 0h0m104.5 -0.5h0m-164.5 2h0m35 -0.5h0m6.5 0.5h0m101.5 -1h0m-111.5 2h0m76.5 -0.5h0m-102.5 1.5h0m13.5 -0.5h0m98.5 -0.5h0m32.5 0h0m-167.5 2h0m71 -1h0m93.5 0h0m-142 1.5h0m10 0.5h0m6.5 0h0m34 0.5h0m85 0h0m-157.5 0.5h0m13 0.5h0m101.5 0h0m53 0.5h0m-175 2h0m27 0h0m25 -1h0m70 1h0m-105.5 0.5h0m102.5 0.5h0m11 -1h0m-122.5 2h0m73.5 0.5h0m67.5 0.5h0m19 0h0m-172.5 2.5h0m149.5 -0.5h0m-110 2h0m9.5 -0.5h0m83 0h0m10.5 0h0m46.5 0.5h0m-171.5 1.5h0m72 0h0m-28 0.5h0m17.5 1h0m6 1.5h0m-22.5 2.5h0m124 -0.5h0m-134.5 2h0m127.5 1.5h0m-34.5 2.5h0m-11 5.5h0" stroke="#000" stroke-width="4.1" stroke-linecap="round" fill="none"/>
<path d="M1068.5 163.1 1068.5 164.1 1068.5 165.1 1068.5 166.1 1068.5 167.1 1068.5 168.1 1068.5 169.1 1068.5 170.1 1068.5 171.1 1068.4 172.1 1068.4 173.1 1068.4 174.1 1068.4 175.1 1068.4 176.1 1068.4 177.1 1068.4 178.1 1068.3 179.1 1068.3 180.1 1068.2 181.1 1068.1 182.1 1068 183.1 1067.9 184.1 1067.8 185.1 1067.7 186.1 1067.6 187.1 1067.5 188.1 1067.4 189.1 1067.3 190.1 1067.1 191.1 1067 192.1 1066.9 193.1 1066.7 194.1 1066.6 195.1 1066.5 196.1 1066.3 197.1 1066.1 198.1 1066 199.1 1065.8 200.1 1065.6 201.1 1065.4 202.1 1065.2 203.1 1065 204.1 1064.8 205.1 1064.5 206.1 1064.3 207.1 1064 208.1 1063.8 209.1 1063.5 210.1 1063.3 211.1 1063 212.1 1062.8 213.1 1062.6 214.1 1062.3 215.1 1062.1 216.1 1061.9 217.1 1061.6 218.1 1061.4 219.1 1061.2 220.1 1060.9 221.1 1060.7 222.1 1060.4 223.1 1060.2 224.1 1059.9 225.1 1059.6 226.1 1059.3 227.1 1059.1 228.1 1058.8 229.1 1058.5 230.1 1058.2 231.1 1057.9 232.1 1057.6 233.1 1057.3 234.1 1057 235.1 1056.7 236.1 1056.4 237.1 1056.1 238.1 1055.8 239.1 1055.5 240.1 1055.2 241.1 1054.9 242.1 1054.6 243.1 1054.3 244.1 1054 245.1 1053.6 246.1 1053.3 247.1 1053 248.1 1052.6 249.1 1052.3 250.1 1051.9 251.1 1051.6 252.1 1051.2 253.1 1050.8 254.1 1050.5 255.1 1050.1 256.1 1049.7 257.1 1049.4 258.1 1049 259.1 1048.7 260.1 1048.3 261.1 1048 262.1 1047.6 263.1 1047.3 264.1 1046.9 265.1 1046.6 266.1 1046.2 267.1 1045.9 268.1 1045.5 269.1 1045.2 270.1 1044.9 271.1 1044.6 272.1 1044.3 273.1 1044 274.1 1043.7 275.1 1043.4 276.1 1043.1 277.1 1042.8 278.1 1042.5 279.1 1042.3 280.1 1042 281.1 1041.8 282.1 1041.5 283.1 1041.3 284.1 1041.1 285.1 1040.9 286.1 1040.7 287.1 1040.4 288.1 1040.2 289.1 1040.1 290.1 1039.9 291.1 1039.7 292.1 1039.6 293.1 1039.4 294.1 1039.3 295.1 1039.2 296.1 1039.1 297.1 1038.9 298.1 1038.8 299.1 1038.7 300.1 1038.6 301.1 1038.5 302.1 1038.5 303.1 1038.4 304.1 1038.3 305.1 1038.2 306.1 1038.2 307.1 1038.1 308.1 1038 309.1 1037.9 310.1 1037.9 311.1 1037.8 312.1 1037.8 313.1 1037.7 314.1 1037.7 315.1 1037.7 316.1 1037.7 317.1 1037.7 318.1 1037.7 319.1 1037.7 320.1 1037.8 321.1 1037.8 322.1 1037.8 323.1 1037.9 324.1 1037.9 325.1 1038 326.1 1038.1 327.1 1038.2 328.1 1038.3 329.1 1038.5 330.1 1038.7 331.1 1038.9 332.1 1039.1 333.1 1039.3 334.1 1039.5 335.1 1039.7 336.1 1039.9 337.1 1040.1 338.1 1040.3 339.1 1040.5 340.1 1040.8 341.1 1041 342.1 1041.2 343.1 1041.4 344.1 1041.7 345.1 1041.9 346.1 1042.2 347.1 1042.4 348.1 1042.6 349.1 1042.9 350.1 1043.2 351.1 1043.4 352.1 1043.7 353.1 1044 354.1 1044.2 355.1 1044.5 356.1 1044.8 357.1 1045.1 358.1 1045.4 359.1 1045.6 360.1 1045.9 361.1 1046.2 362.1 1046.5 363.1 1046.8 364.1 1047.2 365.1 1047.5 366.1 1047.8 367.1 1048.1 368.1 1048.4 369.1 1048.7 370.1 1049.1 371.1 1049.4 372.1 1049.7 373.1 1050 374.1 1050.4 375.1 1050.7 376.1 1051.1 377.1 1051.4 378.1 1051.7 379.1 1052.1 380.1 1052.4 381.1 1052.7 382.1 1053 383.1 1053.3 384.1 1053.7 385.1 1054 386.1 1054.3 387.1 1054.6 388.1 1054.9 389.1 1055.2 390.1 1055.5 391.1 1055.8 392.1 1056.1 393.1 1056.4 394.1 1056.8 395.1 1057.1 396.1 1057.4 397.1 1057.7 398.1 1058.1 399.1 1058.4 400.1 1058.7 401.1 1059 402.1 1059.4 403.1 1059.7 404.1 1060 405.1 1060.3 406.1 1060.6 407.1 1060.9 408.1 1061.2 409.1 1061.4 410.1 1061.7 411.1 1062 412.1 1062.3 413.1 1062.6 414.1 1062.8 415.1 1063.1 416.1 1063.3 417.1 1063.6 418.1 1063.8 419.1 1064.1 420.1 1064.3 421.1 1064.5 422.1 1064.8 423.1 1065 424.1 1065.2 425.1 1065.4 426.1 1065.7 427.1 1065.8 428.1 1066 429.1 1066.2 430.1 1066.4 431.1 1066.6 432.1 1066.8 433.1 1067 434.1 1067.1 435.1 1067.3 436.1 1067.4 437.1 1067.6 438.1 1067.7 439.1 1067.8 440.1 1067.8 441.1 1067.9 442.1 1068 443.1 1068.1 444.1 1068.1 445.1 1068.2 446.1 1068.3 447.1 1068.3 448.1 1068.3 449.1 1068.4 450.1 1068.4 451.1 1068.4 452.1 1068.4 453.1 1068.4 454.1 1068.4 455.1 1068.4 456.1 1068.4 457.1 1068.4 458.1 1068.4 459.1 1068.4 460.1 1068.4 461.1 1068.4 462.1 1068.4 463.1 1068.4 464.1 1068.4 465.1 1068.4 466.1 1068.4 467.1 1068.4 468.1 1068.4 469.1 1068.4 470.1 1068.4 471.1 1068.4 472.1 1068.4 473.1 1068.4 474.1 1068.4 475.1 1068.4 476.1 1068.4 477.1 1068.4 478.1 1068.4 479.1 1068.4 480.1 1068.4 481.1 1068.4 482.1 1068.4 483.1 1068.4 484.1 1068.4 485.1 1068.4 486.1 1068.4 487.1 1068.4 488.1 1068.4 489.1 1068.4 490.1 1068.4 491.1 1068.4 492.1 1068.4 493.1 1068.4 494.1 1068.4 495.1 1068.4 496.1 1068.4 497.1 1068.4 498.1 1068.4 499.1 1068.4 500.1 1068.4 501.1 1068.4 502.1 1068.4 503.1 1068.4 504.1 1068.4 505.1 1068.4 506.1 1068.4 507.1 1068.4 508.1 1068.4 509.1 1068.4 510.1 1068.4 511.1 1068.4 512.1 1068.4 513.1 1068.4 514.1 1068.4 515.1 1068.4 516.1 1068.4 517.1 1068.4 518.1 1068.4 519.1 1068.4 520.1 1068.4 521.1 1068.4 522.1 1068.4 523.1 1068.4 524.1 1068.4 525.1 1068.4 526.1 1068.4 527.1 1068.3 528.1 1068.2 529.1 1068.1 530.1 1068 531.1 1067.8 532.1 1067.7 533.1 1067.5 534.1 1067.3 535.1 1067 536.1 1066.7 537.1 1066.4 538.1 1066.1 539.1 1065.8 540.1 1065.5 541.1 1065.2 542.1 1064.8 543.1 1064.4 544.1 1064 545.1 1063.4 546.1 1062.8 547.1 1062.1 548.1 1061.4 549.1 1060.5 550.1 1059.6 551.1 1058.5 552.1 1057.2 553.1 1055.9 554.1 1054.5 555.1 1052.8 556.1 1050.9 557.1 1048.9 558.1 1046.9 559.1 1044.9 560.1 1042.9 561.1 1040.9 562.1 1038.9 563.1 1037 564.1 1035.2 565.1 1033.7 566.1 1032.3 567.1 1030.8 568.1 1029.3 569.1 1027.7 570.1 1026.2 571.1 1024.7 572.1 1023.3 573.1 1021.9 574.1 1020.5 575.1 1019.2 576.1 1017.9 577.1 1016.7 578.1 1015.7 579.1 1014.8 580.1 1014.2 581.1 1013.8 582.1 1013.3 583.1 1013.3 584.1 L1124.5 584.1 1124.5 583.1 1124 582.1 1123.6 581.1 1123 580.1 1122.1 579.1 1121.1 578.1 1119.9 577.1 1118.6 576.1 1117.3 575.1 1115.9 574.1 1114.5 573.1 1113.1 572.1 1111.6 571.1 1110.1 570.1 1108.5 569.1 1107 568.1 1105.5 567.1 1104.1 566.1 1102.6 565.1 1100.8 564.1 1098.9 563.1 1096.9 562.1 1094.9 561.1 1092.9 560.1 1090.9 559.1 1088.9 558.1 1086.9 557.1 1085 556.1 1083.3 555.1 1081.9 554.1 1080.6 553.1 1079.3 552.1 1078.2 551.1 1077.3 550.1 1076.4 549.1 1075.7 548.1 1075 547.1 1074.4 546.1 1073.8 545.1 1073.4 544.1 1073 543.1 1072.6 542.1 1072.3 541.1 1072 540.1 1071.7 539.1 1071.4 538.1 1071.1 537.1 1070.8 536.1 1070.5 535.1 1070.3 534.1 1070.1 533.1 1070 532.1 1069.8 531.1 1069.7 530.1 1069.6 529.1 1069.5 528.1 1069.4 527.1 1069.4 526.1 1069.4 525.1 1069.4 524.1 1069.4 523.1 1069.4 522.1 1069.4 521.1 1069.4 520.1 1069.4 519.1 1069.4 518.1 1069.4 517.1 1069.4 516.1 1069.4 515.1 1069.4 514.1 1069.4 513.1 1069.4 512.1 1069.4 511.1 1069.4 510.1 1069.4 509.1 1069.4 508.1 1069.4 507.1 1069.4 506.1 1069.4 505.1 1069.4 504.1 1069.4 503.1 1069.4 502.1 1069.4 501.1 1069.4 500.1 1069.4 499.1 1069.4 498.1 1069.4 497.1 1069.4 496.1 1069.4 495.1 1069.4 494.1 1069.4 493.1 1069.4 492.1 1069.4 491.1 1069.4 490.1 1069.4 489.1 1069.4 488.1 1069.4 487.1 1069.4 486.1 1069.4 485.1 1069.4 484.1 1069.4 483.1 1069.4 482.1 1069.4 481.1 1069.4 480.1 1069.4 479.1 1069.4 478.1 1069.4 477.1 1069.4 476.1 1069.4 475.1 1069.4 474.1 1069.4 473.1 1069.4 472.1 1069.4 471.1 1069.4 470.1 1069.4 469.1 1069.4 468.1 1069.4 467.1 1069.4 466.1 1069.4 465.1 1069.4 464.1 1069.4 463.1 1069.4 462.1 1069.4 461.1 1069.4 460.1 1069.4 459.1 1069.4 458.1 1069.4 457.1 1069.4 456.1 1069.4 455.1 1069.4 454.1 1069.4 453.1 1069.4 452.1 1069.4 451.1 1069.4 450.1 1069.5 449.1 1069.5 448.1 1069.5 447.1 1069.6 446.1 1069.7 445.1 1069.7 444.1 1069.8 443.1 1069.9 442.1 1070 441.1 1070 440.1 1070.1 439.1 1070.2 438.1 1070.4 437.1 1070.5 436.1 1070.7 435.1 1070.8 434.1 1071 433.1 1071.2 432.1 1071.4 431.1 1071.6 430.1 1071.8 429.1 1072 428.1 1072.1 427.1 1072.4 426.1 1072.6 425.1 1072.8 424.1 1073 423.1 1073.3 422.1 1073.5 421.1 1073.7 420.1 1074 419.1 1074.2 418.1 1074.5 417.1 1074.7 416.1 1075 415.1 1075.2 414.1 1075.5 413.1 1075.8 412.1 1076.1 411.1 1076.4 410.1 1076.6 409.1 1076.9 408.1 1077.2 407.1 1077.5 406.1 1077.8 405.1 1078.1 404.1 1078.4 403.1 1078.8 402.1 1079.1 401.1 1079.4 400.1 1079.7 399.1 1080.1 398.1 1080.4 397.1 1080.7 396.1 1081 395.1 1081.4 394.1 1081.7 393.1 1082 392.1 1082.3 391.1 1082.6 390.1 1082.9 389.1 1083.2 388.1 1083.5 387.1 1083.8 386.1 1084.1 385.1 1084.5 384.1 1084.8 383.1 1085.1 382.1 1085.4 381.1 1085.7 380.1 1086.1 379.1 1086.4 378.1 1086.7 377.1 1087.1 376.1 1087.4 375.1 1087.8 374.1 1088.1 373.1 1088.4 372.1 1088.7 371.1 1089.1 370.1 1089.4 369.1 1089.7 368.1 1090 367.1 1090.3 366.1 1090.6 365.1 1091 364.1 1091.3 363.1 1091.6 362.1 1091.9 361.1 1092.2 360.1 1092.4 359.1 1092.7 358.1 1093 357.1 1093.3 356.1 1093.6 355.1 1093.8 354.1 1094.1 353.1 1094.4 352.1 1094.6 351.1 1094.9 350.1 1095.2 349.1 1095.4 348.1 1095.6 347.1 1095.9 346.1 1096.1 345.1 1096.4 344.1 1096.6 343.1 1096.8 342.1 1097 341.1 1097.3 340.1 1097.5 339.1 1097.7 338.1 1097.9 337.1 1098.1 336.1 1098.3 335.1 1098.5 334.1 1098.7 333.1 1098.9 332.1 1099.1 331.1 1099.3 330.1 1099.5 329.1 1099.6 328.1 1099.7 327.1 1099.8 326.1 1099.9 325.1 1099.9 324.1 1100 323.1 1100 322.1 1100 321.1 1100.1 320.1 1100.1 319.1 1100.1 318.1 1100.1 317.1 1100.1 316.1 1100.1 315.1 1100.1 314.1 1100 313.1 1100 312.1 1099.9 311.1 1099.9 310.1 1099.8 309.1 1099.7 308.1 1099.6 307.1 1099.6 306.1 1099.5 305.1 1099.4 304.1 1099.3 303.1 1099.3 302.1 1099.2 301.1 1099.1 300.1 1099 299.1 1098.9 298.1 1098.7 297.1 1098.6 296.1 1098.5 295.1 1098.4 294.1 1098.2 293.1 1098.1 292.1 1097.9 291.1 1097.7 290.1 1097.6 289.1 1097.4 288.1 1097.1 287.1 1096.9 286.1 1096.7 285.1 1096.5 284.1 1096.3 283.1 1096 282.1 1095.8 281.1 1095.5 280.1 1095.3 279.1 1095 278.1 1094.7 277.1 1094.4 276.1 1094.1 275.1 1093.8 274.1 1093.5 273.1 1093.2 272.1 1092.9 271.1 1092.6 270.1 1092.3 269.1 1091.9 268.1 1091.6 267.1 1091.2 266.1 1090.9 265.1 1090.5 264.1 1090.2 263.1 1089.8 262.1 1089.5 261.1 1089.1 260.1 1088.8 259.1 1088.4 258.1 1088.1 257.1 1087.7 256.1 1087.3 255.1 1087 254.1 1086.6 253.1 1086.2 252.1 1085.9 251.1 1085.5 250.1 1085.2 249.1 1084.8 248.1 1084.5 247.1 1084.2 246.1 1083.8 245.1 1083.5 244.1 1083.2 243.1 1082.9 242.1 1082.6 241.1 1082.3 240.1 1082 239.1 1081.7 238.1 1081.4 237.1 1081.1 236.1 1080.8 235.1 1080.5 234.1 1080.2 233.1 1079.9 232.1 1079.6 231.1 1079.3 230.1 1079 229.1 1078.7 228.1 1078.5 227.1 1078.2 226.1 1077.9 225.1 1077.6 224.1 1077.4 223.1 1077.1 222.1 1076.9 221.1 1076.6 220.1 1076.4 219.1 1076.2 218.1 1075.9 217.1 1075.7 216.1 1075.5 215.1 1075.2 214.1 1075 213.1 1074.8 212.1 1074.5 211.1 1074.3 210.1 1074 209.1 1073.8 208.1 1073.5 207.1 1073.3 206.1 1073 205.1 1072.8 204.1 1072.6 203.1 1072.4 202.1 1072.2 201.1 1072 200.1 1071.8 199.1 1071.7 198.1 1071.5 197.1 1071.3 196.1 1071.2 195.1 1071.1 194.1 1070.9 193.1 1070.8 192.1 1070.7 191.1 1070.5 190.1 1070.4 189.1 1070.3 188.1 1070.2 187.1 1070.1 186.1 1070 185.1 1069.9 184.1 1069.8 183.1 1069.7 182.1 1069.6 181.1 1069.5 180.1 1069.5 179.1 1069.5 178.1 1069.4 177.1 1069.4 176.1 1069.4 175.1 1069.4 174.1 1069.4 173.1 1069.4 172.1 1069.3 171.1 1069.3 170.1 1069.3 169.1 1069.3 168.1 1069.3 167.1 1069.3 166.1 1069.3 165.1 1069.3 164.1 1069.3 163.1 Z" fill="#5EB9D3" stroke="#333333" stroke-width="2.4" stroke-linejoin="round"/>
<path d="M1014.8 584.7 H1123" stroke="#333333" stroke-width="3.4" stroke-linecap="round" fill="none"/>
<path d="M1192.8 235.2 V584.3" stroke="#333333" stroke-width="3.0" fill="none"/>
<path d="M1137 584.5 L1142.8 583.2 L1242.8 583.2 L1248.6 584.5 L1242.8 585.8 L1142.8 585.8 Z" fill="#333333" stroke="#333333" stroke-width="1.6" stroke-linejoin="round"/>
</g>
<g transform="translate(-870.1 837.4)">
<path d="M994.8 141 V605.4 H1268.8" stroke="#000" stroke-width="2.7" fill="none"/>
<path d="M985.4 331.4 H994.8M985.4 584.3 H994.8M1068.9 605.4 V613.7M1192.8 605.4 V613.7" stroke="#000" stroke-width="2.7" fill="none"/>
<text x="972.7" y="344.1" font-size="30.2" text-anchor="end" font-family="'Liberation Sans', 'Liberation Sans', sans-serif">2</text>
<text x="972.7" y="597" font-size="30.2" text-anchor="end" font-family="'Liberation Sans', 'Liberation Sans', sans-serif">0</text>
<text x="1064.6" y="646.2" font-size="36.4" text-anchor="middle" font-family="'DejaVu Sans', 'Liberation Sans', sans-serif">Healthy</text>
<text x="1192.5" y="646.2" font-size="36.4" text-anchor="middle" font-family="'DejaVu Sans', 'Liberation Sans', sans-serif">AS</text>
<text x="1132.3" y="95.3" font-size="33.1" text-anchor="middle" font-family="'DejaVu Sans', 'Liberation Sans', sans-serif" font-style="oblique">ADRA1A</text>
<text x="1132.7" y="149.9" font-size="32.5" text-anchor="middle" font-family="'DejaVu Sans', 'Liberation Sans', sans-serif" font-style="oblique">p &lt; 0.0001</text>
<rect x="1019.4" y="320.1" width="97.2" height="34" fill="#000"/>
<path d="M1057 163h0m-0.5 22.5h0m-7.5 5h0m19 -0.5h0m28 1.5h0m-69.5 0h0m55.5 2.5h0m-54 6.5h0m40 -0.5h0m25 1h0m-46 1h0m-27 1.5h0m27 -0.5h0m21 0h0m24.5 0.5h0m-62.5 1.5h0m51 0h0m13.5 0h0m19 1h0m-57 1h0m1 0.5h0m35 -0.5h0m17 0.5h0m-29 1.5h0m33.5 2.5h0m-28.5 1h0m10.5 -1h0m-75 1.5h0m36.5 0.5h0m-13.5 1h0m36 0.5h0m4.5 0h0m14 0.5h0m-11 1h0m3.5 -0.5h0m8.5 0.5h0m-1.5 0.5h0m-54 1.5h0m11.5 -0.5h0m33.5 0h0m27.5 0h0m-94 1.5h0m21.5 -1h0m57 0.5h0m-57.5 1.5h0m13 0.5h0m16 -0.5h0m-44 1h0m4.5 1h0m9.5 -1h0m17.5 1h0m19.5 0h0m14 0h0m-42.5 0.5h0m11 0.5h0m31 -1h0m14.5 0.5h0m5 0.5h0m-47.5 0.5h0m22.5 -0.5h0m6 0.5h0m1.5 0.5h0m20.5 -0.5h0m-5.5 0.5h0m-63 1h0m38.5 1h0m4 -1h0m2 0.5h0m-63.5 1h0m84.5 0h0m-79.5 1h0m10.5 0.5h0m18.5 -1h0m3 2h0m18 -1h0m4 0.5h0m21.5 0h0m-34 1.5h0m6.5 0h0m35.5 -0.5h0m-91.5 1.5h0m16 -0.5h0m29 0.5h0m10.5 0h0m-60.5 1h0m83.5 -0.5h0m-60 0.5h0m7 1h0m5.5 -0.5h0m20.5 0.5h0m14.5 -1h0m-38.5 2h0m4.5 -0.5h0m-12.5 1.5h0m68.5 -0.5h0m-69.5 1.5h0m36.5 -1h0m19 0.5h0m10 -0.5h0m-80.5 1.5h0m21 -0.5h0m47.5 0h0m9.5 0.5h0m1 0h0m0 0h0m-78 1h0m6 0h0m19 0h0m13.5 0.5h0m48.5 -0.5h0m-78.5 1h0m12 0.5h0m6 0h0m23 -0.5h0m1.5 -0.5h0m9 1h0m5.5 0h0m70.5 -1h0m-128 1.5h0m12 -0.5h0m-21.5 2h0m65.5 0.5h0m16 0h0m1 -0.5h0m-83.5 1h0m5 0h0m39 0h0m7.5 0.5h0m13 0h0m6.5 0h0m-77.5 0.5h0m14.5 0h0m8.5 0h0m14.5 0.5h0m45 0h0m2.5 0h0m9 -0.5h0m2 0.5h0m-94 1h0m7.5 -0.5h0m17 0.5h0m17 0.5h0m11 -0.5h0m3 0.5h0m17.5 -1h0m3 0.5h0m14.5 0h0m-74.5 0.5h0m14 0h0m25.5 0.5h0m6 0.5h0m-59.5 0.5h0m2.5 0h0m4 0h0m21.5 0h0m16.5 0h0m0.5 0.5h0m20.5 0h0m3 -1h0m1.5 1h0m-74.5 1h0m46.5 -0.5h0m12.5 -0.5h0m2.5 0.5h0m5.5 -0.5h0m3 0.5h0m24.5 0.5h0m-63.5 0h0m3.5 0.5h0m9.5 0h0m9.5 0h0m38 0.5h0m-78.5 0.5h0m1 -0.5h0m15 0.5h0m8 0.5h0m15 -0.5h0m16.5 0h0m9.5 0h0m-70.5 1h0m5.5 0h0m7 0h0m37 0.5h0m3 -0.5h0m27 0.5h0m4.5 -0.5h0m2.5 0h0m-85 0.5h0m4 0.5h0m21.5 0h0m3.5 0h0m20 0.5h0m5.5 0h0m4 -0.5h0m9 0.5h0m2 0h0m15 -1h0m-87.5 2h0m9 0h0m8.5 -0.5h0m4.5 0h0m3.5 0h0m7.5 0h0m11 0h0m1 -0.5h0m31 1h0m8 -0.5h0m3.5 0h0m-86.5 0.5h0m13 0.5h0m1 -0.5h0m10 0.5h0m1.5 0h0m2 0.5h0m0 -0.5h0m4 0h0m3.5 0.5h0m1.5 -1h0m19 0h0m10.5 0.5h0m6.5 0.5h0m3 -0.5h0m11.5 -0.5h0m1.5 0.5h0m-94.5 1.5h0m1.5 -0.5h0m3 -0.5h0m3 0.5h0m42 -0.5h0m0 0.5h0m29.5 0h0m-75 1h0m16.5 0h0m3.5 -0.5h0m5.5 0.5h0m10 0h0m13.5 0h0m19 -0.5h0m4 1h0m-72.5 0.5h0m10 0.5h0m30 -1h0m15 0.5h0m12 0h0m20.5 0.5h0m-91.5 0.5h0m12 0.5h0m3.5 -0.5h0m1 -0.5h0m18 0.5h0m6.5 0h0m0.5 0h0m49.5 0.5h0m0.5 -0.5h0m4.5 0h0m-68 1h0m3.5 0h0m13.5 0h0m10 0h0m0.5 0h0m19 0h0m-74.5 1.5h0m8 -1h0m8 0.5h0m5.5 -0.5h0m2 0.5h0m9.5 0.5h0m8.5 0h0m14.5 -0.5h0m2 0.5h0m28.5 -0.5h0m-77 1h0m1 0h0m6.5 0h0m6 0.5h0m9 -1h0m0.5 0h0m5.5 0.5h0m18.5 0h0m3.5 0h0m8 0.5h0m-58.5 0h0m1.5 0.5h0m12.5 0h0m34.5 -0.5h0m1 0h0m3 0h0m2.5 0h0m9 0h0m2.5 0.5h0m0.5 0h0m0.5 0.5h0m0.5 -0.5h0m16.5 0.5h0m-93.5 0.5h0m3.5 0h0m3 0h0m0.5 0h0m2 -0.5h0m22.5 0.5h0m11 0h0m15.5 -0.5h0m4 0.5h0m0.5 -0.5h0m8.5 0.5h0m7.5 0h0m-80 1h0m26.5 0.5h0m7 -0.5h0m22.5 -0.5h0m9 0h0m1.5 0.5h0m6 -0.5h0m11 1h0m8 -0.5h0m-88 1.5h0m0.5 -1h0m14.5 0.5h0m43.5 0h0m7.5 0h0m16 0.5h0m10.5 -0.5h0m-85 0.5h0m6.5 1h0m2.5 -0.5h0m1 -0.5h0m2 0h0m18.5 0h0m0 1h0m1.5 -0.5h0m12.5 0h0m2 0.5h0m9 -0.5h0m10 0h0m-74 1.5h0m9.5 0h0m0 -1h0m7 0h0m0 1h0m0.5 0h0m3.5 -0.5h0m2 -0.5h0m11 0h0m21.5 1h0m7 0h0m0 -0.5h0m3.5 0.5h0m2.5 0h0m7.5 -1h0m0.5 1h0m3.5 -0.5h0m0.5 0.5h0m0.5 -1h0m5.5 0h0m-79 1.5h0m8.5 0h0m13 -0.5h0m7.5 1h0m5.5 -1h0m18 1h0m11.5 0h0m18 0h0m-89 0.5h0m4.5 -0.5h0m13 0.5h0m6.5 0h0m6.5 0h0m4 0.5h0m7 -0.5h0m16.5 0h0m8 0h0m6.5 0h0m9 0.5h0m3.5 0h0m0.5 -1h0m3 0h0m3 0.5h0m-66.5 1h0m34 0.5h0m2.5 0h0m22.5 -0.5h0m-75 1h0m14 0h0m13.5 0h0m0 0h0m15 0h0m9 0h0m8 -0.5h0m3 0.5h0m12.5 0.5h0m-85 1h0m0.5 -0.5h0m5.5 0.5h0m3 -1h0m3.5 0.5h0m6.5 0.5h0m0 -0.5h0m5 0h0m5.5 -0.5h0m0 0h0m6.5 0.5h0m15 -0.5h0m1 0.5h0m4 0.5h0m20.5 -0.5h0m2 0h0m0.5 0h0m6.5 0h0m-87 1h0m20.5 -0.5h0m2 0.5h0m17.5 0.5h0m16 -0.5h0m3.5 0h0m3.5 0h0m13.5 -0.5h0m1 1h0m4 -1h0m4.5 1h0m4.5 0h0m2.5 -1h0m0.5 0.5h0m-84 1.5h0m0 -0.5h0m0.5 -0.5h0m9 0.5h0m16 0h0m2 0.5h0m17.5 -0.5h0m9 -0.5h0m10 1h0m2.5 0h0m1.5 -0.5h0m9 0h0m6.5 0.5h0m-93 0h0m2.5 0.5h0m17 0h0m10 -0.5h0m3.5 0.5h0m3.5 0h0m1 0h0m17 -0.5h0m11.5 0.5h0m3.5 0h0m0 0h0m8.5 0h0m4 -0.5h0m14.5 0.5h0m-79 1h0m1.5 0h0m5.5 0.5h0m2.5 0h0m12.5 -1h0m0 0.5h0m2 0h0m23 0h0m6 0h0m4.5 0.5h0m11.5 -0.5h0m2 0h0m6.5 0.5h0m2 -0.5h0m-96.5 1.5h0m2.5 0h0m10.5 -1h0m2.5 0h0m6 0h0m6 0h0m32 1h0m2 -0.5h0m1 0.5h0m13.5 -0.5h0m0.5 -0.5h0m7.5 0.5h0m3.5 0h0m2 0.5h0m6 -1h0m1 1h0m-96 1h0m19 -0.5h0m4.5 0h0m4 -0.5h0m7.5 0.5h0m2.5 0.5h0m19.5 -1h0m3 1h0m3.5 -0.5h0m5.5 0.5h0m7 -0.5h0m5 0.5h0m3 -0.5h0m-81 1.5h0m4.5 -0.5h0m5 0h0m1.5 0h0m4 0h0m7 0h0m6 0h0m0.5 0h0m0.5 0.5h0m6 -0.5h0m25.5 0h0m23.5 -0.5h0m-87 2h0m1.5 -1h0m17.5 0.5h0m21.5 0h0m23 -0.5h0m12 0.5h0m4 0.5h0m0.5 -0.5h0m7.5 0.5h0m1 -0.5h0m58.5 -0.5h0m-147 1h0m5 0h0m4.5 0.5h0m9.5 0h0m9 -0.5h0m0.5 0.5h0m25 0h0m1.5 0h0m16 0h0m21 0.5h0m3.5 0h0m-96.5 0.5h0m2.5 -0.5h0m20.5 0h0m1.5 1h0m0.5 -1h0m4 0.5h0m1.5 0h0m1 0h0m0.5 0.5h0m1.5 -1h0m1.5 0.5h0m4.5 0h0m1.5 -0.5h0m13.5 0h0m1.5 0.5h0m8 0h0m4.5 -0.5h0m0 0.5h0m3.5 0h0m4 0h0m3 -0.5h0m4.5 0h0m2 0h0m1.5 0.5h0m4.5 0.5h0m1.5 0h0m0.5 0h0m-85 0.5h0m10.5 0.5h0m14.5 0h0m3.5 -0.5h0m19.5 0h0m0.5 0.5h0m0.5 0h0m8 0h0m6 -1h0m4.5 1h0m3.5 -0.5h0m8.5 0.5h0m1 -0.5h0m5.5 -0.5h0m-93.5 1h0m0.5 0.5h0m7.5 0h0m0 0h0m6.5 0h0m0 0h0m3 -0.5h0m3.5 1h0m7.5 -0.5h0m2 0.5h0m0.5 0h0m1.5 -1h0m6.5 1h0m14.5 -0.5h0m11 0.5h0m5.5 -1h0m10.5 0h0m4 0h0m0.5 1h0m7.5 -0.5h0m3 0.5h0m-89 1h0m5 -0.5h0m3.5 -0.5h0m1.5 0.5h0m2.5 0.5h0m4 -0.5h0m0.5 -0.5h0m6 0h0m11 0.5h0m18 0.5h0m1.5 0h0m10.5 -1h0m1.5 1h0m0.5 -0.5h0m3 0h0m6.5 -0.5h0m6.5 0.5h0m5.5 0h0m1.5 -0.5h0m-95.5 1h0m8 0h0m3 0h0m9.5 0h0m0.5 0.5h0m2.5 -0.5h0m7 0h0m6 0.5h0m19 0h0m0.5 0h0m22 0h0m6.5 0.5h0m6.5 -0.5h0m1.5 0h0m-91.5 1h0m4.5 0h0m1 0.5h0m2 -0.5h0m3.5 0.5h0m7.5 -0.5h0m5.5 -0.5h0m8 1h0m0 -0.5h0m1 0.5h0m3 -0.5h0m21 -0.5h0m1.5 0h0m3 0h0m6 1h0m2 -0.5h0m1 0h0m7.5 0.5h0m6.5 -1h0m1 0h0m-82.5 1.5h0m0.5 -0.5h0m10 0.5h0m4 -0.5h0m1 0.5h0m6 0h0m1.5 0h0m0 0h0m7 0.5h0m21.5 -0.5h0m3.5 0h0m3 0h0m1.5 0h0m6.5 -0.5h0m0.5 0.5h0m1.5 0h0m0.5 0h0m7.5 -0.5h0m3.5 0.5h0m-85 1h0m0.5 0h0m7 0h0m2 0h0m0.5 -0.5h0m21.5 0.5h0m0.5 0h0m5.5 -0.5h0m27 0.5h0m14.5 0h0m1.5 0h0m0 0h0m2.5 0h0m0 0.5h0m11 0h0m0.5 -1h0m1 0.5h0m-93 1.5h0m10 -1h0m13 0h0m9.5 1h0m20.5 -0.5h0m10 0h0m9 0.5h0m3.5 -1h0m-75.5 1.5h0m5 0h0m12.5 -0.5h0m3 1h0m5 0h0m8.5 -0.5h0m1.5 0h0m0.5 0h0m22 0.5h0m3.5 -1h0m1.5 1h0m0.5 0h0m6.5 -0.5h0m0 -0.5h0m0.5 1h0m0.5 -1h0m0 0h0m3 0.5h0m5.5 0.5h0m4.5 -0.5h0m1 0h0m5.5 0.5h0m2 -0.5h0m-93 1h0m4 0h0m1 -0.5h0m1 1h0m5 -0.5h0m5.5 0h0m2.5 0h0m1.5 -0.5h0m2.5 0h0m4 0.5h0m11 -0.5h0m0.5 0.5h0m2 -0.5h0m0.5 0h0m17 1h0m3.5 -1h0m1 0.5h0m8.5 0h0m2.5 0h0m2 0h0m1 0.5h0m5 -1h0m5 0h0m2.5 0.5h0m0.5 0.5h0m1 -1h0m2 0.5h0m-89 0.5h0m12.5 0.5h0m0.5 -0.5h0m4.5 1h0m6 -0.5h0m4 0h0m1 -0.5h0m3.5 1h0m24 -1h0m7.5 0.5h0m9 0h0m1 0.5h0m5.5 -1h0m5.5 1h0m0.5 -1h0m3 0h0m-92 2h0m0 -0.5h0m2.5 0.5h0m0.5 0h0m0.5 0h0m0 -0.5h0m1.5 0h0m2.5 0h0m1 0.5h0m6 0h0m12.5 -1h0m1 1h0m5.5 -0.5h0m20.5 0.5h0m0 -0.5h0m6 -0.5h0m6.5 0.5h0m1.5 0h0m0 0h0m0.5 -0.5h0m10 1h0m8 -0.5h0m1.5 0h0m2 -0.5h0m2.5 0.5h0m-90.5 1.5h0m19.5 -0.5h0m0 0.5h0m8.5 -1h0m10 0.5h0m15.5 0.5h0m4 -0.5h0m4 0.5h0m6.5 -0.5h0m1.5 0h0m1.5 -0.5h0m10 0.5h0m1 0.5h0m8 -1h0m0.5 0.5h0m2 0h0m-76 1h0m13.5 -0.5h0m6 0.5h0m2.5 0h0m14 0.5h0m11.5 -0.5h0m3.5 -0.5h0m4.5 0.5h0m15 0h0m2.5 -0.5h0m2.5 1h0m0.5 0h0m0 0h0m1 -1h0m-90 1.5h0m1 0h0m8.5 0h0m2.5 0.5h0m2.5 -1h0m47 1h0m5.5 0h0m3.5 0h0m1 -0.5h0m2 0h0m1.5 0h0m9 -0.5h0m2 0h0m-93 1.5h0m2.5 -0.5h0m0.5 1h0m2.5 -0.5h0m0.5 0.5h0m7 -0.5h0m2 0h0m13 0h0m29 -0.5h0m20 0h0m5.5 0.5h0m9 0h0m0 0.5h0m-87.5 0h0m1.5 0h0m7 0.5h0m2.5 0.5h0m2 0h0m1 0h0m0 0h0m19 -0.5h0m2.5 -0.5h0m2 0.5h0m22 -0.5h0m2.5 0h0m1 0.5h0m6 -0.5h0m8.5 0h0m4 0.5h0m0 0h0m9 -0.5h0m-92.5 1.5h0m5.5 0h0m1.5 0h0m10.5 -0.5h0m5 0.5h0m2.5 0h0m11.5 0.5h0m2 0h0m21.5 -0.5h0m2 0h0m2.5 0h0m1.5 -0.5h0m5.5 0.5h0m11 0.5h0m7 -0.5h0m1 0h0m-88.5 1.5h0m0 -0.5h0m0 -0.5h0m7 0h0m1 0.5h0m3 -0.5h0m14.5 0.5h0m3.5 0h0m4 0.5h0m27 -1h0m1.5 1h0m1 -1h0m4.5 0h0m2 1h0m13 -0.5h0m11.5 0.5h0m-93 0h0m8 0.5h0m13 0.5h0m3.5 0h0m27.5 -0.5h0m6 0h0m2.5 0.5h0m3 0h0m0 -1h0m8 0.5h0m6.5 0.5h0m0 -1h0m10 0.5h0m-91 1.5h0m1 -1h0m1.5 0.5h0m1 0.5h0m11 0h0m4 -0.5h0m1 0.5h0m4 -0.5h0m5.5 0h0m9.5 0.5h0m1 -0.5h0m16 0h0m0.5 0h0m7 0h0m7.5 -0.5h0m5 0h0m0 0.5h0m2.5 0.5h0m2.5 0h0m0.5 0h0m3.5 -1h0m5 1h0m-83 0h0m0.5 0h0m19.5 0h0m1.5 0.5h0m30.5 0.5h0m5.5 0h0m2 -1h0m9.5 0h0m3.5 1h0m3 -0.5h0m2.5 -0.5h0m2.5 0.5h0m3.5 0h0m3.5 0.5h0m1 -0.5h0m1 0h0m-93.5 1h0m7 0h0m0.5 0h0m3 0h0m1 0h0m9.5 0h0m0.5 -0.5h0m6.5 1h0m4 0h0m2.5 -0.5h0m0 0.5h0m0 -0.5h0m20.5 0h0m2.5 0.5h0m5 -0.5h0m14 0h0m10 0h0m7.5 0h0m-73 1h0m2.5 0h0m11.5 -0.5h0m2 1h0m25 0h0m3.5 -1h0m1.5 1h0m9.5 -1h0m0 0.5h0m4.5 0.5h0m6 -0.5h0m2.5 -0.5h0m2 1h0m-92.5 0.5h0m3.5 0h0m2 0h0m5 -0.5h0m5 0h0m0.5 0.5h0m0 0h0m7 -0.5h0m3 0h0m6 0.5h0m4.5 0h0m29 -0.5h0m7 0h0m1 0.5h0m2 -0.5h0m7.5 0.5h0m9.5 0h0m-92 1.5h0m0 0h0m2.5 -0.5h0m2.5 0h0m1.5 0h0m0 -0.5h0m6 0.5h0m1.5 0h0m13.5 0h0m0.5 0h0m8 0.5h0m0.5 -0.5h0m17 0h0m4.5 0h0m9 -0.5h0m2 0.5h0m1 -0.5h0m1 0.5h0m1 0h0m4.5 0h0m4.5 0.5h0m2.5 -1h0m0.5 0h0m3.5 0.5h0m-90 1.5h0m1.5 -0.5h0m8.5 0h0m2 -0.5h0m3 1h0m6 -0.5h0m15 0h0m3 0h0m23 0h0m3.5 -0.5h0m5.5 0h0m11 0.5h0m10 0h0m2 0h0m33 0.5h0m88 0h0m-212.5 0h0m0.5 1h0m4 -1h0m5.5 0h0m8.5 0h0m10 0.5h0m29 -0.5h0m7.5 0.5h0m10 -0.5h0m0.5 0h0m7 0.5h0m6.5 0h0m2 -0.5h0m-94 1h0m1 0.5h0m1 0h0m0.5 -0.5h0m2 0.5h0m1 -0.5h0m2 0.5h0m1 0h0m5.5 0.5h0m1.5 -0.5h0m10.5 0.5h0m1 -0.5h0m34 -0.5h0m4.5 0.5h0m3 0h0m1.5 -0.5h0m8 1h0m0 -0.5h0m2 0h0m2 0.5h0m1.5 -0.5h0m1.5 -0.5h0m109 0.5h0m-192 0.5h0m7 0.5h0m0.5 0h0m4 0h0m3.5 -0.5h0m9.5 0h0m0.5 0.5h0m1.5 0h0m3 -0.5h0m0.5 1h0m2.5 -1h0m31.5 1h0m4 -0.5h0m0.5 0h0m8 0h0m1 0h0m2 0h0m2 0.5h0m1.5 0h0m0.5 -1h0m2.5 1h0m5.5 -0.5h0m0.5 0.5h0m0 -1h0m3 0.5h0m-92.5 1h0m0.5 0h0m0.5 0h0m4 -0.5h0m1.5 0.5h0m0 0.5h0m10 -0.5h0m2 0.5h0m0 -0.5h0m36 0h0m1 -0.5h0m5 0.5h0m8 -0.5h0m2 0.5h0m5.5 0h0m8 -0.5h0m-87.5 1.5h0m9.5 -0.5h0m17 0.5h0m6 -0.5h0m2 1h0m0.5 -1h0m1.5 1h0m1 -0.5h0m0.5 0.5h0m18.5 -0.5h0m8.5 -0.5h0m1.5 0h0m1 1h0m2.5 -0.5h0m7 0.5h0m3 -0.5h0m1.5 -0.5h0m1.5 0.5h0m2.5 0h0m0 -0.5h0m1 0h0m5 0.5h0m2 0h0m-89 1.5h0m11 -0.5h0m1 0.5h0m5.5 -1h0m6.5 0h0m2.5 1h0m1.5 -1h0m5.5 1h0m25.5 -0.5h0m4.5 -0.5h0m0.5 1h0m11.5 -0.5h0m3 -0.5h0m9 0.5h0m0.5 0.5h0m3.5 0h0m0.5 -0.5h0m-96.5 1h0m2 -0.5h0m0.5 0h0m11 0h0m1 0.5h0m9 -0.5h0m1.5 0.5h0m1.5 -0.5h0m0 0.5h0m5.5 -0.5h0m3 0h0m27.5 0.5h0m1.5 0.5h0m1.5 -0.5h0m1.5 -0.5h0m3.5 0.5h0m2 0h0m4 0.5h0m0.5 -0.5h0m4 0.5h0m11.5 0h0m1 0h0m0.5 -1h0m0.5 0h0m-95.5 1.5h0m4.5 -0.5h0m3.5 0h0m3 0.5h0m0.5 0.5h0m0 0h0m2 -0.5h0m2.5 0h0m2 0h0m2.5 0h0m3.5 0.5h0m2 -0.5h0m4.5 0h0m0.5 -0.5h0m6.5 1h0m2 -0.5h0m19.5 0h0m1 0h0m4.5 0h0m6 0h0m1.5 0h0m3 -0.5h0m3 0h0m5.5 0.5h0m2.5 0h0m0 0h0m4.5 -0.5h0m2 0.5h0m-91 0.5h0m7.5 0.5h0m1 0h0m0 0.5h0m4 -1h0m4.5 1h0m1 -1h0m6 0.5h0m41.5 0.5h0m0 0h0m2 0h0m7.5 -0.5h0m3 0h0m7 -0.5h0m1 0.5h0m1 -0.5h0m0.5 0.5h0m130 0h0m-214 1h0m0.5 0h0m3 -0.5h0m4.5 0h0m0 0.5h0m15.5 -0.5h0m1 0h0m0.5 0h0m6 0h0m2 1h0m20.5 -0.5h0m3 -0.5h0m3 0.5h0m12 -0.5h0m2 0.5h0m12 0h0m5 0.5h0m-95 1h0m2 -0.5h0m8 0.5h0m1 -1h0m0.5 1h0m0.5 -0.5h0m1 -0.5h0m0.5 1h0m1.5 -0.5h0m3 0h0m0.5 0.5h0m3 -1h0m0 0.5h0m6.5 0.5h0m5 0h0m25 -1h0m0.5 1h0m2 -0.5h0m0.5 0h0m6.5 -0.5h0m1 1h0m3.5 -1h0m10.5 0.5h0m0.5 0h0m3 0h0m0.5 0h0m1 0h0m3.5 0.5h0m1 0h0m2.5 -0.5h0m2 -0.5h0m-96.5 2h0m1 -1h0m3.5 1h0m1.5 -1h0m0 0h0m4 0.5h0m1.5 -0.5h0m10 1h0m4.5 -0.5h0m1 0h0m2 -0.5h0m1.5 0.5h0m2 0h0m0.5 -0.5h0m0.5 0.5h0m0.5 0h0m2.5 -0.5h0m21.5 0.5h0m3.5 0h0m1.5 -0.5h0m2 1h0m1 -1h0m1 1h0m2.5 -0.5h0m0 0h0m6.5 0h0m1 -0.5h0m11 1h0m0.5 -0.5h0m1 0h0m1.5 0.5h0m-91 0h0m0.5 0.5h0m3 0h0m2 0.5h0m0.5 -0.5h0m0.5 0.5h0m2 -0.5h0m5 -0.5h0m2.5 0.5h0m1 0h0m1 -0.5h0m2.5 0.5h0m2.5 0h0m3 -0.5h0m8 0h0m0.5 0h0m1 0.5h0m0.5 0h0m25 0h0m4.5 -0.5h0m0.5 0h0m1.5 0.5h0m1.5 0h0m2.5 0h0m0 0h0m3 0h0m2 -0.5h0m0.5 0.5h0m2.5 0h0m0.5 0h0m0.5 0h0m0.5 -0.5h0m1 0.5h0m7 0h0m0.5 0h0m2 0h0m68.5 0h0m-63 1.5h0m62.5 -0.5h0m-159.5 0.5h0m95.5 0h0m110.5 0.5h0m-205.5 1.5h0m-1 0.5h0m0.5 0h0m1 0.5h0m135.5 0h0m-137 0.5h0m1 0h0m-1.5 0.5h0m1 1h0m0 -0.5h0m1 0.5h0m188.5 -0.5h0m-94 0.5h0m-1 1h0m-93 2h0m94.5 -0.5h0m108 0h0m-108 1h0m0.5 1h0m68 0h0m-164.5 1h0m95 0.5h0m1.5 0h0m-95.5 0.5h0m96 -0.5h0m87.5 0.5h0m-185.5 1.5h0m1 -1h0m162.5 1h0m-161.5 0.5h0m0 0h0m96 0.5h0m-97.5 0.5h0m0 1.5h0m0.5 0h0m0.5 0.5h0m0.5 0h0m0 0h0m94 0h0m-94 0.5h0m0 0h0m94 0.5h0m2 0.5h0m110.5 0h0m-207.5 0h0m1 1.5h0m95.5 0.5h0m0 -0.5h0m-97 1h0m0.5 0.5h0m96 -0.5h0m0.5 0h0m60 -0.5h0m24 0.5h0m15 0h0m11.5 0h0m-208 1.5h0m96.5 0h0m-94 1h0m93.5 -1h0m0 1h0m1 -1h0m1 0.5h0m-0.5 0.5h0m0 1.5h0m56 0h0m18 -0.5h0m-170.5 1.5h0m0 0h0m97 0h0m-96.5 1.5h0m-1 1h0m8.5 0.5h0m5.5 0h0m5 0h0m3.5 0h0m8.5 0.5h0m2.5 0h0m24 -0.5h0m2.5 0h0m6 0h0m1 0h0m2 0h0m11 0h0m14.5 0.5h0m1.5 -0.5h0m32.5 -0.5h0m87 0.5h0m-214.5 1h0m8.5 0h0m0.5 0.5h0m1 -0.5h0m0 0h0m1 0h0m0.5 -0.5h0m3 1h0m1 -0.5h0m2 0h0m0.5 -0.5h0m2.5 0.5h0m6 0h0m3 0h0m8 -0.5h0m19 1h0m2.5 -0.5h0m1 -0.5h0m0.5 0.5h0m2 0h0m5.5 0h0m1 0h0m8.5 0h0m3 -0.5h0m2.5 0h0m3 0.5h0m1.5 0.5h0m2 -0.5h0m1 0h0m1.5 -0.5h0m2.5 0h0m0 0.5h0m69 0.5h0m48.5 -0.5h0m-212 0.5h0m3.5 1h0m0 -0.5h0m3 0.5h0m2 -1h0m4 1h0m1 -0.5h0m3.5 0h0m3 0h0m4.5 -0.5h0m6 0h0m1.5 0.5h0m3 -0.5h0m2 0h0m1.5 0h0m0 0h0m18 1h0m0.5 -0.5h0m5.5 -0.5h0m5 0h0m1.5 0.5h0m2 0.5h0m1 -1h0m5 1h0m2 -1h0m0 0.5h0m6.5 0h0m2 0.5h0m2.5 -0.5h0m0 0h0m3 0h0m0.5 0.5h0m2 -0.5h0m39 0h0m-135 1.5h0m5 -1h0m4.5 0.5h0m3.5 0.5h0m0.5 -1h0m8.5 0h0m5.5 0.5h0m0.5 -0.5h0m3 1h0m1 0h0m5 0h0m1.5 -0.5h0m18 0h0m1 -0.5h0m6.5 0h0m7.5 0.5h0m0 -0.5h0m4 0.5h0m3 -0.5h0m5 0.5h0m-84 1h0m2 0h0m32 -0.5h0m1 0.5h0m1.5 -0.5h0m2 1h0m1 -0.5h0m21.5 0h0m4.5 0h0m2 0h0m3 0.5h0m0.5 -0.5h0m3.5 0.5h0m2.5 -0.5h0m3.5 0h0m1.5 -0.5h0m3.5 1h0m6 -1h0m0.5 1h0m1 -1h0m84.5 0h0m-170 1h0m9 0.5h0m1 0h0m1 0h0m1 0h0m2 0.5h0m7 -0.5h0m1 0.5h0m2 0h0m6.5 -1h0m0.5 0.5h0m1.5 0h0m16.5 0h0m3 0h0m16 -0.5h0m0 0h0m1.5 0.5h0m9 -0.5h0m0 0.5h0m4 0.5h0m3.5 -0.5h0m2 0.5h0m88 0h0m35.5 0h0m-207.5 0.5h0m8.5 0.5h0m20 -0.5h0m0.5 0h0m18 0h0m1 0h0m3 -0.5h0m1.5 0.5h0m7.5 0h0m4 0h0m1 0h0m1 0h0m1 0h0m1.5 0.5h0m10 -0.5h0m126.5 0h0m-215 1.5h0m1.5 -0.5h0m7.5 0.5h0m3.5 -1h0m8.5 1h0m2.5 -0.5h0m2 -0.5h0m2 0h0m1.5 0.5h0m1.5 -0.5h0m3 1h0m1.5 0h0m4 -0.5h0m23.5 0h0m1.5 -0.5h0m1.5 0.5h0m1 0.5h0m3 -1h0m2 1h0m2.5 -1h0m7.5 0.5h0m3 0.5h0m1.5 -0.5h0m1 0.5h0m5.5 -1h0m-93 1.5h0m7.5 0h0m7 0.5h0m19 -0.5h0m0.5 0.5h0m22 -0.5h0m2.5 0h0m16.5 0.5h0m1 -0.5h0m10.5 0h0m1 -0.5h0m2.5 0.5h0m0.5 0h0m1.5 0h0m2.5 -0.5h0m30 0h0m94.5 0.5h0m-218.5 1.5h0m1 -0.5h0m3.5 -0.5h0m5.5 0.5h0m0.5 0h0m0.5 0h0m1.5 0h0m23.5 -0.5h0m1 0h0m19.5 0.5h0m0 0h0m2.5 -0.5h0m5 0h0m3 1h0m4 -1h0m4 0.5h0m2.5 0.5h0m1 -1h0m11 1h0m2 0h0m-91.5 0.5h0m1.5 -0.5h0m2.5 0h0m1 0.5h0m1.5 0h0m7.5 0.5h0m4 -0.5h0m4 0h0m11 0h0m4.5 -0.5h0m22.5 0.5h0m1.5 0h0m2 0.5h0m10.5 -0.5h0m1.5 0h0m1.5 -0.5h0m3 0.5h0m6 0.5h0m2 0h0m4 0h0m83.5 -0.5h0m-165 1h0m9 0.5h0m7 0h0m4 -1h0m0.5 0.5h0m1.5 0h0m3.5 0.5h0m2.5 -0.5h0m25.5 -0.5h0m1.5 0.5h0m10 -0.5h0m0 0.5h0m0 -0.5h0m3 0.5h0m13.5 0.5h0m2.5 -1h0m0 0.5h0m114 0h0m-202.5 1h0m8.5 0h0m1.5 0h0m5 -0.5h0m0.5 0.5h0m5.5 -0.5h0m3.5 1h0m6 -0.5h0m1 0h0m2.5 0.5h0m14.5 0h0m3 -1h0m0.5 1h0m8.5 0h0m1 -1h0m1 0.5h0m6 -0.5h0m14.5 0.5h0m52 0.5h0m28.5 -0.5h0m8 0h0m-178.5 1h0m5.5 -0.5h0m3 1h0m7.5 0h0m8.5 -1h0m7 1h0m10 -0.5h0m14 -0.5h0m3 0.5h0m2.5 0.5h0m1.5 -1h0m1 0.5h0m1 -0.5h0m8 0.5h0m3.5 0h0m11 0h0m-60 1.5h0m12 -0.5h0m1.5 -0.5h0m0 0.5h0m15 0h0m15 -0.5h0m0.5 0h0m8.5 1h0m6.5 -0.5h0m5 0h0m0.5 0h0m42 0h0m-134 1h0m7 0h0m6.5 0.5h0m0 -1h0m5 0h0m2.5 0.5h0m0 0.5h0m0.5 -0.5h0m3.5 0.5h0m7 -1h0m0.5 0h0m3.5 0.5h0m0.5 -0.5h0m24.5 0.5h0m2.5 0.5h0m0.5 0h0m2 -1h0m0.5 0h0m4 0.5h0m1.5 0h0m0.5 0h0m1.5 0.5h0m0.5 0h0m3 -0.5h0m19 0.5h0m51.5 0h0m-148 0.5h0m0.5 0h0m4.5 0h0m2.5 0h0m9.5 0.5h0m2 -0.5h0m1.5 0h0m2.5 0.5h0m8.5 -0.5h0m4 -0.5h0m0 0h0m19.5 0.5h0m2 0.5h0m3.5 -0.5h0m1 0h0m2 0.5h0m2.5 -0.5h0m8 -0.5h0m2.5 0h0m2.5 0.5h0m4.5 0h0m1.5 -0.5h0m2.5 0.5h0m0.5 0h0m-83.5 1h0m10.5 0h0m14.5 0h0m2.5 0h0m1.5 0.5h0m26 0h0m1 -0.5h0m0.5 0.5h0m6.5 -0.5h0m-63 1h0m6 0h0m2.5 0h0m0.5 0h0m0.5 0h0m1.5 -0.5h0m15.5 0.5h0m1 -0.5h0m1.5 0h0m3 0h0m37.5 0.5h0m0 -0.5h0m6 1h0m5 -0.5h0m5.5 -0.5h0m2 0.5h0m3.5 -0.5h0m-93.5 1h0m3 0.5h0m5 0.5h0m0.5 -1h0m2.5 1h0m3 -0.5h0m2.5 0h0m7 0h0m6.5 0h0m2 0h0m5.5 0.5h0m1 -0.5h0m16.5 0.5h0m0 -0.5h0m4 0h0m4 0h0m3.5 0h0m2.5 0h0m3 0.5h0m5 -0.5h0m1.5 0h0m2 -0.5h0m0.5 0.5h0m4 -0.5h0m74 0.5h0m47 0h0m-207 1.5h0m3 -1h0m13 0h0m1.5 1h0m3 -0.5h0m2 0h0m4 0h0m7.5 0h0m23 0h0m14.5 -0.5h0m2 0h0m11.5 0.5h0m1 -0.5h0m1.5 0.5h0m3.5 -0.5h0m123 0.5h0m-209.5 1.5h0m3 -0.5h0m3 0h0m8 -0.5h0m1.5 0.5h0m2.5 0h0m5 0.5h0m0 0h0m1.5 -0.5h0m1.5 0.5h0m34.5 -0.5h0m9 0.5h0m8 -0.5h0m6 0h0m4 0.5h0m2 0h0m2 -0.5h0m111.5 0h0m-208 0.5h0m3 0h0m6 0h0m4 0.5h0m2.5 0h0m3.5 -0.5h0m2.5 0.5h0m4 -0.5h0m4 0.5h0m0.5 -0.5h0m2 1h0m0 -0.5h0m0.5 0.5h0m0 -0.5h0m4.5 0h0m2 0h0m23.5 -0.5h0m10 0.5h0m2.5 -0.5h0m0.5 0.5h0m0.5 0h0m4 0.5h0m1 -0.5h0m2.5 0.5h0m4 -0.5h0m5.5 0.5h0m84.5 0h0m-169 0.5h0m3.5 0h0m0.5 0.5h0m0.5 0h0m4 -0.5h0m5 -0.5h0m0 0.5h0m0.5 0h0m13 0h0m4 -0.5h0m0 0h0m13 1h0m2.5 -0.5h0m1 0h0m2.5 0.5h0m4 0h0m1.5 -1h0m25 1h0m3.5 -0.5h0m37 0h0m-126.5 1.5h0m2.5 -1h0m6.5 0.5h0m1.5 -0.5h0m3 0h0m0.5 0.5h0m1.5 0.5h0m3.5 -0.5h0m1.5 0h0m0.5 -0.5h0m2.5 0.5h0m1.5 0h0m4 -0.5h0m4.5 0.5h0m4 0h0m0.5 0.5h0m12.5 -0.5h0m2 0h0m3 0.5h0m6.5 -1h0m7 0.5h0m1.5 -0.5h0m3 0.5h0m0.5 0h0m0.5 -0.5h0m9.5 1h0m8.5 -0.5h0m35.5 0h0m-130.5 1h0m0 0.5h0m2.5 -1h0m0.5 0.5h0m1.5 0h0m0 0h0m1 0h0m9 -0.5h0m7.5 0.5h0m10 -0.5h0m10 0h0m0 0.5h0m11.5 0h0m15 0h0m1 0h0m0.5 0.5h0m1.5 -0.5h0m2.5 0.5h0m2 0h0m1.5 -0.5h0m0.5 0h0m61 0h0m20 -0.5h0m-155.5 2h0m0 0h0m7 -1h0m1.5 1h0m1.5 -0.5h0m7 -0.5h0m5 1h0m2 0h0m9.5 -1h0m17 1h0m7.5 -1h0m7.5 0.5h0m3 0h0m3.5 0h0m3.5 0.5h0m5 -0.5h0m4.5 0.5h0m96 -0.5h0m-182.5 1h0m3.5 0h0m1.5 -0.5h0m5.5 1h0m11 -0.5h0m7.5 0.5h0m0.5 0h0m10.5 -0.5h0m0 0h0m12 0h0m5 0h0m3.5 0h0m0.5 -0.5h0m4 0h0m1 0h0m5.5 0.5h0m11.5 0h0m6 0h0m2 -0.5h0m0 0h0m-80.5 1.5h0m10 -0.5h0m1 0.5h0m1.5 -0.5h0m33.5 0.5h0m2.5 0.5h0m14.5 -0.5h0m0.5 0h0m7.5 -0.5h0m1.5 0h0m2 0.5h0m5.5 0.5h0m-93 0.5h0m3 0.5h0m2 -0.5h0m6.5 -0.5h0m2.5 0.5h0m1 0h0m13 0.5h0m1 0h0m3.5 -0.5h0m0.5 -0.5h0m23.5 1h0m6 -0.5h0m7.5 0h0m10.5 -0.5h0m1.5 0.5h0m1 0.5h0m8 -0.5h0m0.5 0.5h0m-90 0.5h0m8.5 0h0m12 -0.5h0m11.5 0h0m4.5 0h0m14.5 0.5h0m4.5 -0.5h0m4 0h0m3.5 0.5h0m10 0h0m10.5 -0.5h0m0 0.5h0m2 0h0m3.5 0h0m0.5 0h0m58.5 0h0m-141.5 0.5h0m18 0h0m1.5 0.5h0m2 -0.5h0m1.5 0.5h0m4 0h0m0.5 0.5h0m5.5 0h0m17.5 -0.5h0m0.5 0.5h0m13.5 -0.5h0m8 0.5h0m5.5 -0.5h0m73 0h0m-159.5 1h0m7 -0.5h0m1.5 0.5h0m10.5 -0.5h0m3.5 0.5h0m2 0h0m1 0.5h0m2 -0.5h0m0 0.5h0m13 -0.5h0m0.5 0h0m16 0h0m2 0h0m0 0h0m11.5 0h0m2.5 0h0m1 0h0m0.5 -0.5h0m1.5 0.5h0m12 0.5h0m-88 0h0m9.5 0.5h0m11 -0.5h0m1.5 0.5h0m2 0.5h0m8.5 -1h0m4.5 0.5h0m5.5 0h0m1.5 0h0m20 -0.5h0m4.5 0.5h0m2.5 0.5h0m12 -0.5h0m3 0h0m2 -0.5h0m8.5 0.5h0m89.5 0h0m15.5 -0.5h0m-199 1.5h0m4.5 0.5h0m20.5 -1h0m6 1h0m1 0h0m1.5 0h0m2 0h0m4.5 -1h0m10.5 0.5h0m2.5 -0.5h0m4 0h0m1.5 1h0m6 -1h0m13 0.5h0m6.5 0.5h0m5.5 -0.5h0m107 -0.5h0m16.5 0h0m-203.5 1.5h0m18 0h0m6 -0.5h0m2 0h0m0.5 1h0m3 0h0m10 -0.5h0m1 0h0m0.5 -0.5h0m7 0.5h0m6.5 0.5h0m0 0h0m0 -1h0m16.5 0.5h0m4 0h0m5 0h0m34.5 0h0m22 -0.5h0m14 0h0m45.5 0h0m-204.5 2h0m9.5 -1h0m6.5 0.5h0m0.5 0h0m2 0h0m12 0h0m10 0.5h0m20.5 -0.5h0m4.5 0h0m7.5 -0.5h0m1 0.5h0m10 0.5h0m6.5 -0.5h0m-88 0.5h0m1 1h0m2 -0.5h0m11.5 0.5h0m3 -1h0m6.5 0.5h0m4.5 0h0m1.5 0.5h0m0.5 -0.5h0m29 -0.5h0m7.5 1h0m1 -0.5h0m1 0h0m11 0.5h0m0 -0.5h0m0 0h0m4 -0.5h0m6 1h0m35 -0.5h0m36.5 -0.5h0m-167.5 1.5h0m7.5 0h0m0.5 0.5h0m0 -0.5h0m2 0h0m2.5 0h0m7 0h0m3 0h0m9 -0.5h0m11.5 0.5h0m1 0.5h0m22 0h0m1.5 -0.5h0m3.5 0.5h0m3 -1h0m2 1h0m86.5 -0.5h0m-163.5 1h0m10.5 0h0m0 0.5h0m8 -0.5h0m6 0h0m1.5 0.5h0m3 -0.5h0m5 -0.5h0m5 1h0m1 -0.5h0m0.5 0h0m0 0h0m22 0h0m1.5 0h0m2.5 0.5h0m4.5 0h0m16 -0.5h0m0.5 0h0m2 0h0m5.5 0.5h0m55 -1h0m1.5 0.5h0m25 0.5h0m31.5 0h0m-208 1h0m1.5 -0.5h0m0 0.5h0m9.5 0h0m21 -1h0m1 0.5h0m1.5 0h0m7.5 0.5h0m3 0h0m14.5 0h0m5 0h0m16.5 -1h0m8.5 0.5h0m0 0h0m96.5 0.5h0m12 -0.5h0m-197.5 1h0m5 0h0m1 0.5h0m8 -1h0m18.5 0h0m19.5 1h0m5 -0.5h0m9.5 0h0m17.5 0h0m2.5 0h0m2 -0.5h0m5.5 0.5h0m-93.5 1h0m2 -0.5h0m1 0.5h0m2.5 0h0m0.5 -0.5h0m7 0.5h0m3.5 0h0m4 0h0m12.5 -0.5h0m20 1h0m11.5 0h0m5.5 0h0m1 0h0m22 -0.5h0m51.5 0h0m-142.5 1.5h0m1.5 0h0m5.5 -1h0m3.5 0.5h0m8 0.5h0m5.5 -0.5h0m9 -0.5h0m17 0h0m0 0h0m4 0h0m2 1h0m2 -0.5h0m6 0.5h0m2 -0.5h0m6 0h0m0.5 0h0m4.5 0h0m1.5 0h0m11.5 -0.5h0m98 0.5h0m-189.5 1.5h0m24.5 -1h0m2 0h0m13 0.5h0m4.5 -0.5h0m12.5 0h0m8 0.5h0m14.5 -0.5h0m1.5 0h0m2 0.5h0m2 0h0m6 -0.5h0m65.5 0h0m59 0.5h0m-197.5 0.5h0m9.5 1h0m14 0h0m3.5 0h0m5 -1h0m17.5 0.5h0m6 0h0m7 0h0m5.5 0.5h0m0.5 -1h0m0.5 1h0m1 -1h0m6.5 0h0m-88.5 2h0m2 -0.5h0m1.5 0h0m0 0.5h0m4.5 0h0m20 0h0m8 -1h0m9 1h0m7 -0.5h0m7.5 -0.5h0m0.5 1h0m6.5 -1h0m8 0.5h0m10 0.5h0m4 0h0m-81 0.5h0m6 -0.5h0m0.5 0.5h0m10 0h0m10.5 0h0m27 0.5h0m15 -0.5h0m3.5 0h0m1.5 0h0m110 -0.5h0m-195 1h0m7.5 0.5h0m33 0.5h0m1 -0.5h0m16.5 0.5h0m16 -1h0m11 0.5h0m80 0h0m20 -0.5h0m-178.5 1h0m3.5 0.5h0m2.5 -0.5h0m2.5 0h0m4.5 0.5h0m5.5 -0.5h0m3.5 0.5h0m0 0.5h0m2.5 -0.5h0m0.5 -0.5h0m3.5 0h0m4.5 0.5h0m2 0h0m6.5 -0.5h0m5 0.5h0m1.5 0.5h0m1 -1h0m0.5 0h0m0.5 0.5h0m1.5 -0.5h0m4 0.5h0m8 0h0m112 0h0m20 0h0m-205.5 1.5h0m5 -0.5h0m6 0h0m15.5 -0.5h0m0 0.5h0m5.5 -0.5h0m6.5 1h0m7.5 0h0m10 -0.5h0m8 0h0m0.5 0h0m7 0h0m0 0h0m2.5 0h0m6 0.5h0m86.5 0h0m-164.5 0.5h0m7.5 0.5h0m33.5 -0.5h0m12.5 -0.5h0m3 1h0m18 -0.5h0m13 0.5h0m2.5 -0.5h0m5 0h0m0.5 0.5h0m47.5 0h0m-135.5 0.5h0m3 0h0m8 0h0m10 0h0m6.5 0h0m10.5 0h0m7.5 0h0m2.5 0.5h0m2 -1h0m7.5 0.5h0m10 -0.5h0m5 0.5h0m12.5 0h0m-85.5 0.5h0m16 1h0m1 -1h0m11 0h0m2 0.5h0m2 0.5h0m18.5 -0.5h0m0.5 0.5h0m9.5 -0.5h0m24 0.5h0m1 -0.5h0m43.5 0h0m41.5 -0.5h0m8 1h0m-187 0.5h0m11 0.5h0m13.5 0h0m5 -1h0m3 1h0m23 -1h0m19 1h0m3 -0.5h0m11 0.5h0m40 0h0m36.5 -1h0m29 0.5h0m-163 1h0m3 0h0m11.5 0.5h0m11 0h0m103.5 -0.5h0m-156 1h0m4 0.5h0m6.5 -1h0m35.5 0h0m21 0.5h0m2.5 -0.5h0m13.5 0h0m2.5 0.5h0m-89 1h0m0.5 0.5h0m0.5 0h0m7.5 -0.5h0m2.5 0h0m9.5 -0.5h0m12.5 0.5h0m16 -0.5h0m14 1h0m15 0h0m9.5 -0.5h0m2.5 -0.5h0m0.5 0.5h0m73.5 0h0m51 -0.5h0m-201.5 1h0m14.5 0.5h0m10 -0.5h0m2 1h0m14 -0.5h0m9 -0.5h0m11.5 1h0m1 -1h0m1 0.5h0m3.5 0h0m4.5 0.5h0m9 -0.5h0m70.5 -0.5h0m-162 1.5h0m15.5 0.5h0m17.5 -1h0m6 0.5h0m6 0h0m8 -0.5h0m4 1h0m1.5 -1h0m11.5 0h0m1 0.5h0m1.5 0.5h0m2.5 -1h0m7 0.5h0m0.5 0h0m1 0h0m8 0.5h0m-93 0.5h0m8.5 0h0m68 -0.5h0m9.5 0.5h0m6 0h0m3 0h0m-57 1h0m15 0h0m8.5 0h0m3 0h0m6.5 0h0m1.5 -0.5h0m8 0h0m2.5 0.5h0m-42.5 1.5h0m2.5 -0.5h0m21 0h0m8 -0.5h0m2.5 0h0m5 1h0m15 -0.5h0m52 0.5h0m18 -0.5h0m-135.5 1.5h0m1 -1h0m12 1h0m13.5 -1h0m13.5 1h0m9.5 -0.5h0m0.5 -0.5h0m1 1h0m76.5 -0.5h0m16.5 -0.5h0m34.5 0h0m-179.5 2h0m0.5 -0.5h0m11.5 0h0m16.5 0.5h0m16 -1h0m11.5 0.5h0m-44 0.5h0m36.5 0.5h0m2.5 -0.5h0m3 0.5h0m14 0h0m-77.5 1h0m61 -0.5h0m-55 1.5h0m7 0h0m6 0h0m7.5 0h0m15 0h0m13 -0.5h0m15.5 1h0m-48.5 0h0m14 0.5h0m3 0h0m32 0.5h0m2 -0.5h0m-86 1h0m5.5 0.5h0m7.5 -0.5h0m16.5 0h0m39 0h0m16 -0.5h0m-91 1h0m20 0.5h0m61 0h0m11 0h0m45.5 0h0m-118 1h0m2 0.5h0m1.5 0h0m40.5 -0.5h0m18 -0.5h0m7 0.5h0m-38.5 1h0m120 0h0m-140.5 0.5h0m23.5 1h0m0.5 -0.5h0m3 0h0m33.5 -0.5h0m123.5 0h0m-184 1.5h0m24.5 0h0m12.5 0h0m-57 1h0m17.5 0h0m13.5 0.5h0m163 -0.5h0m-184 1h0m9.5 0.5h0m61 -0.5h0m4 0.5h0m43 -0.5h0m7 0h0m21 0.5h0m-136.5 0.5h0m9 -0.5h0m7 0.5h0m4.5 0h0m31 0h0m77.5 -0.5h0m-109.5 1h0m18 1h0m21.5 -0.5h0m1.5 0h0m6 0.5h0m58 -0.5h0m-119 0.5h0m19 0h0m16 0.5h0m121.5 -0.5h0m-159 1.5h0m7 0h0m144.5 0h0m37.5 0h0m-217 0.5h0m24.5 0h0m2 0.5h0m13 0h0m35.5 0h0m-54.5 1h0m15.5 0h0m17.5 0.5h0m37.5 -0.5h0m-89.5 1h0m34 0h0m31.5 0h0m-51.5 1h0m38.5 0.5h0m10 -0.5h0m-67 1h0m3.5 -0.5h0m1.5 0.5h0m11 0h0m55.5 0h0m-45 0.5h0m10 0.5h0m5 0.5h0m-37.5 1.5h0m32 0h0m27 0h0m-21.5 1h0m-34 1h0m4 0h0m58.5 -0.5h0m8 0.5h0m-6 1h0m3 0h0m18 0h0m53.5 -0.5h0m-123.5 1h0m0.5 1h0m29 0h0m-34.5 0h0m48.5 0h0m11 0h0m6.5 0h0m-22.5 1.5h0m-55.5 1h0m23 0h0m9.5 1h0m40.5 -0.5h0m9.5 1h0m-65 1h0m42.5 2h0m-59 1.5h0m20.5 0h0m18 0.5h0m-38.5 1.5h0m-1 2h0m162.5 2h0m22.5 0.5h0m-94.5 1h0m-45 5.5h0m-17.5 5h0m99.5 2.5h0m-55.5 0h0" stroke="#000" stroke-width="4.1" stroke-linecap="round" fill="none"/>
<path d="M1068.5 162.1 1068.5 163.1 1068.5 164.1 1068.5 165.1 1068.5 166.1 1068.5 167.1 1068.5 168.1 1068.5 169.1 1068.5 170.1 1068.5 171.1 1068.5 172.1 1068.5 173.1 1068.5 174.1 1068.5 175.1 1068.5 176.1 1068.5 177.1 1068.5 178.1 1068.5 179.1 1068.5 180.1 1068.5 181.1 1068.5 182.1 1068.5 183.1 1068.5 184.1 1068.5 185.1 1068.5 186.1 1068.5 187.1 1068.5 188.1 1068.5 189.1 1068.5 190.1 1068.5 191.1 1068.5 192.1 1068.5 193.1 1068.5 194.1 1068.5 195.1 1068.5 196.1 1068.5 197.1 1068.5 198.1 1068.5 199.1 1068.5 200.1 1068.5 201.1 1068.5 202.1 1068.5 203.1 1068.5 204.1 1068.5 205.1 1068.5 206.1 1068.5 207.1 1068.5 208.1 1068.5 209.1 1068.5 210.1 1068.5 211.1 1068.5 212.1 1068.4 213.1 1068.4 214.1 1068.4 215.1 1068.4 216.1 1068.3 217.1 1068.3 218.1 1068.3 219.1 1068.2 220.1 1068.2 221.1 1068.1 222.1 1068 223.1 1068 224.1 1067.9 225.1 1067.8 226.1 1067.7 227.1 1067.6 228.1 1067.4 229.1 1067.3 230.1 1067.2 231.1 1067 232.1 1066.9 233.1 1066.8 234.1 1066.6 235.1 1066.5 236.1 1066.4 237.1 1066.3 238.1 1066.2 239.1 1066.1 240.1 1066.1 241.1 1066 242.1 1065.9 243.1 1065.8 244.1 1065.7 245.1 1065.6 246.1 1065.5 247.1 1065.4 248.1 1065.3 249.1 1065.1 250.1 1065 251.1 1064.9 252.1 1064.8 253.1 1064.6 254.1 1064.5 255.1 1064.4 256.1 1064.3 257.1 1064.1 258.1 1064 259.1 1063.9 260.1 1063.8 261.1 1063.7 262.1 1063.6 263.1 1063.5 264.1 1063.4 265.1 1063.3 266.1 1063.1 267.1 1063 268.1 1062.9 269.1 1062.8 270.1 1062.7 271.1 1062.6 272.1 1062.4 273.1 1062.3 274.1 1062.2 275.1 1062.1 276.1 1061.9 277.1 1061.8 278.1 1061.7 279.1 1061.6 280.1 1061.5 281.1 1061.3 282.1 1061.2 283.1 1061.1 284.1 1061 285.1 1060.9 286.1 1060.8 287.1 1060.7 288.1 1060.6 289.1 1060.5 290.1 1060.4 291.1 1060.3 292.1 1060.2 293.1 1060.1 294.1 1060 295.1 1059.9 296.1 1059.7 297.1 1059.6 298.1 1059.5 299.1 1059.4 300.1 1059.2 301.1 1059.1 302.1 1059 303.1 1058.9 304.1 1058.8 305.1 1058.6 306.1 1058.5 307.1 1058.4 308.1 1058.3 309.1 1058.2 310.1 1058.1 311.1 1058 312.1 1057.9 313.1 1057.8 314.1 1057.7 315.1 1057.6 316.1 1057.5 317.1 1057.4 318.1 1057.2 319.1 1057.1 320.1 1056.9 321.1 1056.8 322.1 1056.6 323.1 1056.5 324.1 1056.5 325.1 1056.4 326.1 1056.3 327.1 1056.3 328.1 1056.2 329.1 1056.2 330.1 1056.2 331.1 1056.2 332.1 1056.3 333.1 1056.4 334.1 1056.4 335.1 1056.5 336.1 1056.6 337.1 1056.6 338.1 1056.7 339.1 1056.8 340.1 1056.8 341.1 1056.9 342.1 1057 343.1 1057.1 344.1 1057.2 345.1 1057.3 346.1 1057.3 347.1 1057.4 348.1 1057.5 349.1 1057.6 350.1 1057.8 351.1 1057.9 352.1 1058 353.1 1058.1 354.1 1058.3 355.1 1058.4 356.1 1058.5 357.1 1058.7 358.1 1058.8 359.1 1058.9 360.1 1059.1 361.1 1059.2 362.1 1059.3 363.1 1059.5 364.1 1059.6 365.1 1059.8 366.1 1059.9 367.1 1060.1 368.1 1060.2 369.1 1060.4 370.1 1060.5 371.1 1060.7 372.1 1060.8 373.1 1061 374.1 1061.1 375.1 1061.3 376.1 1061.4 377.1 1061.6 378.1 1061.7 379.1 1061.9 380.1 1062 381.1 1062.2 382.1 1062.3 383.1 1062.5 384.1 1062.6 385.1 1062.7 386.1 1062.9 387.1 1063 388.1 1063.1 389.1 1063.3 390.1 1063.4 391.1 1063.5 392.1 1063.7 393.1 1063.8 394.1 1064 395.1 1064.1 396.1 1064.3 397.1 1064.5 398.1 1064.6 399.1 1064.8 400.1 1065 401.1 1065.1 402.1 1065.3 403.1 1065.4 404.1 1065.6 405.1 1065.7 406.1 1065.8 407.1 1065.9 408.1 1066.1 409.1 1066.2 410.1 1066.3 411.1 1066.4 412.1 1066.5 413.1 1066.6 414.1 1066.7 415.1 1066.8 416.1 1066.9 417.1 1067 418.1 1067.1 419.1 1067.2 420.1 1067.3 421.1 1067.4 422.1 1067.5 423.1 1067.6 424.1 1067.7 425.1 1067.7 426.1 1067.8 427.1 1067.9 428.1 1067.9 429.1 1068 430.1 1068.1 431.1 1068.1 432.1 1068.2 433.1 1068.2 434.1 1068.3 435.1 1068.3 436.1 1068.4 437.1 1068.4 438.1 1068.4 439.1 1068.4 440.1 1068.4 441.1 1068.4 442.1 1068.4 443.1 1068.4 444.1 1068.4 445.1 1068.4 446.1 1068.4 447.1 1068.4 448.1 1068.4 449.1 1068.4 450.1 1068.4 451.1 1068.4 452.1 1068.4 453.1 1068.4 454.1 1068.4 455.1 1068.4 456.1 1068.4 457.1 1068.4 458.1 1068.4 459.1 1068.4 460.1 1068.4 461.1 1068.4 462.1 1068.4 463.1 1068.4 464.1 1068.4 465.1 1068.4 466.1 1068.4 467.1 1068.4 468.1 1068.4 469.1 1068.4 470.1 1068.4 471.1 1068.4 472.1 1068.4 473.1 1068.4 474.1 1068.4 475.1 1068.4 476.1 1068.4 477.1 1068.4 478.1 1068.4 479.1 1068.4 480.1 1068.4 481.1 1068.4 482.1 1068.4 483.1 1068.4 484.1 1068.4 485.1 1068.4 486.1 1068.4 487.1 1068.4 488.1 1068.4 489.1 1068.4 490.1 1068.4 491.1 1068.4 492.1 1068.4 493.1 1068.4 494.1 1068.4 495.1 1068.4 496.1 1068.4 497.1 1068.4 498.1 1068.4 499.1 1068.4 500.1 1068.4 501.1 1068.4 502.1 1068.4 503.1 1068.4 504.1 1068.4 505.1 1068.4 506.1 1068.4 507.1 1068.4 508.1 1068.4 509.1 1068.4 510.1 1068.4 511.1 1068.4 512.1 1068.4 513.1 1068.4 514.1 1068.4 515.1 1068.4 516.1 1068.4 517.1 1068.4 518.1 1068.4 519.1 1068.4 520.1 1068.4 521.1 1068.4 522.1 1068.4 523.1 1068.4 524.1 1068.4 525.1 1068.4 526.1 1068.4 527.1 1068.3 528.1 1068.2 529.1 1068.1 530.1 1068.1 531.1 1067.9 532.1 1067.8 533.1 1067.7 534.1 1067.5 535.1 1067.3 536.1 1067.1 537.1 1066.8 538.1 1066.6 539.1 1066.3 540.1 1066 541.1 1065.7 542.1 1065.4 543.1 1065 544.1 1064.6 545.1 1064.1 546.1 1063.6 547.1 1063 548.1 1062.3 549.1 1061.5 550.1 1060.7 551.1 1059.8 552.1 1058.7 553.1 1057.3 554.1 1055.7 555.1 1054 556.1 1052.3 557.1 1050.5 558.1 1048.9 559.1 1047.1 560.1 1045.3 561.1 1043.5 562.1 1041.7 563.1 1039.8 564.1 1038 565.1 1036.2 566.1 1034.5 567.1 1032.8 568.1 1031.2 569.1 1029.5 570.1 1028 571.1 1026.5 572.1 1025.1 573.1 1023.7 574.1 1022.3 575.1 1020.9 576.1 1019.1 577.1 1017 578.1 1015.3 579.1 1014.3 580.1 1013.8 581.1 1013.5 582.1 1013.4 583.1 1013.4 584.1 L1124.4 584.1 1124.4 583.1 1124.3 582.1 1124 581.1 1123.5 580.1 1122.5 579.1 1120.8 578.1 1118.7 577.1 1116.9 576.1 1115.5 575.1 1114.1 574.1 1112.7 573.1 1111.3 572.1 1109.8 571.1 1108.3 570.1 1106.6 569.1 1105 568.1 1103.3 567.1 1101.6 566.1 1099.8 565.1 1098 564.1 1096.1 563.1 1094.3 562.1 1092.5 561.1 1090.7 560.1 1088.9 559.1 1087.3 558.1 1085.5 557.1 1083.8 556.1 1082.1 555.1 1080.5 554.1 1079.1 553.1 1078 552.1 1077.1 551.1 1076.3 550.1 1075.5 549.1 1074.8 548.1 1074.2 547.1 1073.7 546.1 1073.2 545.1 1072.8 544.1 1072.4 543.1 1072.1 542.1 1071.8 541.1 1071.5 540.1 1071.2 539.1 1071 538.1 1070.7 537.1 1070.5 536.1 1070.3 535.1 1070.1 534.1 1070 533.1 1069.9 532.1 1069.7 531.1 1069.7 530.1 1069.6 529.1 1069.5 528.1 1069.4 527.1 1069.4 526.1 1069.4 525.1 1069.4 524.1 1069.4 523.1 1069.4 522.1 1069.4 521.1 1069.4 520.1 1069.4 519.1 1069.4 518.1 1069.4 517.1 1069.4 516.1 1069.4 515.1 1069.4 514.1 1069.4 513.1 1069.4 512.1 1069.4 511.1 1069.4 510.1 1069.4 509.1 1069.4 508.1 1069.4 507.1 1069.4 506.1 1069.4 505.1 1069.4 504.1 1069.4 503.1 1069.4 502.1 1069.4 501.1 1069.4 500.1 1069.4 499.1 1069.4 498.1 1069.4 497.1 1069.4 496.1 1069.4 495.1 1069.4 494.1 1069.4 493.1 1069.4 492.1 1069.4 491.1 1069.4 490.1 1069.4 489.1 1069.4 488.1 1069.4 487.1 1069.4 486.1 1069.4 485.1 1069.4 484.1 1069.4 483.1 1069.4 482.1 1069.4 481.1 1069.4 480.1 1069.4 479.1 1069.4 478.1 1069.4 477.1 1069.4 476.1 1069.4 475.1 1069.4 474.1 1069.4 473.1 1069.4 472.1 1069.4 471.1 1069.4 470.1 1069.4 469.1 1069.4 468.1 1069.4 467.1 1069.4 466.1 1069.4 465.1 1069.4 464.1 1069.4 463.1 1069.4 462.1 1069.4 461.1 1069.4 460.1 1069.4 459.1 1069.4 458.1 1069.4 457.1 1069.4 456.1 1069.4 455.1 1069.4 454.1 1069.4 453.1 1069.4 452.1 1069.4 451.1 1069.4 450.1 1069.4 449.1 1069.4 448.1 1069.4 447.1 1069.4 446.1 1069.4 445.1 1069.4 444.1 1069.4 443.1 1069.4 442.1 1069.4 441.1 1069.4 440.1 1069.4 439.1 1069.4 438.1 1069.4 437.1 1069.5 436.1 1069.5 435.1 1069.6 434.1 1069.6 433.1 1069.7 432.1 1069.7 431.1 1069.8 430.1 1069.9 429.1 1069.9 428.1 1070 427.1 1070.1 426.1 1070.1 425.1 1070.2 424.1 1070.3 423.1 1070.4 422.1 1070.5 421.1 1070.6 420.1 1070.7 419.1 1070.8 418.1 1070.9 417.1 1071 416.1 1071.1 415.1 1071.2 414.1 1071.3 413.1 1071.4 412.1 1071.5 411.1 1071.6 410.1 1071.7 409.1 1071.9 408.1 1072 407.1 1072.1 406.1 1072.2 405.1 1072.4 404.1 1072.5 403.1 1072.7 402.1 1072.8 401.1 1073 400.1 1073.2 399.1 1073.3 398.1 1073.5 397.1 1073.7 396.1 1073.8 395.1 1074 394.1 1074.1 393.1 1074.3 392.1 1074.4 391.1 1074.5 390.1 1074.7 389.1 1074.8 388.1 1074.9 387.1 1075.1 386.1 1075.2 385.1 1075.3 384.1 1075.5 383.1 1075.6 382.1 1075.8 381.1 1075.9 380.1 1076.1 379.1 1076.2 378.1 1076.4 377.1 1076.5 376.1 1076.7 375.1 1076.8 374.1 1077 373.1 1077.1 372.1 1077.3 371.1 1077.4 370.1 1077.6 369.1 1077.7 368.1 1077.9 367.1 1078 366.1 1078.2 365.1 1078.3 364.1 1078.5 363.1 1078.6 362.1 1078.7 361.1 1078.9 360.1 1079 359.1 1079.1 358.1 1079.3 357.1 1079.4 356.1 1079.5 355.1 1079.7 354.1 1079.8 353.1 1079.9 352.1 1080 351.1 1080.2 350.1 1080.3 349.1 1080.4 348.1 1080.5 347.1 1080.5 346.1 1080.6 345.1 1080.7 344.1 1080.8 343.1 1080.9 342.1 1081 341.1 1081 340.1 1081.1 339.1 1081.2 338.1 1081.2 337.1 1081.3 336.1 1081.4 335.1 1081.4 334.1 1081.5 333.1 1081.6 332.1 1081.6 331.1 1081.6 330.1 1081.6 329.1 1081.5 328.1 1081.5 327.1 1081.4 326.1 1081.3 325.1 1081.3 324.1 1081.2 323.1 1081 322.1 1080.9 321.1 1080.7 320.1 1080.6 319.1 1080.4 318.1 1080.3 317.1 1080.2 316.1 1080.1 315.1 1080 314.1 1079.9 313.1 1079.8 312.1 1079.7 311.1 1079.6 310.1 1079.5 309.1 1079.4 308.1 1079.3 307.1 1079.2 306.1 1079 305.1 1078.9 304.1 1078.8 303.1 1078.7 302.1 1078.6 301.1 1078.4 300.1 1078.3 299.1 1078.2 298.1 1078.1 297.1 1077.9 296.1 1077.8 295.1 1077.7 294.1 1077.6 293.1 1077.5 292.1 1077.4 291.1 1077.3 290.1 1077.2 289.1 1077.1 288.1 1077 287.1 1076.9 286.1 1076.8 285.1 1076.7 284.1 1076.6 283.1 1076.5 282.1 1076.3 281.1 1076.2 280.1 1076.1 279.1 1076 278.1 1075.9 277.1 1075.7 276.1 1075.6 275.1 1075.5 274.1 1075.4 273.1 1075.2 272.1 1075.1 271.1 1075 270.1 1074.9 269.1 1074.8 268.1 1074.7 267.1 1074.5 266.1 1074.4 265.1 1074.3 264.1 1074.2 263.1 1074.1 262.1 1074 261.1 1073.9 260.1 1073.8 259.1 1073.7 258.1 1073.5 257.1 1073.4 256.1 1073.3 255.1 1073.2 254.1 1073 253.1 1072.9 252.1 1072.8 251.1 1072.7 250.1 1072.5 249.1 1072.4 248.1 1072.3 247.1 1072.2 246.1 1072.1 245.1 1072 244.1 1071.9 243.1 1071.8 242.1 1071.7 241.1 1071.7 240.1 1071.6 239.1 1071.5 238.1 1071.4 237.1 1071.3 236.1 1071.2 235.1 1071 234.1 1070.9 233.1 1070.8 232.1 1070.6 231.1 1070.5 230.1 1070.4 229.1 1070.2 228.1 1070.1 227.1 1070 226.1 1069.9 225.1 1069.8 224.1 1069.8 223.1 1069.7 222.1 1069.6 221.1 1069.6 220.1 1069.5 219.1 1069.5 218.1 1069.5 217.1 1069.4 216.1 1069.4 215.1 1069.4 214.1 1069.4 213.1 1069.3 212.1 1069.3 211.1 1069.3 210.1 1069.3 209.1 1069.3 208.1 1069.3 207.1 1069.3 206.1 1069.3 205.1 1069.3 204.1 1069.3 203.1 1069.3 202.1 1069.3 201.1 1069.3 200.1 1069.3 199.1 1069.3 198.1 1069.3 197.1 1069.3 196.1 1069.3 195.1 1069.3 194.1 1069.3 193.1 1069.3 192.1 1069.3 191.1 1069.3 190.1 1069.3 189.1 1069.3 188.1 1069.3 187.1 1069.3 186.1 1069.3 185.1 1069.3 184.1 1069.3 183.1 1069.3 182.1 1069.3 181.1 1069.3 180.1 1069.3 179.1 1069.3 178.1 1069.3 177.1 1069.3 176.1 1069.3 175.1 1069.3 174.1 1069.3 173.1 1069.3 172.1 1069.3 171.1 1069.3 170.1 1069.3 169.1 1069.3 168.1 1069.3 167.1 1069.3 166.1 1069.3 165.1 1069.3 164.1 1069.3 163.1 1069.3 162.1 Z" fill="#5EB9D3" stroke="#333333" stroke-width="2.4" stroke-linejoin="round"/>
<path d="M1014.9 584.7 H1122.9" stroke="#333333" stroke-width="3.4" stroke-linecap="round" fill="none"/>
<path d="M1192.8 238.6 V584.3" stroke="#333333" stroke-width="3.0" fill="none"/>
<path d="M1137 584.5 L1142.8 583.2 L1242.8 583.2 L1248.6 584.5 L1242.8 585.8 L1142.8 585.8 Z" fill="#333333" stroke="#333333" stroke-width="1.6" stroke-linejoin="round"/>
</g>
<g transform="translate(-490.1 837.4)">
<path d="M994.8 141 V605.4 H1268.8" stroke="#000" stroke-width="2.7" fill="none"/>
<path d="M985.4 353.8 H994.8M985.4 584.3 H994.8M1068.9 605.4 V613.7M1192.8 605.4 V613.7" stroke="#000" stroke-width="2.7" fill="none"/>
<text x="974.1" y="366.5" font-size="30.2" text-anchor="end" font-family="'Liberation Sans', 'Liberation Sans', sans-serif">2</text>
<text x="974.1" y="597" font-size="30.2" text-anchor="end" font-family="'Liberation Sans', 'Liberation Sans', sans-serif">0</text>
<text x="1066" y="646.2" font-size="36.4" text-anchor="middle" font-family="'DejaVu Sans', 'Liberation Sans', sans-serif">Healthy</text>
<text x="1193.9" y="646.2" font-size="36.4" text-anchor="middle" font-family="'DejaVu Sans', 'Liberation Sans', sans-serif">AS</text>
<text x="1134.4" y="95.3" font-size="33.1" text-anchor="middle" font-family="'DejaVu Sans', 'Liberation Sans', sans-serif" font-style="oblique">NLGN1</text>
<text x="1135.4" y="149.9" font-size="32.5" text-anchor="middle" font-family="'DejaVu Sans', 'Liberation Sans', sans-serif" font-style="oblique">p &lt; 0.0001</text>
<rect x="1019.2" y="235.1" width="97.2" height="119" fill="#000"/>
<path d="M1025 167.5h0m17 -1h0m25 0.5h0m18 0h0m-44 1.5h0m47 0h0m-54.5 2.5h0m16.5 1h0m51.5 2.5h0m9 0.5h0m-24.5 1h0m0.5 1h0m-29.5 1h0m54 1.5h0m-92 0.5h0m18 0.5h0m21 -0.5h0m30.5 -0.5h0m13.5 0h0m13.5 1.5h0m-71.5 1h0m26.5 0h0m-8 1h0m-43 2.5h0m3 0h0m11 0h0m24.5 -0.5h0m5.5 0h0m2.5 -0.5h0m-42.5 3h0m18 -0.5h0m13 -0.5h0m5 0h0m40 0.5h0m4.5 0h0m-30.5 1h0m4 0h0m-40 1h0m7 0h0m28.5 0h0m11.5 -0.5h0m-41.5 1.5h0m2.5 0.5h0m41 -0.5h0m-67.5 1.5h0m31.5 -0.5h0m58.5 -0.5h0m-84.5 1h0m4.5 0.5h0m28.5 0h0m45 0h0m6.5 0h0m-84.5 1h0m21.5 0h0m8 0h0m1.5 0h0m44 -0.5h0m-44 1.5h0m56.5 0h0m-86.5 1h0m0.5 0h0m80.5 0h0m5.5 0h0m-62 1.5h0m6.5 -1h0m4 0h0m25 0h0m26 0.5h0m-89.5 1.5h0m12.5 0h0m2 0h0m7 -0.5h0m9 0h0m46.5 0h0m6.5 -0.5h0m7.5 0h0m-87.5 1.5h0m15.5 0h0m3.5 0.5h0m11 -0.5h0m35.5 0.5h0m19 -0.5h0m-84.5 1h0m50.5 0.5h0m0 0h0m0.5 -0.5h0m0.5 -0.5h0m9.5 1h0m4.5 0h0m25 -0.5h0m-88.5 1h0m46 0h0m-34 1.5h0m16.5 -0.5h0m27.5 0.5h0m7 0h0m6 -0.5h0m16.5 -0.5h0m-82 1.5h0m4.5 0h0m15 0h0m3 0.5h0m34.5 -0.5h0m11 -0.5h0m0.5 0.5h0m13.5 -0.5h0m-79.5 1.5h0m4 0h0m47 0h0m17.5 -0.5h0m9 0h0m1.5 1h0m-72 0h0m1 0.5h0m11 0.5h0m63 0h0m-96 0.5h0m8 0h0m63 0h0m13.5 -0.5h0m7 0.5h0m-80.5 0.5h0m2.5 0.5h0m7.5 -0.5h0m2 0.5h0m14 0.5h0m2 -0.5h0m0 0h0m27 0h0m8 0h0m-64.5 1h0m4.5 0h0m4.5 -0.5h0m10.5 0h0m4.5 0.5h0m1 0h0m25 0h0m27 0h0m-86 0.5h0m32 0.5h0m30 0.5h0m11.5 0h0m4 0h0m1 -0.5h0m1.5 0.5h0m10 0h0m-90 0.5h0m11 0h0m10.5 0h0m51.5 0.5h0m6 -0.5h0m-78.5 0.5h0m5 1h0m10.5 0h0m8 -1h0m8 0.5h0m38 0h0m-67 1.5h0m0.5 -0.5h0m6 0.5h0m2 -1h0m8.5 0h0m8 0h0m1.5 0.5h0m30 -0.5h0m11.5 0h0m0.5 0.5h0m2.5 0h0m-69.5 0.5h0m2.5 0h0m4.5 0h0m12.5 0h0m0.5 1h0m46 -1h0m2.5 0.5h0m1.5 0.5h0m12 0h0m0.5 -0.5h0m-85.5 1h0m7.5 0.5h0m16.5 -1h0m3.5 0.5h0m3.5 0h0m57.5 0h0m0 -0.5h0m2.5 0.5h0m-91.5 1.5h0m3.5 -0.5h0m15.5 0h0m13 0.5h0m35 -0.5h0m1.5 0.5h0m4 -0.5h0m0.5 0h0m9.5 -0.5h0m-72 2h0m9 -1h0m6.5 0h0m37 0h0m13 0.5h0m3 0h0m13 0.5h0m3 0h0m-97 0h0m0.5 0.5h0m4.5 0h0m12.5 0h0m2 -0.5h0m7.5 1h0m4 0h0m34 0h0m0 0h0m22.5 -1h0m0.5 0.5h0m8 -0.5h0m-82 1.5h0m7 -0.5h0m51 0.5h0m17 0h0m-61 1h0m48.5 0.5h0m0.5 -0.5h0m4 -0.5h0m-79.5 2h0m5 -0.5h0m3 0h0m7.5 -0.5h0m1.5 0.5h0m2 -0.5h0m3 0.5h0m2.5 -0.5h0m0.5 0.5h0m2.5 0h0m47.5 -0.5h0m0.5 1h0m2 -0.5h0m4 0h0m1 0h0m11.5 0h0m1.5 0.5h0m-90 1h0m11 -0.5h0m1 -0.5h0m6 1h0m5 -1h0m38 0.5h0m8.5 0h0m7.5 0h0m9 0h0m1 -0.5h0m-89.5 1h0m11 0h0m3 0.5h0m0.5 0.5h0m1.5 -0.5h0m5 0h0m43 0.5h0m3 -0.5h0m12 0h0m0.5 0.5h0m1 0h0m5 -0.5h0m-84 1h0m5.5 0h0m2 -0.5h0m0 1h0m3 -0.5h0m3.5 -0.5h0m9 0.5h0m45 0.5h0m-64 0.5h0m6.5 0h0m1.5 0h0m2.5 0h0m0 0h0m3.5 0h0m2 0h0m0.5 0h0m46.5 0h0m7.5 0h0m7 -0.5h0m4.5 1h0m5 0h0m-96.5 0.5h0m0 0h0m0.5 0h0m11.5 0h0m13 0.5h0m46 -0.5h0m10 0.5h0m7 0h0m1.5 0h0m3 -0.5h0m-84.5 1h0m2 0.5h0m4 -1h0m6 0.5h0m4.5 0h0m47.5 0h0m5.5 0.5h0m3 -1h0m2.5 0.5h0m0 0h0m-79 1h0m2 0h0m2 0.5h0m7 -1h0m2 0.5h0m56 -0.5h0m0.5 0h0m3.5 0h0m2 0.5h0m1.5 -0.5h0m1 0.5h0m5 -0.5h0m0.5 0.5h0m2.5 0h0m0 0h0m-81 1.5h0m6 -1h0m0 0.5h0m2.5 0h0m55 0.5h0m2.5 -0.5h0m2.5 0.5h0m4 -0.5h0m5.5 -0.5h0m0.5 0.5h0m7.5 -0.5h0m0.5 0.5h0m-94.5 1h0m21 0h0m52 -0.5h0m1.5 0.5h0m5 -0.5h0m-80 1.5h0m10.5 0h0m9 0h0m69.5 0.5h0m5.5 -1h0m-91.5 2h0m4 0h0m9 -0.5h0m0.5 0h0m6 0.5h0m66 -0.5h0m0.5 0.5h0m1.5 -1h0m5 0.5h0m-91 1h0m7.5 0.5h0m3 -0.5h0m64.5 0h0m8 -0.5h0m1.5 1h0m1.5 -0.5h0m1.5 0.5h0m0.5 -0.5h0m0.5 -0.5h0m0.5 0.5h0m3.5 0h0m-94 1.5h0m0.5 0h0m0 -0.5h0m1.5 0h0m3 0h0m4 -0.5h0m1 0h0m2.5 0h0m1.5 1h0m2 -1h0m56.5 0.5h0m1.5 0.5h0m1 -1h0m2 1h0m9 -1h0m2.5 1h0m1 -0.5h0m3 0h0m-95.5 1h0m0.5 0.5h0m7 0h0m3 0h0m0.5 -1h0m4 0.5h0m1 0h0m0 0h0m0 0h0m66 0h0m2.5 0h0m0.5 0h0m0 0.5h0m11 -1h0m-88 1h0m0.5 0.5h0m3 0h0m68.5 -0.5h0m1 0h0m0.5 0h0m4.5 0.5h0m1 -0.5h0m1 0h0m4.5 0h0m3 0h0m-92 1.5h0m0.5 0h0m0.5 0h0m7.5 -0.5h0m1.5 0.5h0m1.5 0h0m0.5 0.5h0m65 0h0m1 -0.5h0m2.5 0h0m1.5 0.5h0m0 -1h0m4.5 1h0m2.5 -1h0m2.5 1h0m0.5 -0.5h0m-92 1h0m0 0h0m0 0h0m2.5 0.5h0m2.5 0h0m1.5 0h0m1.5 -1h0m1.5 0.5h0m2 0h0m67.5 0.5h0m3 -1h0m2.5 0.5h0m1.5 0.5h0m1.5 -0.5h0m5 0h0m0.5 0h0m0.5 0.5h0m-96.5 1h0m0.5 -1h0m2.5 0.5h0m0.5 0h0m4.5 0h0m8.5 0h0m0 0h0m66 0h0m3.5 0h0m0 -0.5h0m1.5 0.5h0m1 0h0m0.5 -0.5h0m-89.5 1.5h0m97 0h0m-96.5 0.5h0m-1 1.5h0m96 0.5h0m-96 1h0m96.5 1h0m0 0h0m-96 0.5h0m0.5 -0.5h0m1 0h0m95.5 0.5h0m-97.5 3h0m96.5 0.5h0m1 0h0m-0.5 1.5h0m0 0.5h0m-95 0.5h0m0 0h0m94.5 -0.5h0m0 0.5h0m0 1.5h0m1 -0.5h0m0 0.5h0m-1 0.5h0m-96 2h0m1.5 -0.5h0m94.5 0.5h0m1 0.5h0m-1 1h0m1 1h0m0.5 -0.5h0m-1.5 1.5h0m-95.5 1h0m0.5 -1h0m94 1h0m0 -0.5h0m1 0.5h0m-95.5 1h0m0 -0.5h0m0.5 0.5h0m96 -1h0m-2 1h0m1 1h0m0.5 -0.5h0m0.5 1.5h0m35 13.5h0m42.5 13.5h0m-45 4.5h0m43 6.5h0m-32 3h0m-43.5 1.5h0m-96.5 1h0m0.5 0.5h0m0 1h0m96 -0.5h0m-96.5 1.5h0m96 0h0m-96.5 0h0m96 0.5h0m-95.5 2.5h0m-1 0h0m1.5 0h0m96 1h0m-96 1h0m96 -0.5h0m0.5 0h0m-97 0.5h0m0.5 1h0m-1.5 1.5h0m1 0.5h0m96.5 -0.5h0m-1.5 1h0m-96 1h0m96.5 0h0m74 1.5h0m23.5 -0.5h0m-193.5 0.5h0m0 1h0m96 -0.5h0m0 0h0m1 0h0m-0.5 0.5h0m-96.5 1.5h0m0 0h0m0 0h0m0 1h0m-0.5 2.5h0m96.5 -1h0m-95.5 2h0m95 -1h0m0.5 0.5h0m-95.5 1.5h0m1 0h0m94.5 0h0m0 0.5h0m-1 0.5h0m-95 2h0m0.5 -1h0m96 0.5h0m-96.5 1.5h0m0 -0.5h0m0.5 0h0m95.5 -0.5h0m1 0h0m39.5 1h0m-137 1h0m96 -0.5h0m38 0h0m-132.5 0.5h0m94 0.5h0m1 0h0m50.5 -0.5h0m-145.5 1.5h0m96 0.5h0m-96.5 0.5h0m95.5 0h0m0 0h0m0.5 0h0m0 0h0m-1 2h0m-95.5 1.5h0m1.5 -0.5h0m95 0h0m-1 0.5h0m-95.5 1.5h0m1.5 1h0m95.5 0.5h0m121 -0.5h0m-217.5 1h0m0.5 0h0m0.5 0h0m95.5 0h0m-95.5 1h0m93.5 0.5h0m107.5 0h0m-201.5 0h0m0 0h0m94 1h0m0.5 -0.5h0m60.5 0h0m-155 1h0m95 -0.5h0m1 0.5h0m-1 0.5h0m66.5 0.5h0m-161.5 1.5h0m95.5 -0.5h0m55 0h0m-151 1h0m95.5 0.5h0m-95.5 0.5h0m-0.5 1h0m0.5 0.5h0m95.5 -1h0m85.5 0.5h0m-182 1h0m2 0h0m94.5 0h0m0.5 0.5h0m-97 0h0m95.5 0.5h0m0.5 -0.5h0m0.5 1h0m-95.5 1h0m-1 0.5h0m0 0h0m2 0h0m5 0h0m1.5 0.5h0m3 0h0m3 -0.5h0m1 0h0m3 0h0m0 0h0m0.5 0h0m0.5 0h0m59 0h0m3 0h0m0.5 0.5h0m4 0h0m3.5 -0.5h0m2 0.5h0m2.5 -0.5h0m64.5 0h0m-155 1h0m3 -0.5h0m1 0.5h0m1.5 0.5h0m0.5 -1h0m0.5 0.5h0m1.5 0h0m0.5 0h0m0.5 0h0m1.5 -0.5h0m1 0.5h0m2.5 -0.5h0m3.5 0.5h0m0.5 -0.5h0m2 0.5h0m52.5 0.5h0m4 -0.5h0m8 0.5h0m2 -0.5h0m4 -0.5h0m1 0h0m2 0.5h0m0.5 -0.5h0m-92.5 2h0m5 -0.5h0m1.5 -0.5h0m3 0.5h0m0.5 0h0m1.5 0h0m6 0h0m51 0h0m6 0.5h0m2.5 -0.5h0m2.5 0h0m1 0.5h0m1 -1h0m0.5 0.5h0m0.5 0h0m0 0.5h0m3.5 -0.5h0m1.5 0h0m4.5 0h0m31.5 0h0m-122 0.5h0m4 0.5h0m4 0h0m3 0h0m1.5 -0.5h0m56 0h0m1.5 0h0m2 1h0m2 0h0m0.5 0h0m0.5 0h0m6.5 -0.5h0m0.5 -0.5h0m3.5 1h0m-89 1h0m6 -0.5h0m1 0.5h0m1 -0.5h0m7 0h0m0 -0.5h0m1.5 0h0m1.5 0h0m55 1h0m5.5 0h0m3 -0.5h0m0.5 0h0m5.5 -0.5h0m1.5 0.5h0m0.5 0.5h0m4 -0.5h0m-79 1h0m5 0.5h0m3 -0.5h0m50 0h0m0.5 0h0m2 0h0m12 0h0m4 0.5h0m0 -0.5h0m0.5 -0.5h0m1 1h0m1 -0.5h0m-93 1h0m6.5 0h0m9 0h0m3 0h0m51 0.5h0m5 -0.5h0m1.5 0h0m2.5 0h0m5.5 -0.5h0m2.5 0h0m4.5 0h0m97 1h0m-190 0.5h0m15 0h0m0.5 -0.5h0m4.5 0.5h0m2.5 0h0m54 0h0m2.5 0h0m1.5 0h0m10 0h0m0.5 -0.5h0m1.5 0.5h0m3 0h0m54 0.5h0m-148 0h0m3 0.5h0m7.5 0h0m0.5 0h0m2 0h0m3 -0.5h0m7.5 0.5h0m0.5 0.5h0m46.5 -1h0m6.5 0h0m2 0.5h0m1 -0.5h0m12.5 1h0m-94 0.5h0m7 0h0m8.5 0h0m1 0h0m62.5 -0.5h0m1 0h0m1.5 0.5h0m107 -0.5h0m-188 1.5h0m2.5 0h0m1 0h0m22 0.5h0m47 -0.5h0m3.5 -0.5h0m0 0.5h0m3 0.5h0m13.5 -0.5h0m113 0h0m-201 0.5h0m0.5 1h0m3 0h0m2.5 -0.5h0m0.5 0h0m2 0.5h0m58.5 -1h0m0 0.5h0m2 0h0m1.5 0.5h0m19 -0.5h0m0.5 0.5h0m-91.5 1h0m7.5 0h0m10.5 -1h0m0.5 0h0m50 0.5h0m3 -0.5h0m9.5 0.5h0m1.5 0h0m53 0h0m7.5 0h0m37 0.5h0m-165 1h0m0.5 -1h0m5.5 0.5h0m1 0h0m56 0h0m3 -0.5h0m0.5 0.5h0m6 0.5h0m-90.5 1h0m20 0h0m46 0h0m10 0h0m0 -1h0m1 0.5h0m5 0h0m8 0h0m44 0h0m48 0.5h0m14 -1h0m-176 1h0m3 0h0m4.5 0.5h0m59 0.5h0m37.5 -1h0m-123.5 1.5h0m1 0h0m13 0h0m5 0h0m8 0h0m37.5 0h0m3 0.5h0m1.5 0h0m1.5 0h0m1 -0.5h0m6.5 0h0m3.5 0.5h0m2.5 -0.5h0m3.5 0h0m4 -0.5h0m2 1h0m-89.5 0h0m4 1h0m5.5 0h0m3 -1h0m3 0.5h0m2.5 0.5h0m3 -1h0m42 0.5h0m3.5 -0.5h0m7 0.5h0m0 0h0m2.5 0h0m6 0.5h0m5 0h0m3 0h0m47.5 -0.5h0m6.5 0h0m14 0h0m-163.5 1h0m2.5 0h0m1.5 0h0m1.5 0h0m1 0.5h0m1.5 -1h0m5.5 0h0m5 0.5h0m5 0h0m6 -0.5h0m49 0.5h0m2.5 0h0m8 0h0m0.5 0.5h0m2.5 -0.5h0m0 -0.5h0m2 0.5h0m2.5 0.5h0m76 -1h0m22 0.5h0m-187.5 1.5h0m3.5 0h0m1.5 -0.5h0m1 0h0m7 0h0m1 0h0m47.5 -0.5h0m1 0.5h0m8.5 0.5h0m8.5 -1h0m4 0.5h0m0.5 0h0m125.5 0h0m-205 1h0m64 0h0m8 -0.5h0m6.5 0.5h0m2 0h0m93 0h0m-176.5 1h0m6 0h0m0.5 0h0m0.5 0.5h0m0.5 -0.5h0m7 0.5h0m7 -0.5h0m1.5 0.5h0m0 0h0m33.5 0h0m11.5 -0.5h0m1 0h0m2 0h0m3 0h0m2 -0.5h0m1.5 1h0m1.5 -0.5h0m90.5 0h0m40 0.5h0m-219 0.5h0m3 0h0m10.5 -0.5h0m2.5 0h0m0 1h0m1 -0.5h0m0.5 0h0m50.5 0h0m5.5 -0.5h0m5 0h0m9 0.5h0m1 -0.5h0m3.5 0.5h0m1.5 0.5h0m1 -0.5h0m111.5 0h0m-195.5 0.5h0m8 0h0m52 0.5h0m2.5 -0.5h0m13 0h0m1.5 0.5h0m4.5 0h0m0.5 0.5h0m126.5 -1h0m-213.5 1.5h0m10.5 0.5h0m2 -0.5h0m3.5 0h0m1 0h0m0 0h0m1 -0.5h0m7.5 0.5h0m41.5 0h0m0.5 0h0m2 -0.5h0m3.5 0.5h0m0 0h0m14 -0.5h0m1.5 0.5h0m83.5 0h0m-174 1h0m0.5 -0.5h0m4 0.5h0m0.5 0h0m24 0h0m0.5 0h0m30.5 0h0m18 0h0m16 0.5h0m-90 0.5h0m4.5 0.5h0m1.5 0h0m3 0h0m1 -0.5h0m0.5 0h0m7.5 0h0m2 -0.5h0m38 1h0m15 -0.5h0m15 0h0m64 -0.5h0m56 0h0m-214 2h0m6.5 -0.5h0m11.5 -0.5h0m2 0h0m4.5 0h0m1.5 0h0m3.5 0.5h0m32 0.5h0m4 -0.5h0m18 0h0m2 0.5h0m1.5 -1h0m0 0.5h0m-84 1h0m0.5 0.5h0m16.5 -0.5h0m58 0.5h0m17.5 -1h0m0 1h0m-92 1h0m0 -0.5h0m4 -0.5h0m1.5 0.5h0m25 0h0m35 0.5h0m1.5 -1h0m2 0.5h0m114 0h0m-179 1h0m9 0.5h0m17.5 0h0m28 -0.5h0m9 0h0m3 0h0m2 -0.5h0m0.5 0.5h0m12 0h0m72 -0.5h0m-160.5 1.5h0m1 0.5h0m3.5 -1h0m16 0.5h0m0.5 0.5h0m0 -1h0m2 1h0m37 -1h0m5 0.5h0m4 0.5h0m4.5 -0.5h0m11.5 0h0m1 0h0m60 0.5h0m65 0h0m-205.5 0.5h0m8 0h0m1 0h0m7 0h0m4.5 0.5h0m7.5 -0.5h0m28.5 0h0m3.5 0h0m4.5 0.5h0m8 -0.5h0m2.5 -0.5h0m113.5 1h0m-186 0.5h0m3.5 0.5h0m0 -1h0m0.5 1h0m3 -0.5h0m1 0.5h0m14.5 -0.5h0m29.5 0h0m13.5 0.5h0m4.5 -0.5h0m0.5 -0.5h0m2 0.5h0m1.5 -0.5h0m0.5 1h0m4.5 -1h0m0 0.5h0m1 0.5h0m7.5 -0.5h0m-84.5 0.5h0m2.5 1h0m3.5 -1h0m11.5 0.5h0m6 -0.5h0m26 0.5h0m3.5 0h0m1 0h0m0.5 0h0m5 0.5h0m2 -0.5h0m0.5 0.5h0m125 -1h0m-131 1h0m6 0.5h0m9.5 0h0m8 0h0m52 0h0m22.5 0h0m-165.5 1h0m0 -0.5h0m0 0.5h0m1 -0.5h0m3.5 0.5h0m6.5 -0.5h0m14.5 1h0m0.5 0h0m4.5 -1h0m4 1h0m2 -0.5h0m0.5 0h0m25 0.5h0m0 0h0m7 -0.5h0m2 0h0m1.5 0.5h0m1.5 0h0m4.5 -0.5h0m2.5 0h0m3.5 -0.5h0m5.5 0.5h0m5 0h0m-91 1h0m2.5 0.5h0m6 -0.5h0m5.5 -0.5h0m0.5 0.5h0m3 0h0m3.5 0.5h0m5 -0.5h0m0.5 -0.5h0m7 0.5h0m28.5 0.5h0m1 -1h0m21 0.5h0m49 0h0m79 0.5h0m-200 1h0m11 -0.5h0m9.5 0h0m1.5 0.5h0m20.5 -0.5h0m1 0.5h0m13 0h0m4 -1h0m16.5 0.5h0m0.5 0.5h0m1 -0.5h0m97 -0.5h0m-191 1.5h0m1.5 0h0m5 0.5h0m1.5 -0.5h0m7 -0.5h0m3 1h0m3.5 0h0m1 0h0m8 -0.5h0m33.5 0.5h0m3.5 -1h0m2.5 0h0m8.5 0.5h0m12 0h0m40 -0.5h0m10.5 1h0m-131.5 0h0m12 0.5h0m2 0.5h0m33 -1h0m9 0h0m20 0.5h0m3 0.5h0m0.5 -0.5h0m36.5 0h0m77 -0.5h0m-201 1.5h0m7 0.5h0m14 -1h0m5 0.5h0m10.5 -0.5h0m20.5 0.5h0m5.5 0.5h0m4.5 -1h0m10.5 0h0m9.5 1h0m-84 1h0m20 -0.5h0m5 -0.5h0m31.5 0.5h0m14 0.5h0m9 -1h0m-58.5 2h0m0 -0.5h0m5 0h0m4.5 -0.5h0m33.5 1h0m6.5 -0.5h0m2.5 -0.5h0m6.5 0.5h0m69.5 0h0m3 -0.5h0m-151.5 1.5h0m2 0h0m20.5 0.5h0m0.5 -1h0m6 0.5h0m2.5 -0.5h0m19 1h0m2 -0.5h0m3 -0.5h0m11.5 0h0m2.5 0.5h0m18 0h0m-82.5 1h0m4.5 0h0m24 0h0m22 0h0m7.5 0.5h0m9 -0.5h0m5 0h0m10 0h0m77 0h0m2.5 0.5h0m-149 1h0m2.5 -0.5h0m33.5 0h0m6 0.5h0m1.5 -0.5h0m28.5 0h0m1 0h0m107.5 0h0m-202 1h0m13.5 -0.5h0m0.5 0.5h0m7 0.5h0m5.5 -0.5h0m3.5 0h0m8.5 -0.5h0m16 0h0m2 0.5h0m11 0h0m2.5 0.5h0m-55 0.5h0m5.5 -0.5h0m12.5 1h0m3.5 -0.5h0m1.5 0.5h0m18 0h0m12.5 -1h0m8.5 0h0m-78 1.5h0m27.5 -0.5h0m32.5 1h0m2 -0.5h0m2 0.5h0m1.5 0h0m0.5 -0.5h0m4 -0.5h0m9.5 1h0m0.5 -0.5h0m15 -0.5h0m40 1h0m-116.5 0h0m22 0.5h0m29 0h0m2.5 0h0m1.5 0.5h0m0.5 0h0m0.5 0h0m20.5 0h0m75.5 0h0m-150.5 0h0m11.5 1h0m42.5 -0.5h0m8.5 0.5h0m0.5 0h0m-81 0.5h0m5 0h0m22 0h0m9.5 0.5h0m1.5 -1h0m13 0.5h0m0.5 -0.5h0m5 1h0m8 -0.5h0m1 0h0m9.5 0.5h0m11.5 -1h0m-76.5 1.5h0m8.5 0h0m1.5 0.5h0m16 0h0m15 -0.5h0m3 0h0m2 -0.5h0m14 1h0m2.5 -0.5h0m1 0.5h0m15 -0.5h0m56 0h0m-110 0.5h0m20.5 1h0m7 -1h0m26 1h0m74 0h0m-165 0.5h0m29.5 -0.5h0m12.5 0h0m30 1h0m4.5 -0.5h0m0.5 0h0m55.5 0h0m67.5 0h0m-191 1h0m6.5 0h0m0 0h0m1 -0.5h0m3 1h0m3 0h0m7 -1h0m27.5 0.5h0m16.5 0h0m10.5 0h0m6.5 -0.5h0m3.5 0.5h0m-92.5 1h0m5.5 0.5h0m36.5 0h0m14 0h0m6 -0.5h0m7 0h0m-59.5 1.5h0m9.5 -1h0m1 0.5h0m17.5 0h0m0.5 -0.5h0m14.5 0h0m20.5 1h0m6 -1h0m14 0h0m127 1h0m-218.5 0.5h0m27 -0.5h0m31.5 0h0m22.5 1h0m-68.5 0.5h0m7.5 0h0m13.5 0h0m36 0h0m90 0h0m-162.5 0.5h0m18 1h0m9 -1h0m1 0.5h0m10 0.5h0m42 -0.5h0m4 0h0m1.5 0.5h0m10.5 -0.5h0m59 0.5h0m15 -1h0m-162.5 2h0m12 0h0m11 -0.5h0m41.5 -0.5h0m2.5 0.5h0m0 0h0m1.5 0.5h0m1 -0.5h0m9.5 -0.5h0m2.5 1h0m8 -0.5h0m65 0h0m-116.5 0.5h0m19 0.5h0m28 0h0m86 0h0m24 -0.5h0m-198.5 1h0m13 0.5h0m4.5 0.5h0m2.5 0h0m6.5 -0.5h0m6 0h0m28.5 -0.5h0m96.5 0.5h0m2.5 -0.5h0m22.5 0h0m0.5 0.5h0m-178.5 1h0m5.5 -0.5h0m52 0.5h0m122 -0.5h0m-175 1.5h0m9 0h0m50 -0.5h0m0.5 1h0m18 -1h0m61.5 0h0m-136.5 1.5h0m1 0h0m50.5 0h0m9 -0.5h0m54 0.5h0m2 0.5h0m32.5 -1h0m-147 1.5h0m4 0.5h0m3.5 -0.5h0m9.5 0.5h0m0 -0.5h0m15.5 0h0m9.5 0h0m35 0h0m50 -0.5h0m-90.5 1.5h0m19.5 -0.5h0m-47.5 1.5h0m17 0h0m-37.5 1.5h0m33.5 0h0m18 -0.5h0m154 -0.5h0m-188.5 2h0m72.5 -0.5h0m37 0h0m-117 0.5h0m8.5 0.5h0m36.5 0.5h0m6.5 -0.5h0m99 0h0m-137.5 0.5h0m8.5 0.5h0m90 -0.5h0m-124.5 1h0m1.5 0h0m59 0.5h0m-38 0.5h0m17 1h0m31.5 -0.5h0m20.5 -0.5h0m122 0.5h0m-213 0.5h0m42.5 0h0m0.5 0.5h0m2 0h0m43.5 -0.5h0m-43.5 1.5h0m2 0.5h0m44.5 -0.5h0m2 0h0m75.5 0h0m-162 1h0m7 0h0m22 -0.5h0m104.5 0.5h0m-82.5 2h0m1.5 0h0m147.5 0h0m-192 1h0m5 -0.5h0m8.5 0h0m15.5 0.5h0m22.5 0h0m-25.5 1h0m31.5 -0.5h0m145.5 0h0m-213 2h0m7.5 -0.5h0m5.5 0h0m61.5 -0.5h0m-78 1.5h0m38.5 -0.5h0m-32.5 2.5h0m2.5 -0.5h0m1 1h0m8.5 -1h0m24.5 0h0m1.5 0h0m27 2.5h0m15 0h0m118.5 1h0m-203 0.5h0m40.5 0.5h0m87 -0.5h0m8 0.5h0m71 -0.5h0m-198.5 2.5h0m34.5 -0.5h0m-26.5 1.5h0m51.5 0h0m104.5 0h0m-124 1.5h0m33 0h0m-47 1h0m-11 0.5h0m58.5 0h0m105 0.5h0m0.5 -1h0m-159 1h0m14 1.5h0m19 0.5h0m2 0.5h0m97 2h0m-165 1.5h0m179 2h0m-100 2.5h0m124 0.5h0m5.5 4h0m-162 1h0m-6.5 1.5h0m114.5 0h0" stroke="#000" stroke-width="4.1" stroke-linecap="round" fill="none"/>
<path d="M1068.5 162.1 1068.4 163.1 1068.4 164.1 1068.3 165.1 1068.2 166.1 1068.1 167.1 1068 168.1 1068 169.1 1067.9 170.1 1067.8 171.1 1067.7 172.1 1067.6 173.1 1067.5 174.1 1067.4 175.1 1067.3 176.1 1067.2 177.1 1067.1 178.1 1066.9 179.1 1066.8 180.1 1066.7 181.1 1066.5 182.1 1066.4 183.1 1066.2 184.1 1066 185.1 1065.8 186.1 1065.5 187.1 1065.3 188.1 1065 189.1 1064.7 190.1 1064.4 191.1 1064 192.1 1063.7 193.1 1063.3 194.1 1063 195.1 1062.6 196.1 1062.1 197.1 1061.7 198.1 1061.2 199.1 1060.7 200.1 1060.2 201.1 1059.6 202.1 1059.1 203.1 1058.5 204.1 1057.9 205.1 1057.4 206.1 1056.8 207.1 1056.3 208.1 1055.7 209.1 1055.2 210.1 1054.6 211.1 1054 212.1 1053.5 213.1 1052.9 214.1 1052.2 215.1 1051.6 216.1 1051 217.1 1050.3 218.1 1049.6 219.1 1048.9 220.1 1048.1 221.1 1047.3 222.1 1046.5 223.1 1045.7 224.1 1044.8 225.1 1044 226.1 1043.1 227.1 1042.3 228.1 1041.5 229.1 1040.7 230.1 1039.9 231.1 1039.1 232.1 1038.2 233.1 1037.4 234.1 1036.6 235.1 1035.8 236.1 1035 237.1 1034.2 238.1 1033.4 239.1 1032.6 240.1 1031.9 241.1 1031.1 242.1 1030.4 243.1 1029.7 244.1 1028.9 245.1 1028.2 246.1 1027.5 247.1 1026.8 248.1 1026.2 249.1 1025.5 250.1 1024.8 251.1 1024.2 252.1 1023.5 253.1 1022.8 254.1 1022.2 255.1 1021.5 256.1 1020.8 257.1 1020.2 258.1 1019.5 259.1 1018.9 260.1 1018.3 261.1 1017.8 262.1 1017.3 263.1 1016.9 264.1 1016.5 265.1 1016.1 266.1 1015.8 267.1 1015.4 268.1 1015.1 269.1 1014.8 270.1 1014.5 271.1 1014.2 272.1 1014 273.1 1013.8 274.1 1013.7 275.1 1013.6 276.1 1013.5 277.1 1013.4 278.1 1013.4 279.1 1013.3 280.1 1013.3 281.1 1013.3 282.1 1013.3 283.1 1013.4 284.1 1013.5 285.1 1013.6 286.1 1013.8 287.1 1014 288.1 1014.2 289.1 1014.4 290.1 1014.6 291.1 1014.8 292.1 1015 293.1 1015.2 294.1 1015.5 295.1 1015.8 296.1 1016.1 297.1 1016.5 298.1 1016.8 299.1 1017.2 300.1 1017.6 301.1 1018 302.1 1018.5 303.1 1018.9 304.1 1019.3 305.1 1019.7 306.1 1020.1 307.1 1020.5 308.1 1020.9 309.1 1021.4 310.1 1021.8 311.1 1022.3 312.1 1022.7 313.1 1023.2 314.1 1023.7 315.1 1024.2 316.1 1024.7 317.1 1025.3 318.1 1025.8 319.1 1026.4 320.1 1027 321.1 1027.6 322.1 1028.1 323.1 1028.6 324.1 1029.1 325.1 1029.6 326.1 1030.1 327.1 1030.6 328.1 1031 329.1 1031.5 330.1 1031.9 331.1 1032.3 332.1 1032.8 333.1 1033.2 334.1 1033.7 335.1 1034.1 336.1 1034.5 337.1 1035 338.1 1035.4 339.1 1035.9 340.1 1036.3 341.1 1036.8 342.1 1037.2 343.1 1037.7 344.1 1038.1 345.1 1038.6 346.1 1039 347.1 1039.5 348.1 1039.9 349.1 1040.4 350.1 1040.8 351.1 1041.3 352.1 1041.8 353.1 1042.2 354.1 1042.7 355.1 1043.1 356.1 1043.6 357.1 1044 358.1 1044.5 359.1 1044.9 360.1 1045.3 361.1 1045.8 362.1 1046.2 363.1 1046.6 364.1 1047 365.1 1047.5 366.1 1047.9 367.1 1048.3 368.1 1048.7 369.1 1049.1 370.1 1049.5 371.1 1049.9 372.1 1050.3 373.1 1050.7 374.1 1051.1 375.1 1051.6 376.1 1052 377.1 1052.3 378.1 1052.7 379.1 1053.1 380.1 1053.5 381.1 1053.9 382.1 1054.3 383.1 1054.7 384.1 1055.1 385.1 1055.5 386.1 1055.9 387.1 1056.3 388.1 1056.6 389.1 1057 390.1 1057.4 391.1 1057.8 392.1 1058.1 393.1 1058.5 394.1 1058.8 395.1 1059.2 396.1 1059.5 397.1 1059.8 398.1 1060.2 399.1 1060.5 400.1 1060.8 401.1 1061.1 402.1 1061.4 403.1 1061.7 404.1 1062 405.1 1062.3 406.1 1062.6 407.1 1062.8 408.1 1063.1 409.1 1063.4 410.1 1063.6 411.1 1063.9 412.1 1064.1 413.1 1064.4 414.1 1064.6 415.1 1064.8 416.1 1065 417.1 1065.2 418.1 1065.4 419.1 1065.6 420.1 1065.8 421.1 1066 422.1 1066.2 423.1 1066.3 424.1 1066.5 425.1 1066.7 426.1 1066.8 427.1 1066.9 428.1 1067.1 429.1 1067.2 430.1 1067.3 431.1 1067.5 432.1 1067.6 433.1 1067.7 434.1 1067.8 435.1 1067.9 436.1 1068 437.1 1068.1 438.1 1068.2 439.1 1068.2 440.1 1068.2 441.1 1068.3 442.1 1068.3 443.1 1068.3 444.1 1068.3 445.1 1068.3 446.1 1068.4 447.1 1068.4 448.1 1068.4 449.1 1068.4 450.1 1068.4 451.1 1068.4 452.1 1068.4 453.1 1068.4 454.1 1068.4 455.1 1068.4 456.1 1068.4 457.1 1068.4 458.1 1068.4 459.1 1068.4 460.1 1068.4 461.1 1068.4 462.1 1068.4 463.1 1068.4 464.1 1068.4 465.1 1068.4 466.1 1068.4 467.1 1068.4 468.1 1068.4 469.1 1068.4 470.1 1068.4 471.1 1068.4 472.1 1068.4 473.1 1068.4 474.1 1068.4 475.1 1068.4 476.1 1068.4 477.1 1068.4 478.1 1068.4 479.1 1068.4 480.1 1068.4 481.1 1068.4 482.1 1068.4 483.1 1068.4 484.1 1068.4 485.1 1068.4 486.1 1068.4 487.1 1068.4 488.1 1068.4 489.1 1068.4 490.1 1068.4 491.1 1068.4 492.1 1068.4 493.1 1068.4 494.1 1068.4 495.1 1068.4 496.1 1068.4 497.1 1068.4 498.1 1068.4 499.1 1068.4 500.1 1068.4 501.1 1068.4 502.1 1068.4 503.1 1068.4 504.1 1068.4 505.1 1068.4 506.1 1068.4 507.1 1068.4 508.1 1068.4 509.1 1068.4 510.1 1068.4 511.1 1068.4 512.1 1068.4 513.1 1068.4 514.1 1068.4 515.1 1068.4 516.1 1068.4 517.1 1068.4 518.1 1068.4 519.1 1068.4 520.1 1068.4 521.1 1068.4 522.1 1068.4 523.1 1068.4 524.1 1068.4 525.1 1068.4 526.1 1068.4 527.1 1068.4 528.1 1068.4 529.1 1068.4 530.1 1068.4 531.1 1068.4 532.1 1068.4 533.1 1068.4 534.1 1068.4 535.1 1068.4 536.1 1068.4 537.1 1068.4 538.1 1068.4 539.1 1068.4 540.1 1068.4 541.1 1068.4 542.1 1068.4 543.1 1068.4 544.1 1068.4 545.1 1068.4 546.1 1068.4 547.1 1068.4 548.1 1068.4 549.1 1068.4 550.1 1068.4 551.1 1068.4 552.1 1068.3 553.1 1068.2 554.1 1068 555.1 1067.8 556.1 1067.6 557.1 1067.2 558.1 1066.7 559.1 1066.2 560.1 1065.5 561.1 1064.5 562.1 1063.1 563.1 1061.1 564.1 1058.6 565.1 1056.1 566.1 1053.3 567.1 1050.4 568.1 1047.5 569.1 1044.5 570.1 1041.6 571.1 1038.8 572.1 1036 573.1 1033.2 574.1 1030.5 575.1 1027.8 576.1 1025.3 577.1 1023 578.1 1020.8 579.1 1018.9 580.1 1017.3 581.1 1015.9 582.1 1015 583.1 1014.6 584.1 L1123.2 584.1 1122.8 583.1 1121.9 582.1 1120.5 581.1 1118.9 580.1 1117 579.1 1114.8 578.1 1112.5 577.1 1110 576.1 1107.3 575.1 1104.6 574.1 1101.8 573.1 1099 572.1 1096.2 571.1 1093.3 570.1 1090.3 569.1 1087.4 568.1 1084.5 567.1 1081.7 566.1 1079.2 565.1 1076.7 564.1 1074.7 563.1 1073.3 562.1 1072.3 561.1 1071.6 560.1 1071.1 559.1 1070.6 558.1 1070.2 557.1 1070 556.1 1069.8 555.1 1069.6 554.1 1069.5 553.1 1069.4 552.1 1069.4 551.1 1069.4 550.1 1069.4 549.1 1069.4 548.1 1069.4 547.1 1069.4 546.1 1069.4 545.1 1069.4 544.1 1069.4 543.1 1069.4 542.1 1069.4 541.1 1069.4 540.1 1069.4 539.1 1069.4 538.1 1069.4 537.1 1069.4 536.1 1069.4 535.1 1069.4 534.1 1069.4 533.1 1069.4 532.1 1069.4 531.1 1069.4 530.1 1069.4 529.1 1069.4 528.1 1069.4 527.1 1069.4 526.1 1069.4 525.1 1069.4 524.1 1069.4 523.1 1069.4 522.1 1069.4 521.1 1069.4 520.1 1069.4 519.1 1069.4 518.1 1069.4 517.1 1069.4 516.1 1069.4 515.1 1069.4 514.1 1069.4 513.1 1069.4 512.1 1069.4 511.1 1069.4 510.1 1069.4 509.1 1069.4 508.1 1069.4 507.1 1069.4 506.1 1069.4 505.1 1069.4 504.1 1069.4 503.1 1069.4 502.1 1069.4 501.1 1069.4 500.1 1069.4 499.1 1069.4 498.1 1069.4 497.1 1069.4 496.1 1069.4 495.1 1069.4 494.1 1069.4 493.1 1069.4 492.1 1069.4 491.1 1069.4 490.1 1069.4 489.1 1069.4 488.1 1069.4 487.1 1069.4 486.1 1069.4 485.1 1069.4 484.1 1069.4 483.1 1069.4 482.1 1069.4 481.1 1069.4 480.1 1069.4 479.1 1069.4 478.1 1069.4 477.1 1069.4 476.1 1069.4 475.1 1069.4 474.1 1069.4 473.1 1069.4 472.1 1069.4 471.1 1069.4 470.1 1069.4 469.1 1069.4 468.1 1069.4 467.1 1069.4 466.1 1069.4 465.1 1069.4 464.1 1069.4 463.1 1069.4 462.1 1069.4 461.1 1069.4 460.1 1069.4 459.1 1069.4 458.1 1069.4 457.1 1069.4 456.1 1069.4 455.1 1069.4 454.1 1069.4 453.1 1069.4 452.1 1069.4 451.1 1069.4 450.1 1069.4 449.1 1069.4 448.1 1069.4 447.1 1069.5 446.1 1069.5 445.1 1069.5 444.1 1069.5 443.1 1069.5 442.1 1069.6 441.1 1069.6 440.1 1069.6 439.1 1069.7 438.1 1069.8 437.1 1069.9 436.1 1070 435.1 1070.1 434.1 1070.2 433.1 1070.3 432.1 1070.5 431.1 1070.6 430.1 1070.7 429.1 1070.9 428.1 1071 427.1 1071.1 426.1 1071.3 425.1 1071.5 424.1 1071.6 423.1 1071.8 422.1 1072 421.1 1072.2 420.1 1072.4 419.1 1072.6 418.1 1072.8 417.1 1073 416.1 1073.2 415.1 1073.4 414.1 1073.7 413.1 1073.9 412.1 1074.2 411.1 1074.4 410.1 1074.7 409.1 1075 408.1 1075.2 407.1 1075.5 406.1 1075.8 405.1 1076.1 404.1 1076.4 403.1 1076.7 402.1 1077 401.1 1077.3 400.1 1077.6 399.1 1078 398.1 1078.3 397.1 1078.6 396.1 1079 395.1 1079.3 394.1 1079.7 393.1 1080 392.1 1080.4 391.1 1080.8 390.1 1081.2 389.1 1081.5 388.1 1081.9 387.1 1082.3 386.1 1082.7 385.1 1083.1 384.1 1083.5 383.1 1083.9 382.1 1084.3 381.1 1084.7 380.1 1085.1 379.1 1085.5 378.1 1085.8 377.1 1086.2 376.1 1086.7 375.1 1087.1 374.1 1087.5 373.1 1087.9 372.1 1088.3 371.1 1088.7 370.1 1089.1 369.1 1089.5 368.1 1089.9 367.1 1090.3 366.1 1090.8 365.1 1091.2 364.1 1091.6 363.1 1092 362.1 1092.5 361.1 1092.9 360.1 1093.3 359.1 1093.8 358.1 1094.2 357.1 1094.7 356.1 1095.1 355.1 1095.6 354.1 1096 353.1 1096.5 352.1 1097 351.1 1097.4 350.1 1097.9 349.1 1098.3 348.1 1098.8 347.1 1099.2 346.1 1099.7 345.1 1100.1 344.1 1100.6 343.1 1101 342.1 1101.5 341.1 1101.9 340.1 1102.4 339.1 1102.8 338.1 1103.3 337.1 1103.7 336.1 1104.1 335.1 1104.6 334.1 1105 333.1 1105.5 332.1 1105.9 331.1 1106.3 330.1 1106.8 329.1 1107.2 328.1 1107.7 327.1 1108.2 326.1 1108.7 325.1 1109.2 324.1 1109.7 323.1 1110.2 322.1 1110.8 321.1 1111.4 320.1 1112 319.1 1112.5 318.1 1113.1 317.1 1113.6 316.1 1114.1 315.1 1114.6 314.1 1115.1 313.1 1115.5 312.1 1116 311.1 1116.4 310.1 1116.9 309.1 1117.3 308.1 1117.7 307.1 1118.1 306.1 1118.5 305.1 1118.9 304.1 1119.3 303.1 1119.8 302.1 1120.2 301.1 1120.6 300.1 1121 299.1 1121.3 298.1 1121.7 297.1 1122 296.1 1122.3 295.1 1122.6 294.1 1122.8 293.1 1123 292.1 1123.2 291.1 1123.4 290.1 1123.6 289.1 1123.8 288.1 1124 287.1 1124.2 286.1 1124.3 285.1 1124.4 284.1 1124.5 283.1 1124.5 282.1 1124.5 281.1 1124.5 280.1 1124.4 279.1 1124.4 278.1 1124.3 277.1 1124.2 276.1 1124.1 275.1 1124 274.1 1123.8 273.1 1123.6 272.1 1123.3 271.1 1123 270.1 1122.7 269.1 1122.4 268.1 1122 267.1 1121.7 266.1 1121.3 265.1 1120.9 264.1 1120.5 263.1 1120 262.1 1119.5 261.1 1118.9 260.1 1118.3 259.1 1117.6 258.1 1117 257.1 1116.3 256.1 1115.6 255.1 1115 254.1 1114.3 253.1 1113.6 252.1 1113 251.1 1112.3 250.1 1111.6 249.1 1111 248.1 1110.3 247.1 1109.6 246.1 1108.9 245.1 1108.1 244.1 1107.4 243.1 1106.7 242.1 1105.9 241.1 1105.2 240.1 1104.4 239.1 1103.6 238.1 1102.8 237.1 1102 236.1 1101.2 235.1 1100.4 234.1 1099.6 233.1 1098.7 232.1 1097.9 231.1 1097.1 230.1 1096.3 229.1 1095.5 228.1 1094.7 227.1 1093.8 226.1 1093 225.1 1092.1 224.1 1091.3 223.1 1090.5 222.1 1089.7 221.1 1088.9 220.1 1088.2 219.1 1087.5 218.1 1086.8 217.1 1086.2 216.1 1085.6 215.1 1084.9 214.1 1084.3 213.1 1083.8 212.1 1083.2 211.1 1082.6 210.1 1082.1 209.1 1081.5 208.1 1081 207.1 1080.4 206.1 1079.9 205.1 1079.3 204.1 1078.7 203.1 1078.2 202.1 1077.6 201.1 1077.1 200.1 1076.6 199.1 1076.1 198.1 1075.7 197.1 1075.2 196.1 1074.8 195.1 1074.5 194.1 1074.1 193.1 1073.8 192.1 1073.4 191.1 1073.1 190.1 1072.8 189.1 1072.5 188.1 1072.3 187.1 1072 186.1 1071.8 185.1 1071.6 184.1 1071.4 183.1 1071.3 182.1 1071.1 181.1 1071 180.1 1070.9 179.1 1070.7 178.1 1070.6 177.1 1070.5 176.1 1070.4 175.1 1070.3 174.1 1070.2 173.1 1070.1 172.1 1070 171.1 1069.9 170.1 1069.8 169.1 1069.8 168.1 1069.7 167.1 1069.6 166.1 1069.5 165.1 1069.4 164.1 1069.4 163.1 1069.3 162.1 Z" fill="#5EB9D3" stroke="#333333" stroke-width="2.4" stroke-linejoin="round"/>
<path d="M1016.1 584.7 H1121.7" stroke="#333333" stroke-width="3.4" stroke-linecap="round" fill="none"/>
<path d="M1192.8 273.8 V584.3" stroke="#333333" stroke-width="3.0" fill="none"/>
<path d="M1137 584.5 L1142.8 583.2 L1242.8 583.2 L1248.6 584.5 L1242.8 585.8 L1142.8 585.8 Z" fill="#333333" stroke="#333333" stroke-width="1.6" stroke-linejoin="round"/>
</g>
<g transform="translate(-110.1 837.4)">
<path d="M994.8 141 V605.4 H1268.8" stroke="#000" stroke-width="2.7" fill="none"/>
<path d="M985.4 169.9 H994.8M985.4 377.2 H994.8M985.4 584.3 H994.8M1068.9 605.4 V613.7M1192.8 605.4 V613.7" stroke="#000" stroke-width="2.7" fill="none"/>
<text x="975.3" y="182.6" font-size="30.2" text-anchor="end" font-family="'Liberation Sans', 'Liberation Sans', sans-serif">4</text>
<text x="975.3" y="389.9" font-size="30.2" text-anchor="end" font-family="'Liberation Sans', 'Liberation Sans', sans-serif">2</text>
<text x="975.3" y="597" font-size="30.2" text-anchor="end" font-family="'Liberation Sans', 'Liberation Sans', sans-serif">0</text>
<text x="1067.2" y="646.2" font-size="36.4" text-anchor="middle" font-family="'DejaVu Sans', 'Liberation Sans', sans-serif">Healthy</text>
<text x="1195.1" y="646.2" font-size="36.4" text-anchor="middle" font-family="'DejaVu Sans', 'Liberation Sans', sans-serif">AS</text>
<text x="1124.9" y="95.3" font-size="33.1" text-anchor="middle" font-family="'DejaVu Sans', 'Liberation Sans', sans-serif" font-style="oblique">FGF12</text>
<text x="1130.1" y="149.9" font-size="32.5" text-anchor="middle" font-family="'DejaVu Sans', 'Liberation Sans', sans-serif" font-style="oblique">p &lt; 0.0001</text>
<rect x="1019.2" y="195.1" width="97.2" height="75" fill="#000"/>
<path d="M1050 162.5h0m12 13h0m-16 1.5h0m68 0.5h0m-10.5 1h0m-61.5 0h0m44.5 0.5h0m-43 1h0m16.5 0.5h0m3 0.5h0m31 0h0m14 0h0m7.5 0.5h0m-88.5 1h0m40 0h0m8 -1h0m15 0.5h0m8 0h0m6.5 0h0m-74.5 1h0m46.5 0.5h0m14 -0.5h0m8.5 -0.5h0m-72.5 2h0m4.5 -0.5h0m5 0h0m80.5 0.5h0m-93.5 0.5h0m17.5 -0.5h0m0.5 0.5h0m32 -0.5h0m0.5 0.5h0m20 0h0m4.5 -0.5h0m4 0.5h0m5.5 0h0m-63.5 1h0m8.5 0h0m8.5 0.5h0m9.5 0h0m24 0h0m16 0h0m0.5 0h0m-86 0.5h0m13.5 0h0m10 0h0m9 0h0m49 -0.5h0m-81 1.5h0m2.5 0h0m21 0.5h0m1.5 -0.5h0m10.5 0.5h0m21 -1h0m1 0.5h0m14.5 0h0m14.5 0.5h0m-88 1h0m0.5 -1h0m9.5 0h0m17 0.5h0m4.5 -0.5h0m4.5 0.5h0m4 0h0m26.5 0.5h0m4 -1h0m-71.5 1h0m0.5 0.5h0m2.5 -0.5h0m10.5 0.5h0m0.5 -0.5h0m20 1h0m0.5 0h0m6.5 0h0m0.5 0h0m1.5 -1h0m3.5 0.5h0m9.5 0h0m11 0h0m6 0h0m4 -0.5h0m-80.5 1h0m8.5 1h0m5.5 0h0m10 0h0m5 -0.5h0m23.5 0.5h0m5.5 -0.5h0m8 -0.5h0m14 0.5h0m3 0.5h0m4 0h0m-80 0.5h0m1 0h0m1.5 0h0m3.5 0h0m3.5 0h0m5 -0.5h0m1 0.5h0m15 0h0m2.5 -0.5h0m19.5 0.5h0m10 0.5h0m9 -1h0m3.5 0.5h0m2.5 0h0m0 0h0m0 0h0m2 0h0m3 0h0m1 0h0m-87 0.5h0m4.5 1h0m1 -1h0m1 0h0m4 0h0m17 1h0m6.5 -0.5h0m3.5 -0.5h0m16 0h0m0.5 1h0m8.5 0h0m3.5 -1h0m3.5 0.5h0m1 0h0m0.5 0h0m1 0.5h0m1 -0.5h0m9.5 -0.5h0m3 0.5h0m2.5 -0.5h0m0 0h0m3 1h0m1.5 -1h0m1 0.5h0m-96.5 1h0m2 0.5h0m12 -1h0m7 0.5h0m0 0h0m9 0h0m3 0.5h0m0 -0.5h0m4.5 0h0m16.5 -0.5h0m0.5 0.5h0m1 0.5h0m1.5 -1h0m2 1h0m3.5 -0.5h0m3 0.5h0m5 -0.5h0m8 0h0m5.5 0.5h0m4.5 -0.5h0m1 0h0m0.5 0.5h0m6 -1h0m-97 2h0m1.5 0h0m1.5 0h0m0 0h0m4.5 0h0m3 0h0m3 -0.5h0m3 -0.5h0m0.5 1h0m0.5 0h0m1 -1h0m0 0.5h0m3.5 0h0m2 0.5h0m7 0h0m1 -1h0m2 1h0m1 -1h0m1 1h0m2.5 -1h0m25 1h0m5.5 -1h0m3 0.5h0m1 0h0m0.5 -0.5h0m5 0.5h0m1.5 -0.5h0m2 1h0m2.5 -0.5h0m8 0h0m-91 1h0m6.5 -0.5h0m4.5 1h0m2 -0.5h0m0.5 0.5h0m2.5 -0.5h0m4 0h0m2 -0.5h0m6 0h0m4.5 0.5h0m0 0h0m0.5 -0.5h0m0.5 0.5h0m0 0h0m2 0h0m4 -0.5h0m15.5 0h0m1 0h0m1.5 0.5h0m2 0.5h0m0.5 -0.5h0m2 0h0m2 0h0m0.5 -0.5h0m0.5 0h0m1.5 0.5h0m1.5 0h0m4 0h0m1.5 -0.5h0m1.5 0h0m0.5 0.5h0m3 -0.5h0m2 0h0m0.5 0.5h0m1.5 0.5h0m1.5 -1h0m4.5 0.5h0m1 0.5h0m2 0h0m1 0h0m3 0h0m0.5 0h0m-97 0.5h0m5 0.5h0m2 -0.5h0m2 -0.5h0m6 0.5h0m0.5 0h0m0 0.5h0m3.5 -0.5h0m8 -0.5h0m2.5 0h0m0 0.5h0m1.5 0h0m3 0h0m39 0h0m6 0h0m4 0h0m5.5 0h0m1.5 0h0m2 0h0m-92 1h0m1.5 0h0m95 0h0m-97 2h0m1 1.5h0m95 -1h0m-96 2h0m97.5 -0.5h0m-97.5 1h0m95.5 0h0m0.5 0h0m0.5 0.5h0m-94.5 1h0m93.5 0h0m1.5 -1h0m-96.5 1.5h0m0 0.5h0m1 2.5h0m95.5 1.5h0m-95.5 0.5h0m-0.5 1h0m94.5 0h0m1.5 0h0m0 0h0m-96.5 2h0m96.5 0.5h0m-96 0.5h0m0.5 0h0m0 1.5h0m94 0h0m2 0h0m-96 1.5h0m94 0h0m2 -0.5h0m-97 2h0m96.5 -1h0m-95 1.5h0m94.5 0h0m0 0h0m0.5 0.5h0m0.5 1.5h0m-97.5 1.5h0m0 13h0m97.5 -0.5h0m-96.5 1.5h0m95.5 -0.5h0m-96.5 2.5h0m95.5 0h0m-94 0h0m0.5 0.5h0m94.5 0.5h0m-96.5 0h0m1 1h0m1 0.5h0m95 1h0m-96.5 1h0m1 0h0m96 -0.5h0m-97.5 2h0m1.5 -0.5h0m94.5 0h0m1 -0.5h0m0.5 0.5h0m-97.5 1h0m97.5 0.5h0m-97.5 1.5h0m0.5 0.5h0m1 -0.5h0m94.5 -0.5h0m0 1.5h0m92 0h0m-188 1h0m97.5 0.5h0m-97 0h0m96 1.5h0m0.5 0h0m-95 1.5h0m0 -1h0m94.5 0.5h0m-96.5 1h0m0.5 0h0m0.5 -0.5h0m0 0.5h0m0 0.5h0m95 0.5h0m1 0h0m0 0.5h0m0 0.5h0m-95.5 1h0m0 -0.5h0m96 0.5h0m-96.5 0.5h0m0 0h0m1 0h0m93.5 0.5h0m1.5 1.5h0m-96 0.5h0m1 -0.5h0m-2 1.5h0m1 0h0m95 1.5h0m0.5 -0.5h0m-94.5 1h0m95 0h0m-95.5 1.5h0m95.5 0.5h0m0 0h0m-96 1h0m0 0h0m94.5 0h0m1.5 0h0m0.5 0h0m-97.5 1.5h0m0.5 -0.5h0m96 0h0m0 0h0m101 0h0m-196 1h0m94.5 0h0m-93 1h0m0.5 0h0m0.5 0.5h0m3.5 0h0m2 0h0m1.5 0h0m4 -0.5h0m3.5 0.5h0m6 0h0m5 -0.5h0m2 0h0m3 0.5h0m3 -0.5h0m27 0.5h0m3.5 -0.5h0m4 0.5h0m0 -0.5h0m2 0h0m0.5 0h0m3.5 0h0m3.5 0h0m0.5 0h0m10.5 0.5h0m1 -0.5h0m1 0.5h0m1 0h0m0.5 -0.5h0m0 0.5h0m-94.5 1h0m1 -1h0m2.5 0.5h0m9 0.5h0m4 -0.5h0m6.5 -0.5h0m4 1h0m1 -0.5h0m2.5 -0.5h0m5.5 0.5h0m1.5 0.5h0m20 -0.5h0m0 -0.5h0m3 1h0m2.5 -0.5h0m0 0.5h0m0.5 0h0m10 0h0m2 -0.5h0m2 0h0m0 -0.5h0m1.5 0.5h0m3.5 0h0m0.5 -0.5h0m0 0h0m2 0.5h0m0 -0.5h0m2.5 0h0m1.5 0h0m3 1h0m3 -0.5h0m-96.5 1h0m7.5 -0.5h0m4.5 0.5h0m2.5 0h0m6.5 0.5h0m6.5 -1h0m31.5 0.5h0m0 0h0m1.5 0.5h0m1 -0.5h0m1 0.5h0m6.5 -0.5h0m1.5 0h0m6 0h0m2 0h0m0.5 0h0m5.5 0h0m2 -0.5h0m1.5 0.5h0m-84.5 1h0m2 0.5h0m0 -1h0m3 1h0m0.5 -0.5h0m0 0h0m2 -0.5h0m10 0h0m3 0h0m2 0h0m5.5 0h0m1.5 0.5h0m3 0h0m1.5 0h0m24.5 -0.5h0m3.5 0h0m0 0h0m2.5 0.5h0m0 0.5h0m4 0h0m2 0h0m0.5 -1h0m0.5 0.5h0m7 0h0m0.5 -0.5h0m7.5 0.5h0m1 -0.5h0m1 0.5h0m2.5 -0.5h0m-92.5 1h0m22 0.5h0m14 -0.5h0m3 1h0m16.5 -0.5h0m5 -0.5h0m5 0.5h0m7.5 -0.5h0m13 0.5h0m0 -0.5h0m-86 1.5h0m0.5 -0.5h0m1.5 0.5h0m23.5 0h0m0.5 0.5h0m6 -0.5h0m0.5 0h0m23.5 -0.5h0m1.5 0.5h0m4 0h0m4.5 0h0m2 0.5h0m8 -0.5h0m0.5 -0.5h0m3.5 0.5h0m2.5 0.5h0m-83.5 0.5h0m5.5 -0.5h0m4.5 0.5h0m9.5 -0.5h0m4.5 0.5h0m5 0h0m0.5 -0.5h0m6 0h0m2 0.5h0m24.5 0.5h0m1.5 -0.5h0m3 0h0m10.5 0h0m1 0h0m0.5 0h0m1 0h0m5.5 0h0m2.5 0h0m3.5 0h0m1 0h0m-93 1.5h0m3 -1h0m1.5 0.5h0m2 -0.5h0m6 1h0m1.5 0h0m1.5 -1h0m4 1h0m0.5 0h0m10 -0.5h0m11 0.5h0m14.5 0h0m2.5 0h0m9.5 -0.5h0m3.5 0.5h0m2.5 0h0m5 0h0m14.5 -0.5h0m0.5 0h0m2.5 0h0m-90 1h0m20 -0.5h0m0.5 0.5h0m5.5 0.5h0m1 -0.5h0m0.5 0.5h0m7 -0.5h0m1 0h0m14.5 -0.5h0m1 0h0m4.5 1h0m12 -1h0m1 0.5h0m4 -0.5h0m7.5 0h0m0 1h0m0.5 -0.5h0m2 0.5h0m4 -1h0m-89 1h0m0.5 0h0m0.5 0h0m1.5 0h0m0.5 1h0m1 0h0m0 -1h0m1.5 0.5h0m13.5 0h0m8.5 0.5h0m26.5 -1h0m4 1h0m1.5 -1h0m1 0h0m0 1h0m8 0h0m0.5 -0.5h0m1.5 0.5h0m-73 0.5h0m2 0h0m8.5 -0.5h0m3.5 0.5h0m0.5 0h0m1.5 0.5h0m6.5 -0.5h0m15 0h0m16 0.5h0m5.5 0h0m6 -0.5h0m1.5 0.5h0m6 -0.5h0m3 0h0m5 -0.5h0m1.5 0.5h0m1 0h0m3 0.5h0m7.5 -0.5h0m-94 0.5h0m1.5 1h0m0.5 0h0m6 -0.5h0m21.5 0h0m11 0.5h0m13.5 -1h0m15.5 0.5h0m9.5 0h0m1 0h0m1.5 -0.5h0m8.5 0.5h0m0.5 0h0m4 -0.5h0m-93 2h0m2.5 -0.5h0m7.5 -0.5h0m6.5 1h0m3.5 -0.5h0m2 0.5h0m7.5 0h0m4.5 -1h0m2.5 0h0m5 0.5h0m13.5 0.5h0m6 -0.5h0m1 0.5h0m5 -0.5h0m1.5 0h0m4 0h0m4 -0.5h0m2 0.5h0m0.5 -0.5h0m1 1h0m2 0h0m4.5 -0.5h0m1 -0.5h0m6.5 1h0m-95.5 0h0m7 0.5h0m0 0.5h0m20 0h0m1 -0.5h0m6 0h0m1.5 0.5h0m3 -0.5h0m1.5 -0.5h0m2 0.5h0m11.5 0h0m1 0h0m24 0h0m7.5 0.5h0m3 -0.5h0m4 -0.5h0m-86 2h0m4.5 -1h0m0 0.5h0m6.5 0h0m0.5 0.5h0m34.5 -1h0m13 1h0m3 -1h0m4 0h0m7.5 1h0m2 -0.5h0m2.5 -0.5h0m2.5 0.5h0m2.5 -0.5h0m-89 1.5h0m1 0.5h0m2.5 -0.5h0m2.5 0.5h0m6.5 -0.5h0m2 -0.5h0m1 1h0m9 -0.5h0m9 0h0m6 0h0m2.5 0h0m14 0.5h0m3.5 -0.5h0m5 0.5h0m3.5 -0.5h0m2.5 0h0m22.5 0h0m0.5 0h0m-94.5 0.5h0m3 0.5h0m4.5 0h0m1 0h0m2.5 0h0m4.5 0.5h0m2 0h0m9.5 -1h0m3 0h0m2 1h0m1 -0.5h0m0.5 0h0m8 0.5h0m29 -0.5h0m3 0h0m4 0.5h0m9.5 -1h0m3 1h0m0.5 -0.5h0m5.5 -0.5h0m1 0h0m-97 1.5h0m3.5 0.5h0m0.5 -0.5h0m2.5 -0.5h0m3 0h0m3 0.5h0m12 0h0m13.5 0h0m3 0h0m1 0h0m44.5 0h0m1.5 0h0m4.5 0h0m1.5 -0.5h0m-88.5 1h0m4 0.5h0m8 0h0m27 0h0m11 0h0m0.5 0h0m1.5 0h0m10.5 0h0m2 0h0m10.5 0.5h0m2.5 -0.5h0m2.5 0h0m2 0h0m9 0h0m-87 1h0m2 -0.5h0m0.5 0h0m4 0.5h0m2 0.5h0m0.5 0h0m0 0h0m14.5 -0.5h0m2.5 -0.5h0m2.5 0.5h0m17 0h0m1.5 0h0m1.5 0h0m2.5 0.5h0m12 0h0m2.5 -0.5h0m3.5 -0.5h0m0.5 0h0m0.5 0h0m4 0.5h0m11 0h0m1 0h0m-94.5 1.5h0m0.5 -1h0m15 1h0m9 -1h0m9.5 0.5h0m5.5 0.5h0m21.5 -0.5h0m3.5 0h0m9 -0.5h0m13.5 0.5h0m0.5 -0.5h0m1 0.5h0m6 0h0m-96 1h0m6 0h0m0.5 0h0m6.5 0h0m15 0h0m1 -0.5h0m4 0.5h0m7.5 0h0m4 0.5h0m21.5 -1h0m1 1h0m4 -1h0m7 0.5h0m2.5 0h0m10.5 0.5h0m6 -0.5h0m-91.5 1h0m2.5 -0.5h0m5.5 1h0m3 -0.5h0m2 -0.5h0m11 0.5h0m4.5 0h0m5 0.5h0m1 -0.5h0m2 0h0m3 0.5h0m6.5 -1h0m9 0h0m4 0.5h0m7.5 0h0m1.5 0h0m0.5 0h0m5.5 0.5h0m8.5 0h0m2 0h0m-85.5 0.5h0m0.5 -0.5h0m6 1h0m1.5 -0.5h0m13.5 -0.5h0m3 0.5h0m8 0h0m39 0.5h0m9 -0.5h0m1.5 -0.5h0m4 0.5h0m5 0h0m1 0h0m-95.5 1h0m2 -0.5h0m2 0h0m1.5 0.5h0m1 0.5h0m13.5 0h0m2 -1h0m2.5 1h0m2.5 -0.5h0m0.5 0.5h0m1.5 0h0m3 0h0m0 -0.5h0m2.5 0h0m0 0h0m5 0.5h0m16.5 -0.5h0m7.5 0h0m0.5 0h0m13.5 0.5h0m6.5 -1h0m1.5 0h0m-83.5 1.5h0m35 -0.5h0m4.5 0.5h0m20 0h0m6.5 0.5h0m28 -0.5h0m-94.5 1h0m2 0h0m5 -0.5h0m1.5 0.5h0m1.5 0h0m11 0h0m2 0h0m5.5 0h0m2 0h0m8.5 -0.5h0m2.5 0h0m18 0h0m5.5 0h0m1 0h0m1.5 0h0m4 0.5h0m5.5 0h0m-72.5 1h0m24 0h0m8.5 0h0m24 -0.5h0m0.5 0.5h0m13.5 0.5h0m5 -1h0m-79.5 2h0m1.5 -0.5h0m2.5 -0.5h0m7.5 1h0m5.5 -1h0m6.5 0h0m5.5 0.5h0m10.5 0.5h0m11.5 0h0m1.5 -0.5h0m4 0.5h0m24.5 0h0m3.5 -1h0m2 1h0m-79 1h0m25 -0.5h0m6.5 -0.5h0m8.5 0.5h0m0.5 0.5h0m2 -0.5h0m3.5 0.5h0m4.5 -0.5h0m7 0h0m1 0.5h0m5 -1h0m-72.5 1.5h0m10 0h0m14.5 0.5h0m11 -1h0m23 0.5h0m12 0.5h0m8.5 -1h0m4.5 0.5h0m3 0.5h0m-80 0h0m11 0.5h0m0 0h0m6.5 0h0m8 0.5h0m7 -0.5h0m13.5 -0.5h0m0.5 0.5h0m3.5 0.5h0m7 0h0m2.5 -0.5h0m1 0h0m9 0h0m-77 1h0m7 -0.5h0m5 1h0m7.5 -0.5h0m14 0h0m9.5 0h0m14 -0.5h0m4 0.5h0m0 0h0m0.5 -0.5h0m14.5 0.5h0m-65 1h0m10.5 0h0m32 0h0m7.5 0.5h0m1 -0.5h0m0.5 0h0m3.5 0h0m2 0h0m1.5 0h0m3.5 0h0m8.5 -0.5h0m-61 2h0m1.5 0h0m1 -0.5h0m17 0h0m14.5 0.5h0m13.5 -0.5h0m5 0h0m3.5 0h0m2.5 0h0m11 0h0m97 0h0m-181.5 1h0m17 0.5h0m5.5 -1h0m25.5 1h0m12.5 0h0m4 0h0m0.5 -0.5h0m4 0.5h0m5 -1h0m13 0h0m72.5 0h0m-131.5 2h0m9.5 -0.5h0m4.5 -0.5h0m9.5 0.5h0m4 -0.5h0m4 0h0m5 0.5h0m2 -0.5h0m-68 1h0m1.5 0.5h0m6 0h0m1 0.5h0m4.5 -0.5h0m10 0h0m0.5 0h0m0 -0.5h0m4.5 0.5h0m11.5 -0.5h0m0.5 0.5h0m12 0h0m4.5 0.5h0m0.5 -1h0m24.5 0.5h0m8 0h0m94.5 0h0m-167 0.5h0m6 0h0m8 1h0m20 -1h0m0.5 0.5h0m16 0.5h0m2 -1h0m12 0.5h0m7.5 0h0m-92 1h0m4.5 0.5h0m7 -0.5h0m9 0.5h0m8 0h0m10.5 -0.5h0m33 -0.5h0m7 0.5h0m2 -0.5h0m2 0h0m11.5 1h0m-86 0.5h0m2 0h0m11.5 -0.5h0m32 0h0m6.5 0h0m14.5 0.5h0m2 0.5h0m8.5 0h0m9 -0.5h0m-86.5 0.5h0m26 0.5h0m30.5 0h0m0.5 0h0m3 0.5h0m1.5 -0.5h0m0 -0.5h0m14 0h0m7 0.5h0m87.5 0h0m-169 1h0m1.5 -0.5h0m1 0h0m6.5 1h0m19 0h0m6 -0.5h0m3 0.5h0m4 0h0m3 -1h0m5 0h0m31.5 1h0m5 -0.5h0m0.5 0h0m-80 1h0m13.5 0h0m4 -0.5h0m5.5 1h0m10.5 -0.5h0m25 -0.5h0m2.5 1h0m4 -0.5h0m3.5 0h0m8.5 0h0m-86.5 0.5h0m7 1h0m3.5 0h0m6 -0.5h0m3.5 0h0m0.5 0h0m8.5 0h0m2 0.5h0m7 -1h0m5.5 0.5h0m4.5 0h0m6 0.5h0m3 -1h0m3.5 1h0m10 -0.5h0m8 -0.5h0m1 0.5h0m6 0h0m-71.5 0.5h0m5 0h0m1 0.5h0m20.5 0.5h0m20.5 -0.5h0m1 0h0m6 0.5h0m3.5 -1h0m4 0.5h0m1.5 0h0m55 -0.5h0m-137 1.5h0m3 0h0m6.5 0h0m3 -0.5h0m4 0h0m1 1h0m5.5 -0.5h0m8 -0.5h0m3 0.5h0m7.5 0h0m4 0.5h0m25.5 -0.5h0m13 0h0m5.5 0h0m108.5 0h0m-189 1h0m16 -0.5h0m2.5 0.5h0m7.5 0.5h0m0 -1h0m0.5 0.5h0m4.5 0h0m6 0.5h0m26.5 -0.5h0m2 0h0m1 0.5h0m-69 0h0m14.5 0.5h0m9.5 0h0m0.5 0.5h0m24 -0.5h0m11.5 0h0m16 0.5h0m4.5 -1h0m-83 1.5h0m3.5 0h0m4.5 0h0m0.5 0h0m4.5 -0.5h0m14.5 0.5h0m4.5 0.5h0m13 -0.5h0m4 0.5h0m13.5 -1h0m25 1h0m-77 0.5h0m2 0h0m22.5 0h0m8 0h0m9 0h0m17.5 0h0m20.5 -0.5h0m-66 2h0m6.5 -0.5h0m1.5 0.5h0m6 -0.5h0m3.5 0h0m2 0h0m0.5 0.5h0m20 0h0m12 -0.5h0m-80.5 1h0m22 -0.5h0m0.5 0h0m16 0.5h0m12 -0.5h0m7 0h0m5 0.5h0m10 0h0m-64 1.5h0m0.5 -0.5h0m3.5 0.5h0m13 -1h0m16.5 0.5h0m7 0h0m13.5 -0.5h0m148 1h0m-204 0.5h0m5.5 0.5h0m13.5 0h0m3.5 -1h0m5 1h0m3 0h0m8.5 0h0m5.5 -1h0m2 0h0m4 0.5h0m5 -0.5h0m9.5 0h0m3.5 0.5h0m-27.5 1.5h0m0 -0.5h0m1 0h0m43.5 -0.5h0m-93 1h0m14.5 1h0m13.5 -0.5h0m3 -0.5h0m6.5 1h0m5 0h0m5.5 0h0m28.5 -0.5h0m8 0.5h0m11 -1h0m-94.5 2h0m12.5 -1h0m43.5 0.5h0m5 0.5h0m3.5 -1h0m1 0.5h0m-47.5 1h0m1.5 0h0m7 0h0m9.5 0h0m9.5 0h0m43 0h0m-82.5 1h0m21 0h0m51.5 -0.5h0m7 1h0m-87 0.5h0m7 0.5h0m6 0h0m57.5 -1h0m6.5 0.5h0m5 0.5h0m15.5 0h0m-89.5 0.5h0m6.5 0h0m18 0h0m4 0.5h0m38.5 -0.5h0m115 0h0m-188.5 1h0m11 0h0m3.5 0.5h0m4.5 -0.5h0m21.5 0h0m1 0.5h0m15.5 -1h0m80.5 0h0m-139 1.5h0m10.5 0h0m1.5 0h0m5.5 0.5h0m0.5 0h0m30.5 -1h0m4.5 0.5h0m1 0.5h0m3.5 -0.5h0m14 0.5h0m13 -0.5h0m-66.5 0.5h0m3.5 1h0m12 -1h0m20.5 0.5h0m7 0.5h0m2.5 -0.5h0m11 0h0m15.5 -0.5h0m-74.5 1.5h0m50 -0.5h0m2 1h0m2.5 -0.5h0m3 0h0m2.5 -0.5h0m-66 1.5h0m39.5 -0.5h0m15.5 0.5h0m16 0.5h0m12.5 -1h0m-64 1.5h0m3.5 0h0m6 0.5h0m8 -0.5h0m16 0.5h0m33 -1h0m0.5 0h0m70 0.5h0m33.5 -0.5h0m-157 1.5h0m42 0h0m-71.5 1h0m55.5 0h0m2.5 0.5h0m-63 0.5h0m28.5 0.5h0m60.5 0h0m121.5 0h0m-213.5 1h0m6.5 0h0m29.5 -0.5h0m3.5 0h0m7.5 0h0m8 0h0m18 0h0m16 0.5h0m-89 1h0m2 -1h0m9.5 0h0m38.5 0.5h0m2.5 0h0m4.5 0h0m5 0.5h0m18.5 -0.5h0m80 -0.5h0m-162.5 1h0m29.5 1h0m6 0h0m7 0h0m21 -1h0m-58 1h0m19 0h0m30.5 1h0m4.5 -0.5h0m10.5 0h0m1.5 0.5h0m10 -1h0m-73.5 1.5h0m4 0h0m48.5 0h0m3 0h0m7 0h0m9.5 0h0m10 0.5h0m47 0h0m49.5 -0.5h0m-140.5 1.5h0m11.5 -0.5h0m4.5 0.5h0m30 0h0m35 -1h0m-111.5 1.5h0m33 0h0m18.5 0h0m79.5 0h0m15.5 -0.5h0m-144 1.5h0m2.5 0h0m13 -0.5h0m41 0.5h0m14 -0.5h0m-67 1.5h0m7 -0.5h0m7.5 0.5h0m5.5 -0.5h0m25 0.5h0m24.5 -0.5h0m3.5 1h0m82.5 -0.5h0m39 0h0m-208.5 0.5h0m13.5 0.5h0m1 -0.5h0m16.5 0h0m3 0h0m8 0h0m0 0.5h0m25 0h0m16.5 0.5h0m2.5 -1h0m118 0.5h0m-201.5 0.5h0m27.5 0.5h0m12 0h0m18 0h0m11.5 0h0m3 0h0m59.5 0.5h0m-83.5 0.5h0m2.5 0h0m16 -0.5h0m53.5 1h0m-108.5 1h0m15.5 -0.5h0m7 0h0m34 0h0m100.5 0.5h0m-119 0.5h0m31 -0.5h0m2.5 1h0m-84 0h0m22.5 0.5h0m2 0.5h0m6.5 -1h0m4 0.5h0m19 -0.5h0m8 1h0m-51.5 0h0m22.5 0h0m-5.5 1.5h0m43 0h0m13 0.5h0m2 0h0m41.5 -0.5h0m13 -0.5h0m0.5 0h0m-126.5 1.5h0m28.5 0.5h0m24 -0.5h0m3.5 -0.5h0m70.5 0h0m-138.5 1h0m23 0h0m5 0.5h0m23.5 0h0m0.5 0.5h0m7 -0.5h0m6.5 0h0m2.5 0h0m-81.5 1h0m70 -0.5h0m11.5 0h0m9.5 0.5h0m110 0h0m-188.5 0.5h0m62.5 0.5h0m15 -0.5h0m-86.5 1.5h0m50 0h0m27.5 0h0m74 0h0m2.5 0.5h0m-109.5 1h0m18.5 -0.5h0m-54.5 1.5h0m8.5 0h0m12 0h0m5.5 -0.5h0m101.5 0.5h0m-131 0.5h0m44.5 -0.5h0m12 0h0m3 1h0m132.5 0h0m-157.5 0h0m12 0h0m40 0h0m83 0.5h0m-155.5 1h0m7 0h0m11 0.5h0m16 -1h0m17.5 1h0m17.5 -0.5h0m92.5 0h0m10.5 0h0m-174.5 1h0m25 0.5h0m51 -1h0m-87 1.5h0m199.5 -0.5h0m-41.5 1.5h0m-142.5 0.5h0m23 0.5h0m25 0h0m75 0.5h0m16.5 -1h0m23.5 0.5h0m-163.5 1.5h0m6 -1h0m110.5 1h0m11.5 -1h0m3 0.5h0m60 0.5h0m-126.5 0.5h0m6.5 -0.5h0m85.5 1h0m30.5 -0.5h0m-174.5 1h0m41.5 -0.5h0m8 0.5h0m95.5 0h0m25 -0.5h0m-160 1.5h0m141.5 0.5h0m-114 0.5h0m127 -0.5h0m-147 2h0m34 0h0m8 -0.5h0m55.5 0h0m20 0h0m-148 1h0m4.5 -0.5h0m19.5 0.5h0m8 -0.5h0m129 0.5h0m9.5 0h0m-153.5 1h0m50 0h0m107 0h0m-132.5 1h0m94.5 0.5h0m-147.5 1h0m8.5 -0.5h0m-17.5 1h0m25.5 -0.5h0m6 0.5h0m38.5 -0.5h0m134.5 0.5h0m-168.5 0.5h0m19 0h0m155 0.5h0m-187.5 0.5h0m109.5 0h0m-124 1.5h0m174 0h0m12.5 -0.5h0m-135.5 1.5h0m-54 1.5h0m35.5 -1h0m83 0.5h0m47 -0.5h0m16 0h0m27 0.5h0m-197 0.5h0m48 0.5h0m129.5 0.5h0m12.5 -1h0m-152.5 2h0m26 -0.5h0m10 0h0m82.5 0.5h0m-169.5 0h0m74.5 0h0m66.5 0.5h0m53.5 0.5h0m7.5 1h0m-204.5 1.5h0m2.5 0h0m79 -0.5h0m84 0.5h0m51 0h0m-215 1h0m1.5 0.5h0m82.5 -1h0m73 1.5h0m58.5 -0.5h0m-208 2.5h0m60.5 0h0m88 -0.5h0m1.5 1h0m6 -0.5h0m-151 1h0m19 0h0m131.5 0.5h0m-125.5 1h0m9.5 -0.5h0m108 0h0m46 0h0m-74 0.5h0m-104 1.5h0m99 -0.5h0m67.5 0.5h0m17.5 0h0m0.5 -0.5h0m-75 1.5h0m46 0.5h0m3.5 0h0m27 -0.5h0m-192 0.5h0m16 0.5h0m4.5 0h0m23.5 0h0m12 0h0m52.5 -0.5h0m-121 1.5h0m64.5 0h0m14.5 0h0m73.5 0.5h0m2.5 0h0m33.5 -1h0m-145 1.5h0m79.5 0h0m0.5 0h0m37.5 0h0m-130 2h0m7.5 0h0m127 -0.5h0m-170 1.5h0m144 0h0m51 0h0m-152 1.5h0m87.5 -1h0m6 1h0m14.5 -0.5h0m8.5 0h0m50 -0.5h0m-185 2h0m1.5 -0.5h0m112 -0.5h0m1 1h0m12 0h0m19 -0.5h0m33 0h0m10.5 -0.5h0m-175 2h0m124.5 -0.5h0m30.5 0h0m-195.5 0.5h0m10 0h0m127 0h0m25 0.5h0m20.5 -0.5h0m-47 1.5h0m16.5 0.5h0m3 -0.5h0m55 0.5h0m-194.5 0h0m108 1h0m63.5 -0.5h0m2 -0.5h0m4.5 0h0m15 0.5h0m-152 1.5h0m79 -1h0m54.5 0.5h0m-160.5 0.5h0m110 0.5h0m41.5 -0.5h0m5 1h0m3.5 -0.5h0m7 0h0m14 -0.5h0m-66.5 1.5h0m5.5 0.5h0m10 0.5h0m55 0h0m-175 0.5h0m88 1h0m-102.5 1h0m54 -0.5h0m2 1h0m11 0h0m-26.5 1h0m150 -0.5h0m1 1h0m-126 1h0m-56.5 0.5h0m161 -0.5h0m15.5 1h0m-10.5 0.5h0m10.5 -0.5h0m-176 2h0m153 0h0m-150.5 1.5h0m88.5 0.5h0m-68.5 0h0m20 1h0m60.5 0.5h0m74 -0.5h0m-78 1.5h0m67 -0.5h0m-78 1.5h0m6 -0.5h0m19 0.5h0m-99 1h0m145 0h0m-42.5 2h0m1.5 -0.5h0m47.5 0.5h0m-45.5 1h0m4.5 0.5h0m47 -0.5h0m12.5 0h0m-61.5 2.5h0m-12.5 0.5h0m3 0.5h0m13 0.5h0m35 0h0m-67.5 1h0m19 0.5h0m-21 1h0m14 -0.5h0m2 1h0m25.5 0.5h0m-38.5 1h0m49 0.5h0m10.5 0h0m3 0.5h0m-103 0.5h0m53.5 0h0m26.5 0.5h0m13 0h0m-55 1h0m6.5 1h0m79 -0.5h0m-55.5 0.5h0m60.5 1.5h0m-16 1h0m-62 2.5h0m20 -1h0m46 0h0m7 3h0m-75.5 0h0m17 1h0m-25.5 1h0m8.5 0.5h0m76 2.5h0m-160 0h0m111.5 0.5h0m-36 1h0m72 1h0m-50.5 0.5h0m40.5 0h0m-13.5 1.5h0m9 0h0m-47.5 1.5h0m24 -0.5h0m7 0.5h0m22 2h0m-28.5 1h0m-37.5 1.5h0m7.5 2h0m68.5 1h0m7.5 2h0m-24.5 2h0m15 -0.5h0m-154.5 2h0m151.5 3h0m-55 1.5h0m11.5 0h0m25.5 0h0m1 2.5h0" stroke="#000" stroke-width="4.1" stroke-linecap="round" fill="none"/>
<path d="M1018.8 584.3 H1116.8" stroke="#000" stroke-width="4.2" stroke-linecap="round" fill="none"/>
<path d="M1068.5 162.1 1068.5 163.1 1068.5 164.1 1068.5 165.1 1068.5 166.1 1068.5 167.1 1068.5 168.1 1068.5 169.1 1068.5 170.1 1068.5 171.1 1068.5 172.1 1068.5 173.1 1068.4 174.1 1068.4 175.1 1068.4 176.1 1068.4 177.1 1068.4 178.1 1068.3 179.1 1068.3 180.1 1068.2 181.1 1068.1 182.1 1068 183.1 1067.8 184.1 1067.6 185.1 1067.2 186.1 1066.8 187.1 1066.4 188.1 1065.9 189.1 1065.4 190.1 1064.7 191.1 1064 192.1 1063.1 193.1 1062.2 194.1 1061.3 195.1 1060.3 196.1 1059.2 197.1 1058 198.1 1056.7 199.1 1055.4 200.1 1054.1 201.1 1052.8 202.1 1051.5 203.1 1050.1 204.1 1048.7 205.1 1047.2 206.1 1045.6 207.1 1043.9 208.1 1042.2 209.1 1040.3 210.1 1038.5 211.1 1036.6 212.1 1034.6 213.1 1032.6 214.1 1030.4 215.1 1028.3 216.1 1026.3 217.1 1024.5 218.1 1022.8 219.1 1021.1 220.1 1019.6 221.1 1018.1 222.1 1016.8 223.1 1015.7 224.1 1014.7 225.1 1013.9 226.1 1013.4 227.1 1013.1 228.1 1013.2 229.1 1013.5 230.1 1014 231.1 1014.8 232.1 1015.9 233.1 1017.2 234.1 1018.5 235.1 1020 236.1 1021.8 237.1 1023.8 238.1 1025.9 239.1 1028 240.1 1029.9 241.1 1031.7 242.1 1033.5 243.1 1035.3 244.1 1037 245.1 1038.6 246.1 1040 247.1 1041.4 248.1 1042.7 249.1 1043.9 250.1 1045.1 251.1 1046.2 252.1 1047.2 253.1 1048.2 254.1 1049.2 255.1 1050.1 256.1 1051 257.1 1051.8 258.1 1052.6 259.1 1053.3 260.1 1054 261.1 1054.6 262.1 1055.2 263.1 1055.8 264.1 1056.3 265.1 1056.8 266.1 1057.3 267.1 1057.7 268.1 1058.1 269.1 1058.5 270.1 1058.9 271.1 1059.2 272.1 1059.5 273.1 1059.8 274.1 1060.2 275.1 1060.4 276.1 1060.7 277.1 1061 278.1 1061.3 279.1 1061.5 280.1 1061.8 281.1 1062 282.1 1062.3 283.1 1062.5 284.1 1062.7 285.1 1062.9 286.1 1063.1 287.1 1063.3 288.1 1063.5 289.1 1063.7 290.1 1063.9 291.1 1064.1 292.1 1064.3 293.1 1064.5 294.1 1064.6 295.1 1064.8 296.1 1064.9 297.1 1065.1 298.1 1065.2 299.1 1065.4 300.1 1065.5 301.1 1065.7 302.1 1065.8 303.1 1065.9 304.1 1066.1 305.1 1066.2 306.1 1066.3 307.1 1066.5 308.1 1066.6 309.1 1066.7 310.1 1066.8 311.1 1067 312.1 1067.1 313.1 1067.2 314.1 1067.3 315.1 1067.4 316.1 1067.5 317.1 1067.6 318.1 1067.7 319.1 1067.7 320.1 1067.8 321.1 1067.9 322.1 1068 323.1 1068.1 324.1 1068.1 325.1 1068.2 326.1 1068.2 327.1 1068.2 328.1 1068.2 329.1 1068.2 330.1 1068.2 331.1 1068.3 332.1 1068.3 333.1 1068.3 334.1 1068.3 335.1 1068.3 336.1 1068.3 337.1 1068.3 338.1 1068.3 339.1 1068.3 340.1 1068.3 341.1 1068.3 342.1 1068.3 343.1 1068.3 344.1 1068.3 345.1 1068.3 346.1 1068.3 347.1 1068.4 348.1 1068.4 349.1 1068.4 350.1 1068.4 351.1 1068.4 352.1 1068.4 353.1 1068.4 354.1 1068.4 355.1 1068.4 356.1 1068.4 357.1 1068.4 358.1 1068.4 359.1 1068.4 360.1 1068.4 361.1 1068.4 362.1 1068.4 363.1 1068.4 364.1 1068.4 365.1 1068.4 366.1 1068.4 367.1 1068.4 368.1 1068.4 369.1 1068.4 370.1 1068.4 371.1 1068.4 372.1 1068.4 373.1 1068.4 374.1 1068.4 375.1 1068.4 376.1 1068.4 377.1 1068.4 378.1 1068.4 379.1 1068.4 380.1 1068.4 381.1 1068.4 382.1 1068.4 383.1 1068.4 384.1 1068.4 385.1 1068.4 386.1 1068.4 387.1 1068.4 388.1 1068.4 389.1 1068.4 390.1 1068.4 391.1 1068.4 392.1 1068.4 393.1 1068.4 394.1 1068.4 395.1 1068.4 396.1 1068.4 397.1 1068.4 398.1 1068.4 399.1 1068.4 400.1 1068.4 401.1 1068.4 402.1 1068.4 403.1 1068.4 404.1 1068.4 405.1 1068.4 406.1 1068.4 407.1 1068.4 408.1 1068.4 409.1 1068.4 410.1 1068.4 411.1 1068.4 412.1 1068.4 413.1 1068.4 414.1 1068.4 415.1 1068.4 416.1 1068.4 417.1 1068.4 418.1 1068.4 419.1 1068.4 420.1 1068.4 421.1 1068.4 422.1 1068.4 423.1 1068.4 424.1 1068.4 425.1 1068.4 426.1 1068.4 427.1 1068.4 428.1 1068.4 429.1 1068.4 430.1 1068.4 431.1 1068.4 432.1 1068.4 433.1 1068.4 434.1 1068.4 435.1 1068.4 436.1 1068.4 437.1 1068.4 438.1 1068.4 439.1 1068.4 440.1 1068.4 441.1 1068.4 442.1 1068.4 443.1 1068.4 444.1 1068.4 445.1 1068.4 446.1 1068.4 447.1 1068.4 448.1 1068.4 449.1 1068.4 450.1 1068.4 451.1 1068.4 452.1 1068.4 453.1 1068.4 454.1 1068.4 455.1 1068.4 456.1 1068.4 457.1 1068.4 458.1 1068.4 459.1 1068.4 460.1 1068.4 461.1 1068.4 462.1 1068.4 463.1 1068.4 464.1 1068.4 465.1 1068.4 466.1 1068.4 467.1 1068.4 468.1 1068.4 469.1 1068.4 470.1 1068.4 471.1 1068.4 472.1 1068.4 473.1 1068.4 474.1 1068.4 475.1 1068.4 476.1 1068.4 477.1 1068.4 478.1 1068.4 479.1 1068.4 480.1 1068.4 481.1 1068.4 482.1 1068.4 483.1 1068.4 484.1 1068.4 485.1 1068.4 486.1 1068.4 487.1 1068.4 488.1 1068.4 489.1 1068.4 490.1 1068.4 491.1 1068.4 492.1 1068.4 493.1 1068.4 494.1 1068.4 495.1 1068.4 496.1 1068.4 497.1 1068.4 498.1 1068.4 499.1 1068.4 500.1 1068.4 501.1 1068.4 502.1 1068.4 503.1 1068.4 504.1 1068.4 505.1 1068.4 506.1 1068.4 507.1 1068.4 508.1 1068.4 509.1 1068.4 510.1 1068.4 511.1 1068.4 512.1 1068.4 513.1 1068.4 514.1 1068.4 515.1 1068.4 516.1 1068.4 517.1 1068.4 518.1 1068.4 519.1 1068.4 520.1 1068.4 521.1 1068.4 522.1 1068.4 523.1 1068.4 524.1 1068.4 525.1 1068.4 526.1 1068.4 527.1 1068.4 528.1 1068.4 529.1 1068.4 530.1 1068.4 531.1 1068.4 532.1 1068.4 533.1 1068.4 534.1 1068.4 535.1 1068.4 536.1 1068.4 537.1 1068.4 538.1 1068.4 539.1 1068.4 540.1 1068.4 541.1 1068.4 542.1 1068.4 543.1 1068.4 544.1 1068.4 545.1 1068.4 546.1 1068.4 547.1 1068.4 548.1 1068.4 549.1 1068.4 550.1 1068.4 551.1 1068.4 552.1 1068.4 553.1 1068.4 554.1 1068.4 555.1 1068.4 556.1 1068.4 557.1 1068.4 558.1 1068.4 559.1 1068.4 560.1 1068.4 561.1 1068.4 562.1 1068.4 563.1 1068.4 564.1 1068.4 565.1 1068.4 566.1 1068.4 567.1 1068.4 568.1 1068.4 569.1 1068.4 570.1 1068.4 571.1 1068.4 572.1 1068.4 573.1 1068.2 574.1 1068 575.1 1067.7 576.1 1067.1 577.1 1066.3 578.1 1065.4 579.1 1064.2 580.1 1062.7 581.1 1061 582.1 1059.4 583.1 1058.7 584.1 L1079.1 584.1 1078.4 583.1 1076.8 582.1 1075.1 581.1 1073.6 580.1 1072.4 579.1 1071.5 578.1 1070.7 577.1 1070.1 576.1 1069.8 575.1 1069.6 574.1 1069.4 573.1 1069.4 572.1 1069.4 571.1 1069.4 570.1 1069.4 569.1 1069.4 568.1 1069.4 567.1 1069.4 566.1 1069.4 565.1 1069.4 564.1 1069.4 563.1 1069.4 562.1 1069.4 561.1 1069.4 560.1 1069.4 559.1 1069.4 558.1 1069.4 557.1 1069.4 556.1 1069.4 555.1 1069.4 554.1 1069.4 553.1 1069.4 552.1 1069.4 551.1 1069.4 550.1 1069.4 549.1 1069.4 548.1 1069.4 547.1 1069.4 546.1 1069.4 545.1 1069.4 544.1 1069.4 543.1 1069.4 542.1 1069.4 541.1 1069.4 540.1 1069.4 539.1 1069.4 538.1 1069.4 537.1 1069.4 536.1 1069.4 535.1 1069.4 534.1 1069.4 533.1 1069.4 532.1 1069.4 531.1 1069.4 530.1 1069.4 529.1 1069.4 528.1 1069.4 527.1 1069.4 526.1 1069.4 525.1 1069.4 524.1 1069.4 523.1 1069.4 522.1 1069.4 521.1 1069.4 520.1 1069.4 519.1 1069.4 518.1 1069.4 517.1 1069.4 516.1 1069.4 515.1 1069.4 514.1 1069.4 513.1 1069.4 512.1 1069.4 511.1 1069.4 510.1 1069.4 509.1 1069.4 508.1 1069.4 507.1 1069.4 506.1 1069.4 505.1 1069.4 504.1 1069.4 503.1 1069.4 502.1 1069.4 501.1 1069.4 500.1 1069.4 499.1 1069.4 498.1 1069.4 497.1 1069.4 496.1 1069.4 495.1 1069.4 494.1 1069.4 493.1 1069.4 492.1 1069.4 491.1 1069.4 490.1 1069.4 489.1 1069.4 488.1 1069.4 487.1 1069.4 486.1 1069.4 485.1 1069.4 484.1 1069.4 483.1 1069.4 482.1 1069.4 481.1 1069.4 480.1 1069.4 479.1 1069.4 478.1 1069.4 477.1 1069.4 476.1 1069.4 475.1 1069.4 474.1 1069.4 473.1 1069.4 472.1 1069.4 471.1 1069.4 470.1 1069.4 469.1 1069.4 468.1 1069.4 467.1 1069.4 466.1 1069.4 465.1 1069.4 464.1 1069.4 463.1 1069.4 462.1 1069.4 461.1 1069.4 460.1 1069.4 459.1 1069.4 458.1 1069.4 457.1 1069.4 456.1 1069.4 455.1 1069.4 454.1 1069.4 453.1 1069.4 452.1 1069.4 451.1 1069.4 450.1 1069.4 449.1 1069.4 448.1 1069.4 447.1 1069.4 446.1 1069.4 445.1 1069.4 444.1 1069.4 443.1 1069.4 442.1 1069.4 441.1 1069.4 440.1 1069.4 439.1 1069.4 438.1 1069.4 437.1 1069.4 436.1 1069.4 435.1 1069.4 434.1 1069.4 433.1 1069.4 432.1 1069.4 431.1 1069.4 430.1 1069.4 429.1 1069.4 428.1 1069.4 427.1 1069.4 426.1 1069.4 425.1 1069.4 424.1 1069.4 423.1 1069.4 422.1 1069.4 421.1 1069.4 420.1 1069.4 419.1 1069.4 418.1 1069.4 417.1 1069.4 416.1 1069.4 415.1 1069.4 414.1 1069.4 413.1 1069.4 412.1 1069.4 411.1 1069.4 410.1 1069.4 409.1 1069.4 408.1 1069.4 407.1 1069.4 406.1 1069.4 405.1 1069.4 404.1 1069.4 403.1 1069.4 402.1 1069.4 401.1 1069.4 400.1 1069.4 399.1 1069.4 398.1 1069.4 397.1 1069.4 396.1 1069.4 395.1 1069.4 394.1 1069.4 393.1 1069.4 392.1 1069.4 391.1 1069.4 390.1 1069.4 389.1 1069.4 388.1 1069.4 387.1 1069.4 386.1 1069.4 385.1 1069.4 384.1 1069.4 383.1 1069.4 382.1 1069.4 381.1 1069.4 380.1 1069.4 379.1 1069.4 378.1 1069.4 377.1 1069.4 376.1 1069.4 375.1 1069.4 374.1 1069.4 373.1 1069.4 372.1 1069.4 371.1 1069.4 370.1 1069.4 369.1 1069.4 368.1 1069.4 367.1 1069.4 366.1 1069.4 365.1 1069.4 364.1 1069.4 363.1 1069.4 362.1 1069.4 361.1 1069.4 360.1 1069.4 359.1 1069.4 358.1 1069.4 357.1 1069.4 356.1 1069.4 355.1 1069.4 354.1 1069.4 353.1 1069.4 352.1 1069.4 351.1 1069.4 350.1 1069.4 349.1 1069.4 348.1 1069.5 347.1 1069.5 346.1 1069.5 345.1 1069.5 344.1 1069.5 343.1 1069.5 342.1 1069.5 341.1 1069.5 340.1 1069.5 339.1 1069.5 338.1 1069.5 337.1 1069.5 336.1 1069.5 335.1 1069.5 334.1 1069.5 333.1 1069.5 332.1 1069.6 331.1 1069.6 330.1 1069.6 329.1 1069.6 328.1 1069.6 327.1 1069.6 326.1 1069.7 325.1 1069.7 324.1 1069.8 323.1 1069.9 322.1 1070 321.1 1070.1 320.1 1070.1 319.1 1070.2 318.1 1070.3 317.1 1070.4 316.1 1070.5 315.1 1070.6 314.1 1070.7 313.1 1070.8 312.1 1071 311.1 1071.1 310.1 1071.2 309.1 1071.3 308.1 1071.5 307.1 1071.6 306.1 1071.7 305.1 1071.9 304.1 1072 303.1 1072.1 302.1 1072.3 301.1 1072.4 300.1 1072.6 299.1 1072.7 298.1 1072.9 297.1 1073 296.1 1073.2 295.1 1073.3 294.1 1073.5 293.1 1073.7 292.1 1073.9 291.1 1074.1 290.1 1074.3 289.1 1074.5 288.1 1074.7 287.1 1074.9 286.1 1075.1 285.1 1075.3 284.1 1075.5 283.1 1075.8 282.1 1076 281.1 1076.3 280.1 1076.5 279.1 1076.8 278.1 1077.1 277.1 1077.4 276.1 1077.6 275.1 1078 274.1 1078.3 273.1 1078.6 272.1 1078.9 271.1 1079.3 270.1 1079.7 269.1 1080.1 268.1 1080.5 267.1 1081 266.1 1081.5 265.1 1082 264.1 1082.6 263.1 1083.2 262.1 1083.8 261.1 1084.5 260.1 1085.2 259.1 1086 258.1 1086.8 257.1 1087.7 256.1 1088.6 255.1 1089.6 254.1 1090.6 253.1 1091.6 252.1 1092.7 251.1 1093.9 250.1 1095.1 249.1 1096.4 248.1 1097.8 247.1 1099.2 246.1 1100.8 245.1 1102.5 244.1 1104.3 243.1 1106.1 242.1 1107.9 241.1 1109.8 240.1 1111.9 239.1 1114 238.1 1116 237.1 1117.8 236.1 1119.3 235.1 1120.6 234.1 1121.9 233.1 1123 232.1 1123.8 231.1 1124.3 230.1 1124.6 229.1 1124.7 228.1 1124.4 227.1 1123.9 226.1 1123.1 225.1 1122.1 224.1 1121 223.1 1119.7 222.1 1118.2 221.1 1116.7 220.1 1115 219.1 1113.3 218.1 1111.5 217.1 1109.5 216.1 1107.4 215.1 1105.2 214.1 1103.2 213.1 1101.2 212.1 1099.3 211.1 1097.5 210.1 1095.6 209.1 1093.9 208.1 1092.2 207.1 1090.6 206.1 1089.1 205.1 1087.7 204.1 1086.3 203.1 1085 202.1 1083.7 201.1 1082.4 200.1 1081.1 199.1 1079.8 198.1 1078.6 197.1 1077.5 196.1 1076.5 195.1 1075.6 194.1 1074.7 193.1 1073.8 192.1 1073.1 191.1 1072.4 190.1 1071.9 189.1 1071.4 188.1 1071 187.1 1070.6 186.1 1070.2 185.1 1070 184.1 1069.8 183.1 1069.7 182.1 1069.6 181.1 1069.5 180.1 1069.5 179.1 1069.4 178.1 1069.4 177.1 1069.4 176.1 1069.4 175.1 1069.4 174.1 1069.3 173.1 1069.3 172.1 1069.3 171.1 1069.3 170.1 1069.3 169.1 1069.3 168.1 1069.3 167.1 1069.3 166.1 1069.3 165.1 1069.3 164.1 1069.3 163.1 1069.3 162.1 Z" fill="#5EB9D3" stroke="#333333" stroke-width="2.4" stroke-linejoin="round"/>
<path d="M1192.8 247.8 V584.3" stroke="#333333" stroke-width="3.0" fill="none"/>
<path d="M1137 584.5 L1142.8 583.2 L1242.8 583.2 L1248.6 584.5 L1242.8 585.8 L1142.8 585.8 Z" fill="#333333" stroke="#333333" stroke-width="1.6" stroke-linejoin="round"/>
</g>
<text transform="translate(936.8 368.4) rotate(-90)" font-size="37.1" text-anchor="middle" font-family="'DejaVu Sans', 'Liberation Sans', sans-serif">Expression level [nUMI]</text>
<text transform="translate(68.1 1205.6) rotate(-90)" font-size="37.1" text-anchor="middle" font-family="'DejaVu Sans', 'Liberation Sans', sans-serif">Expression level [nUMI]</text>
<rect x="993.6" y="660.5" width="1031.6" height="57.5" fill="#fff" stroke="#929292" stroke-width="3.6"/>
<text x="1506.7" y="701" font-size="36.8" text-anchor="middle" font-family="'DejaVu Sans', 'Liberation Sans', sans-serif">In cardiomyocyte cluster 0 only</text>
<rect x="124.8" y="1499" width="1031.6" height="57.3" fill="#fff" stroke="#929292" stroke-width="3.6"/>
<text x="636.6" y="1538.6" font-size="36.8" text-anchor="middle" font-family="'DejaVu Sans', 'Liberation Sans', sans-serif">In cardiomyocyte cluster 0 only</text>
</svg></body></html>
